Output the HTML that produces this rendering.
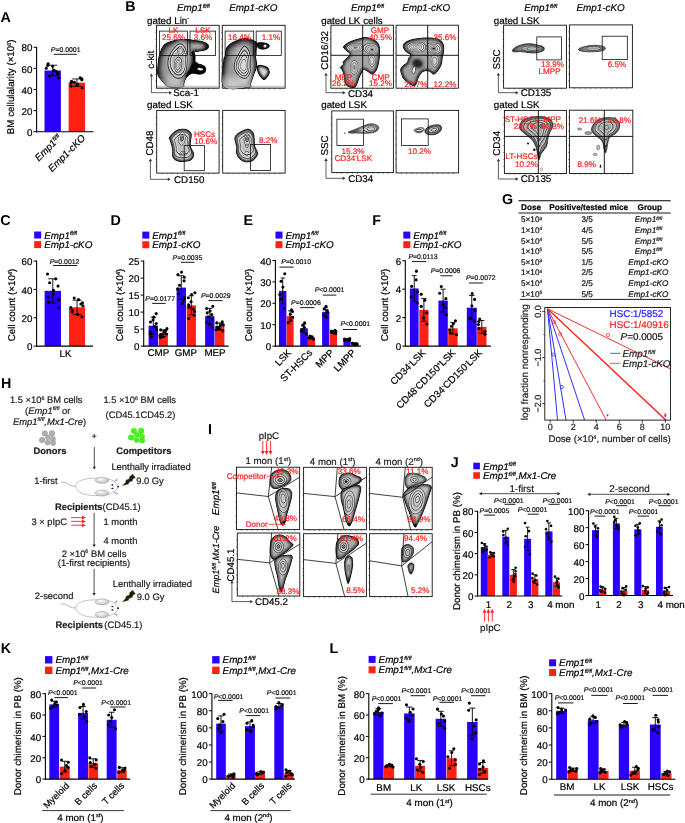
<!DOCTYPE html>
<html><head><meta charset="utf-8"><style>
html,body{margin:0;padding:0;background:#fff;}
svg{display:block;font-family:"Liberation Sans",sans-serif;will-change:transform;text-rendering:geometricPrecision;}
</style></head><body>
<svg width="685" height="823" viewBox="0 0 685 823">
<defs>
<filter id="blur1" x="-50%" y="-50%" width="200%" height="200%"><feGaussianBlur stdDeviation="1"/></filter>
<filter id="blur2" x="-50%" y="-50%" width="200%" height="200%"><feGaussianBlur stdDeviation="2"/></filter>
<filter id="blur1p5" x="-50%" y="-50%" width="200%" height="200%"><feGaussianBlur stdDeviation="1.5"/></filter>
<filter id="blur3" x="-50%" y="-50%" width="200%" height="200%"><feGaussianBlur stdDeviation="3"/></filter>
<linearGradient id="fadeW" x1="0" y1="0" x2="0" y2="1"><stop offset="0" stop-color="#fff" stop-opacity="0"/><stop offset="1" stop-color="#fff" stop-opacity="0.8"/></linearGradient>
<radialGradient id="gblob" cx="50%" cy="50%" r="50%">
<stop offset="0" stop-color="#d8d8d8"/><stop offset="0.35" stop-color="#9a9a9a"/><stop offset="0.75" stop-color="#3a3a3a"/><stop offset="1" stop-color="#050505"/>
</radialGradient>
<radialGradient id="gblob2" cx="50%" cy="50%" r="50%">
<stop offset="0" stop-color="#bdbdbd"/><stop offset="0.5" stop-color="#6e6e6e"/><stop offset="1" stop-color="#1a1a1a"/>
</radialGradient>
<radialGradient id="gcellg" cx="40%" cy="35%" r="70%">
<stop offset="0" stop-color="#c4c4c4"/><stop offset="1" stop-color="#9a9a9a"/>
</radialGradient>
<radialGradient id="gear" cx="40%" cy="35%" r="70%">
<stop offset="0" stop-color="#fafafa"/><stop offset="1" stop-color="#bcbcbc"/>
</radialGradient>
</defs>
<defs><filter id="ins0p6_0p7" x="-20%" y="-20%" width="140%" height="140%"><feMorphology operator="erode" radius="0.6"/><feGaussianBlur stdDeviation="0.7"/></filter><filter id="ins0p8_0p9" x="-20%" y="-20%" width="140%" height="140%"><feMorphology operator="erode" radius="0.8"/><feGaussianBlur stdDeviation="0.9"/></filter><filter id="ins0p9_1p0" x="-20%" y="-20%" width="140%" height="140%"><feMorphology operator="erode" radius="0.9"/><feGaussianBlur stdDeviation="1.0"/></filter><filter id="ins0p9_1p1" x="-20%" y="-20%" width="140%" height="140%"><feMorphology operator="erode" radius="0.9"/><feGaussianBlur stdDeviation="1.1"/></filter><filter id="ins1p0_1p1" x="-20%" y="-20%" width="140%" height="140%"><feMorphology operator="erode" radius="1.0"/><feGaussianBlur stdDeviation="1.1"/></filter><filter id="ins1p1_1p2" x="-20%" y="-20%" width="140%" height="140%"><feMorphology operator="erode" radius="1.1"/><feGaussianBlur stdDeviation="1.2"/></filter><filter id="ins1p2_1p0" x="-20%" y="-20%" width="140%" height="140%"><feMorphology operator="erode" radius="1.2"/><feGaussianBlur stdDeviation="1.0"/></filter><filter id="ins1p2_1p3" x="-20%" y="-20%" width="140%" height="140%"><feMorphology operator="erode" radius="1.2"/><feGaussianBlur stdDeviation="1.3"/></filter><filter id="ins1p3_1p4" x="-20%" y="-20%" width="140%" height="140%"><feMorphology operator="erode" radius="1.3"/><feGaussianBlur stdDeviation="1.4"/></filter><filter id="ins1p4_1p6" x="-20%" y="-20%" width="140%" height="140%"><feMorphology operator="erode" radius="1.4"/><feGaussianBlur stdDeviation="1.6"/></filter><filter id="ins1p6_1p8" x="-20%" y="-20%" width="140%" height="140%"><feMorphology operator="erode" radius="1.6"/><feGaussianBlur stdDeviation="1.8"/></filter><filter id="ins1p8_2p4" x="-20%" y="-20%" width="140%" height="140%"><feMorphology operator="erode" radius="1.8"/><feGaussianBlur stdDeviation="2.4"/></filter></defs>
<rect width="685" height="823" fill="#fff"/>
<text x="0.50" y="22.44" font-size="14.3" style="font-weight:bold">A</text>
<rect x="44.50" y="70.51" width="16.40" height="61.19" fill="#2a00ff"/>
<rect x="68.60" y="82.64" width="16.50" height="49.06" fill="#ff2212"/>
<line x1="52.70" y1="65.23" x2="52.70" y2="75.78" stroke="#000" stroke-width="0.9" />
<line x1="48.11" y1="65.23" x2="57.29" y2="65.23" stroke="#000" stroke-width="0.9" />
<line x1="48.11" y1="75.78" x2="57.29" y2="75.78" stroke="#000" stroke-width="0.9" />
<circle cx="58.56" cy="78.02" r="1.55" fill="#000"/>
<circle cx="49.37" cy="75.94" r="1.55" fill="#000"/>
<circle cx="57.87" cy="74.22" r="1.55" fill="#000"/>
<circle cx="57.40" cy="72.84" r="1.55" fill="#000"/>
<circle cx="56.04" cy="71.33" r="1.55" fill="#000"/>
<circle cx="54.04" cy="70.16" r="1.55" fill="#000"/>
<circle cx="46.26" cy="68.27" r="1.55" fill="#000"/>
<circle cx="52.63" cy="66.30" r="1.55" fill="#000"/>
<circle cx="47.63" cy="65.52" r="1.55" fill="#000"/>
<circle cx="48.13" cy="63.84" r="1.55" fill="#000"/>
<line x1="76.85" y1="78.95" x2="76.85" y2="86.33" stroke="#000" stroke-width="0.9" />
<line x1="72.23" y1="78.95" x2="81.47" y2="78.95" stroke="#000" stroke-width="0.9" />
<line x1="72.23" y1="86.33" x2="81.47" y2="86.33" stroke="#000" stroke-width="0.9" />
<circle cx="82.21" cy="87.71" r="1.55" fill="#000"/>
<circle cx="70.96" cy="86.08" r="1.55" fill="#000"/>
<circle cx="76.69" cy="85.55" r="1.55" fill="#000"/>
<circle cx="77.64" cy="84.30" r="1.55" fill="#000"/>
<circle cx="71.02" cy="82.87" r="1.55" fill="#000"/>
<circle cx="74.26" cy="82.30" r="1.55" fill="#000"/>
<circle cx="71.61" cy="81.25" r="1.55" fill="#000"/>
<circle cx="81.82" cy="79.85" r="1.55" fill="#000"/>
<circle cx="81.84" cy="78.89" r="1.55" fill="#000"/>
<circle cx="80.17" cy="77.81" r="1.55" fill="#000"/>
<line x1="36.60" y1="46.80" x2="36.60" y2="132.20" stroke="#000" stroke-width="1.1" />
<line x1="36.10" y1="131.70" x2="93.50" y2="131.70" stroke="#000" stroke-width="1.1" />
<line x1="33.60" y1="131.70" x2="36.60" y2="131.70" stroke="#000" stroke-width="1.0" />
<text x="32.40" y="135.83" font-size="9.8" text-anchor="end" fill="#000" stroke="#000" stroke-width="0.2" style="" >0</text>
<line x1="33.60" y1="110.60" x2="36.60" y2="110.60" stroke="#000" stroke-width="1.0" />
<text x="32.40" y="114.73" font-size="9.8" text-anchor="end" fill="#000" stroke="#000" stroke-width="0.2" style="" >20</text>
<line x1="33.60" y1="89.50" x2="36.60" y2="89.50" stroke="#000" stroke-width="1.0" />
<text x="32.40" y="93.63" font-size="9.8" text-anchor="end" fill="#000" stroke="#000" stroke-width="0.2" style="" >40</text>
<line x1="33.60" y1="68.40" x2="36.60" y2="68.40" stroke="#000" stroke-width="1.0" />
<text x="32.40" y="72.53" font-size="9.8" text-anchor="end" fill="#000" stroke="#000" stroke-width="0.2" style="" >60</text>
<line x1="33.60" y1="47.30" x2="36.60" y2="47.30" stroke="#000" stroke-width="1.0" />
<text x="32.40" y="51.43" font-size="9.8" text-anchor="end" fill="#000" stroke="#000" stroke-width="0.2" style="" >80</text>
<text x="65.70" y="52.08" font-size="6.9" text-anchor="middle" fill="#111" stroke="#111" stroke-width="0.2" style="" ><tspan style="font-style:italic">P</tspan>=0.0001</text>
<line x1="53.70" y1="54.30" x2="76.90" y2="54.30" stroke="#000" stroke-width="0.9" />
<text transform="translate(13.83,86.80) rotate(-90)" font-size="9.8" text-anchor="middle" fill="#000" stroke="#000" stroke-width="0.2" style="">BM cellulalarity (×10<tspan font-size="5.59" dy="-3.33">6</tspan><tspan dy="3.33">)</tspan></text>
<text transform="translate(62.00,138.50) rotate(-45)" font-size="9.8" text-anchor="end" stroke="#000" stroke-width="0.2" style="font-style:italic;">Emp1<tspan font-size="5.59" dy="-3.33">fl/fl</tspan><tspan dy="3.33"></tspan></text>
<text transform="translate(86.00,138.50) rotate(-45)" font-size="9.8" text-anchor="end" stroke="#000" stroke-width="0.2" style="font-style:italic;">Emp1-cKO</text>
<text x="0.30" y="224.54" font-size="14.3" style="font-weight:bold">C</text>
<rect x="34.20" y="231.50" width="7.00" height="7.00" fill="#2a00ff"/>
<rect x="34.20" y="241.10" width="7.00" height="7.00" fill="#ff2212"/>
<text x="44.20" y="238.55" font-size="9.85" text-anchor="start" fill="#000" stroke="#000" stroke-width="0.2" style="font-style:italic;" >Emp1<tspan font-size="5.61" dy="-3.35">fl/fl</tspan><tspan dy="3.35"></tspan></text>
<text x="44.20" y="248.15" font-size="9.85" text-anchor="start" fill="#000" stroke="#000" stroke-width="0.2" style="font-style:italic;" >Emp1-cKO</text>
<rect x="44.60" y="290.84" width="16.40" height="55.26" fill="#2a00ff"/>
<rect x="69.00" y="307.27" width="16.10" height="38.83" fill="#ff2212"/>
<line x1="52.80" y1="278.79" x2="52.80" y2="302.88" stroke="#000" stroke-width="0.9" />
<line x1="48.21" y1="278.79" x2="57.39" y2="278.79" stroke="#000" stroke-width="0.9" />
<line x1="48.21" y1="302.88" x2="57.39" y2="302.88" stroke="#000" stroke-width="0.9" />
<circle cx="58.51" cy="307.71" r="1.55" fill="#000"/>
<circle cx="48.54" cy="302.14" r="1.55" fill="#000"/>
<circle cx="58.77" cy="299.63" r="1.55" fill="#000"/>
<circle cx="48.13" cy="296.96" r="1.55" fill="#000"/>
<circle cx="53.46" cy="293.78" r="1.55" fill="#000"/>
<circle cx="53.46" cy="290.34" r="1.55" fill="#000"/>
<circle cx="58.04" cy="286.12" r="1.55" fill="#000"/>
<circle cx="49.64" cy="282.74" r="1.55" fill="#000"/>
<circle cx="55.67" cy="278.83" r="1.55" fill="#000"/>
<circle cx="47.54" cy="274.01" r="1.55" fill="#000"/>
<line x1="77.05" y1="300.19" x2="77.05" y2="314.36" stroke="#000" stroke-width="0.9" />
<line x1="72.54" y1="300.19" x2="81.56" y2="300.19" stroke="#000" stroke-width="0.9" />
<line x1="72.54" y1="314.36" x2="81.56" y2="314.36" stroke="#000" stroke-width="0.9" />
<circle cx="81.95" cy="316.75" r="1.55" fill="#000"/>
<circle cx="77.74" cy="314.66" r="1.55" fill="#000"/>
<circle cx="72.14" cy="311.74" r="1.55" fill="#000"/>
<circle cx="72.30" cy="310.31" r="1.55" fill="#000"/>
<circle cx="70.84" cy="307.66" r="1.55" fill="#000"/>
<circle cx="82.88" cy="305.71" r="1.55" fill="#000"/>
<circle cx="80.90" cy="303.97" r="1.55" fill="#000"/>
<circle cx="82.45" cy="302.75" r="1.55" fill="#000"/>
<circle cx="78.49" cy="299.63" r="1.55" fill="#000"/>
<circle cx="74.23" cy="298.04" r="1.55" fill="#000"/>
<line x1="36.60" y1="260.58" x2="36.60" y2="346.60" stroke="#000" stroke-width="1.1" />
<line x1="36.10" y1="346.10" x2="93.10" y2="346.10" stroke="#000" stroke-width="1.1" />
<line x1="33.60" y1="346.10" x2="36.60" y2="346.10" stroke="#000" stroke-width="1.0" />
<text x="32.40" y="350.23" font-size="9.8" text-anchor="end" fill="#000" stroke="#000" stroke-width="0.2" style="" >0</text>
<line x1="33.60" y1="317.76" x2="36.60" y2="317.76" stroke="#000" stroke-width="1.0" />
<text x="32.40" y="321.89" font-size="9.8" text-anchor="end" fill="#000" stroke="#000" stroke-width="0.2" style="" >20</text>
<line x1="33.60" y1="289.42" x2="36.60" y2="289.42" stroke="#000" stroke-width="1.0" />
<text x="32.40" y="293.55" font-size="9.8" text-anchor="end" fill="#000" stroke="#000" stroke-width="0.2" style="" >40</text>
<line x1="33.60" y1="261.08" x2="36.60" y2="261.08" stroke="#000" stroke-width="1.0" />
<text x="32.40" y="265.21" font-size="9.8" text-anchor="end" fill="#000" stroke="#000" stroke-width="0.2" style="" >60</text>
<text x="64.60" y="263.98" font-size="6.9" text-anchor="middle" fill="#111" stroke="#111" stroke-width="0.2" style="" ><tspan style="font-style:italic">P</tspan>=0.0012</text>
<line x1="53.00" y1="265.50" x2="77.10" y2="265.50" stroke="#000" stroke-width="0.9" />
<text x="65.50" y="357.13" font-size="9.8" text-anchor="middle" fill="#000" stroke="#000" stroke-width="0.2" style="" >LK</text>
<text transform="translate(15.03,305.00) rotate(-90)" font-size="9.8" text-anchor="middle" fill="#000" stroke="#000" stroke-width="0.2" style="">Cell count (×10<tspan font-size="5.59" dy="-3.33">4</tspan><tspan dy="3.33">)</tspan></text>
<text x="110.50" y="225.44" font-size="14.3" style="font-weight:bold">D</text>
<rect x="142.30" y="231.60" width="7.00" height="7.00" fill="#2a00ff"/>
<rect x="142.30" y="241.20" width="7.00" height="7.00" fill="#ff2212"/>
<text x="152.30" y="238.65" font-size="9.85" text-anchor="start" fill="#000" stroke="#000" stroke-width="0.2" style="font-style:italic;" >Emp1<tspan font-size="5.61" dy="-3.35">fl/fl</tspan><tspan dy="3.35"></tspan></text>
<text x="152.30" y="248.25" font-size="9.85" text-anchor="start" fill="#000" stroke="#000" stroke-width="0.2" style="font-style:italic;" >Emp1-cKO</text>
<rect x="148.60" y="325.70" width="9.40" height="20.40" fill="#2a00ff"/>
<rect x="158.70" y="333.18" width="9.20" height="12.92" fill="#ff2212"/>
<rect x="176.60" y="287.62" width="9.40" height="58.48" fill="#2a00ff"/>
<rect x="186.70" y="305.30" width="9.20" height="40.80" fill="#ff2212"/>
<rect x="205.10" y="316.18" width="9.40" height="29.92" fill="#2a00ff"/>
<rect x="215.00" y="326.38" width="9.40" height="19.72" fill="#ff2212"/>
<line x1="153.30" y1="317.20" x2="153.30" y2="334.20" stroke="#000" stroke-width="0.9" />
<line x1="150.67" y1="317.20" x2="155.93" y2="317.20" stroke="#000" stroke-width="0.9" />
<line x1="150.67" y1="334.20" x2="155.93" y2="334.20" stroke="#000" stroke-width="0.9" />
<circle cx="151.49" cy="336.80" r="1.55" fill="#000"/>
<circle cx="150.11" cy="333.64" r="1.55" fill="#000"/>
<circle cx="150.23" cy="331.89" r="1.55" fill="#000"/>
<circle cx="156.51" cy="329.58" r="1.55" fill="#000"/>
<circle cx="155.06" cy="326.54" r="1.55" fill="#000"/>
<circle cx="156.24" cy="323.46" r="1.55" fill="#000"/>
<circle cx="150.45" cy="322.07" r="1.55" fill="#000"/>
<circle cx="153.02" cy="319.95" r="1.55" fill="#000"/>
<circle cx="153.79" cy="317.13" r="1.55" fill="#000"/>
<circle cx="156.21" cy="313.59" r="1.55" fill="#000"/>
<line x1="163.30" y1="329.78" x2="163.30" y2="336.58" stroke="#000" stroke-width="0.9" />
<line x1="160.72" y1="329.78" x2="165.88" y2="329.78" stroke="#000" stroke-width="0.9" />
<line x1="160.72" y1="336.58" x2="165.88" y2="336.58" stroke="#000" stroke-width="0.9" />
<circle cx="160.45" cy="337.80" r="1.55" fill="#000"/>
<circle cx="163.30" cy="336.73" r="1.55" fill="#000"/>
<circle cx="159.99" cy="335.84" r="1.55" fill="#000"/>
<circle cx="161.39" cy="334.37" r="1.55" fill="#000"/>
<circle cx="166.54" cy="334.07" r="1.55" fill="#000"/>
<circle cx="164.72" cy="332.97" r="1.55" fill="#000"/>
<circle cx="163.85" cy="331.66" r="1.55" fill="#000"/>
<circle cx="165.79" cy="330.48" r="1.55" fill="#000"/>
<circle cx="160.70" cy="329.90" r="1.55" fill="#000"/>
<circle cx="166.93" cy="328.65" r="1.55" fill="#000"/>
<line x1="181.30" y1="275.72" x2="181.30" y2="299.52" stroke="#000" stroke-width="0.9" />
<line x1="178.67" y1="275.72" x2="183.93" y2="275.72" stroke="#000" stroke-width="0.9" />
<line x1="178.67" y1="299.52" x2="183.93" y2="299.52" stroke="#000" stroke-width="0.9" />
<circle cx="182.17" cy="303.65" r="1.55" fill="#000"/>
<circle cx="183.51" cy="300.01" r="1.55" fill="#000"/>
<circle cx="184.36" cy="297.67" r="1.55" fill="#000"/>
<circle cx="178.62" cy="293.95" r="1.55" fill="#000"/>
<circle cx="177.59" cy="289.12" r="1.55" fill="#000"/>
<circle cx="179.47" cy="285.21" r="1.55" fill="#000"/>
<circle cx="184.09" cy="280.86" r="1.55" fill="#000"/>
<circle cx="184.22" cy="277.29" r="1.55" fill="#000"/>
<circle cx="177.92" cy="274.67" r="1.55" fill="#000"/>
<circle cx="181.52" cy="272.12" r="1.55" fill="#000"/>
<line x1="191.30" y1="295.78" x2="191.30" y2="314.82" stroke="#000" stroke-width="0.9" />
<line x1="188.72" y1="295.78" x2="193.88" y2="295.78" stroke="#000" stroke-width="0.9" />
<line x1="188.72" y1="314.82" x2="193.88" y2="314.82" stroke="#000" stroke-width="0.9" />
<circle cx="188.75" cy="318.47" r="1.55" fill="#000"/>
<circle cx="194.21" cy="315.23" r="1.55" fill="#000"/>
<circle cx="194.51" cy="311.43" r="1.55" fill="#000"/>
<circle cx="193.33" cy="308.95" r="1.55" fill="#000"/>
<circle cx="189.07" cy="307.37" r="1.55" fill="#000"/>
<circle cx="188.61" cy="304.92" r="1.55" fill="#000"/>
<circle cx="191.11" cy="301.80" r="1.55" fill="#000"/>
<circle cx="188.31" cy="297.77" r="1.55" fill="#000"/>
<circle cx="191.56" cy="294.50" r="1.55" fill="#000"/>
<circle cx="194.85" cy="292.75" r="1.55" fill="#000"/>
<line x1="209.80" y1="308.36" x2="209.80" y2="324.00" stroke="#000" stroke-width="0.9" />
<line x1="207.17" y1="308.36" x2="212.43" y2="308.36" stroke="#000" stroke-width="0.9" />
<line x1="207.17" y1="324.00" x2="212.43" y2="324.00" stroke="#000" stroke-width="0.9" />
<circle cx="212.50" cy="327.19" r="1.55" fill="#000"/>
<circle cx="209.89" cy="324.22" r="1.55" fill="#000"/>
<circle cx="207.07" cy="322.34" r="1.55" fill="#000"/>
<circle cx="212.35" cy="319.08" r="1.55" fill="#000"/>
<circle cx="208.01" cy="316.70" r="1.55" fill="#000"/>
<circle cx="211.74" cy="314.65" r="1.55" fill="#000"/>
<circle cx="207.24" cy="312.84" r="1.55" fill="#000"/>
<circle cx="210.01" cy="311.02" r="1.55" fill="#000"/>
<circle cx="206.60" cy="308.49" r="1.55" fill="#000"/>
<circle cx="212.80" cy="306.23" r="1.55" fill="#000"/>
<line x1="219.70" y1="322.98" x2="219.70" y2="329.78" stroke="#000" stroke-width="0.9" />
<line x1="217.07" y1="322.98" x2="222.33" y2="322.98" stroke="#000" stroke-width="0.9" />
<line x1="217.07" y1="329.78" x2="222.33" y2="329.78" stroke="#000" stroke-width="0.9" />
<circle cx="222.83" cy="330.68" r="1.55" fill="#000"/>
<circle cx="216.21" cy="329.79" r="1.55" fill="#000"/>
<circle cx="219.24" cy="328.89" r="1.55" fill="#000"/>
<circle cx="217.73" cy="327.57" r="1.55" fill="#000"/>
<circle cx="216.99" cy="326.97" r="1.55" fill="#000"/>
<circle cx="220.33" cy="325.69" r="1.55" fill="#000"/>
<circle cx="223.36" cy="325.09" r="1.55" fill="#000"/>
<circle cx="221.87" cy="323.66" r="1.55" fill="#000"/>
<circle cx="216.78" cy="322.91" r="1.55" fill="#000"/>
<circle cx="222.29" cy="321.92" r="1.55" fill="#000"/>
<line x1="143.70" y1="260.60" x2="143.70" y2="346.60" stroke="#000" stroke-width="1.1" />
<line x1="143.20" y1="346.10" x2="228.70" y2="346.10" stroke="#000" stroke-width="1.1" />
<line x1="140.70" y1="346.10" x2="143.70" y2="346.10" stroke="#000" stroke-width="1.0" />
<text x="139.50" y="350.23" font-size="9.8" text-anchor="end" fill="#000" stroke="#000" stroke-width="0.2" style="" >0</text>
<line x1="140.70" y1="329.10" x2="143.70" y2="329.10" stroke="#000" stroke-width="1.0" />
<text x="139.50" y="333.23" font-size="9.8" text-anchor="end" fill="#000" stroke="#000" stroke-width="0.2" style="" >5</text>
<line x1="140.70" y1="312.10" x2="143.70" y2="312.10" stroke="#000" stroke-width="1.0" />
<text x="139.50" y="316.23" font-size="9.8" text-anchor="end" fill="#000" stroke="#000" stroke-width="0.2" style="" >10</text>
<line x1="140.70" y1="295.10" x2="143.70" y2="295.10" stroke="#000" stroke-width="1.0" />
<text x="139.50" y="299.23" font-size="9.8" text-anchor="end" fill="#000" stroke="#000" stroke-width="0.2" style="" >15</text>
<line x1="140.70" y1="278.10" x2="143.70" y2="278.10" stroke="#000" stroke-width="1.0" />
<text x="139.50" y="282.23" font-size="9.8" text-anchor="end" fill="#000" stroke="#000" stroke-width="0.2" style="" >20</text>
<line x1="140.70" y1="261.10" x2="143.70" y2="261.10" stroke="#000" stroke-width="1.0" />
<text x="139.50" y="265.23" font-size="9.8" text-anchor="end" fill="#000" stroke="#000" stroke-width="0.2" style="" >25</text>
<text x="187.40" y="260.38" font-size="6.9" text-anchor="middle" fill="#111" stroke="#111" stroke-width="0.2" style="" ><tspan style="font-style:italic">P</tspan>=0.0035</text>
<line x1="181.00" y1="262.30" x2="194.60" y2="262.30" stroke="#000" stroke-width="0.9" />
<text x="160.20" y="300.88" font-size="6.9" text-anchor="middle" fill="#111" stroke="#111" stroke-width="0.2" style="" ><tspan style="font-style:italic">P</tspan>=0.0177</text>
<line x1="152.10" y1="303.40" x2="165.70" y2="303.40" stroke="#000" stroke-width="0.9" />
<text x="215.80" y="297.98" font-size="6.9" text-anchor="middle" fill="#111" stroke="#111" stroke-width="0.2" style="" ><tspan style="font-style:italic">P</tspan>=0.0029</text>
<line x1="208.40" y1="300.60" x2="222.60" y2="300.60" stroke="#000" stroke-width="0.9" />
<text x="158.30" y="356.23" font-size="9.8" text-anchor="middle" fill="#000" stroke="#000" stroke-width="0.2" style="" >CMP</text>
<text x="185.90" y="356.23" font-size="9.8" text-anchor="middle" fill="#000" stroke="#000" stroke-width="0.2" style="" >GMP</text>
<text x="215.00" y="356.23" font-size="9.8" text-anchor="middle" fill="#000" stroke="#000" stroke-width="0.2" style="" >MEP</text>
<text transform="translate(122.83,305.00) rotate(-90)" font-size="9.8" text-anchor="middle" fill="#000" stroke="#000" stroke-width="0.2" style="">Cell count (×10<tspan font-size="5.59" dy="-3.33">4</tspan><tspan dy="3.33">)</tspan></text>
<text x="243.40" y="225.44" font-size="14.3" style="font-weight:bold">E</text>
<rect x="275.50" y="231.60" width="7.00" height="7.00" fill="#2a00ff"/>
<rect x="275.50" y="241.20" width="7.00" height="7.00" fill="#ff2212"/>
<text x="285.50" y="238.65" font-size="9.85" text-anchor="start" fill="#000" stroke="#000" stroke-width="0.2" style="font-style:italic;" >Emp1<tspan font-size="5.61" dy="-3.35">fl/fl</tspan><tspan dy="3.35"></tspan></text>
<text x="285.50" y="248.25" font-size="9.85" text-anchor="start" fill="#000" stroke="#000" stroke-width="0.2" style="font-style:italic;" >Emp1-cKO</text>
<rect x="279.00" y="290.89" width="7.40" height="55.21" fill="#2a00ff"/>
<rect x="286.60" y="316.14" width="7.00" height="29.96" fill="#ff2212"/>
<rect x="300.20" y="328.34" width="7.70" height="17.76" fill="#2a00ff"/>
<rect x="307.90" y="337.54" width="7.20" height="8.56" fill="#ff2212"/>
<rect x="322.10" y="311.86" width="7.20" height="34.24" fill="#2a00ff"/>
<rect x="329.80" y="331.98" width="7.20" height="14.12" fill="#ff2212"/>
<rect x="343.40" y="339.68" width="7.20" height="6.42" fill="#2a00ff"/>
<rect x="351.00" y="343.96" width="7.20" height="2.14" fill="#ff2212"/>
<line x1="282.70" y1="278.05" x2="282.70" y2="303.73" stroke="#000" stroke-width="0.9" />
<line x1="280.63" y1="278.05" x2="284.77" y2="278.05" stroke="#000" stroke-width="0.9" />
<line x1="280.63" y1="303.73" x2="284.77" y2="303.73" stroke="#000" stroke-width="0.9" />
<circle cx="284.00" cy="308.23" r="1.55" fill="#000"/>
<circle cx="280.68" cy="299.15" r="1.55" fill="#000"/>
<circle cx="279.88" cy="294.53" r="1.55" fill="#000"/>
<circle cx="282.86" cy="287.11" r="1.55" fill="#000"/>
<circle cx="281.05" cy="281.25" r="1.55" fill="#000"/>
<circle cx="284.76" cy="273.72" r="1.55" fill="#000"/>
<line x1="290.10" y1="310.79" x2="290.10" y2="321.49" stroke="#000" stroke-width="0.9" />
<line x1="288.14" y1="310.79" x2="292.06" y2="310.79" stroke="#000" stroke-width="0.9" />
<line x1="288.14" y1="321.49" x2="292.06" y2="321.49" stroke="#000" stroke-width="0.9" />
<circle cx="288.25" cy="322.67" r="1.55" fill="#000"/>
<circle cx="290.75" cy="320.48" r="1.55" fill="#000"/>
<circle cx="292.64" cy="317.34" r="1.55" fill="#000"/>
<circle cx="290.30" cy="314.32" r="1.55" fill="#000"/>
<circle cx="292.50" cy="311.53" r="1.55" fill="#000"/>
<circle cx="291.60" cy="309.89" r="1.55" fill="#000"/>
<line x1="304.05" y1="324.06" x2="304.05" y2="332.62" stroke="#000" stroke-width="0.9" />
<line x1="301.89" y1="324.06" x2="306.21" y2="324.06" stroke="#000" stroke-width="0.9" />
<line x1="301.89" y1="332.62" x2="306.21" y2="332.62" stroke="#000" stroke-width="0.9" />
<circle cx="306.47" cy="333.97" r="1.55" fill="#000"/>
<circle cx="301.37" cy="331.24" r="1.55" fill="#000"/>
<circle cx="301.83" cy="329.61" r="1.55" fill="#000"/>
<circle cx="304.38" cy="327.57" r="1.55" fill="#000"/>
<circle cx="302.78" cy="325.21" r="1.55" fill="#000"/>
<circle cx="304.65" cy="322.73" r="1.55" fill="#000"/>
<line x1="311.50" y1="336.26" x2="311.50" y2="338.82" stroke="#000" stroke-width="0.9" />
<line x1="309.48" y1="336.26" x2="313.52" y2="336.26" stroke="#000" stroke-width="0.9" />
<line x1="309.48" y1="338.82" x2="313.52" y2="338.82" stroke="#000" stroke-width="0.9" />
<circle cx="313.47" cy="339.08" r="1.55" fill="#000"/>
<circle cx="312.83" cy="338.61" r="1.55" fill="#000"/>
<circle cx="308.94" cy="337.95" r="1.55" fill="#000"/>
<circle cx="311.38" cy="337.14" r="1.55" fill="#000"/>
<circle cx="311.82" cy="336.71" r="1.55" fill="#000"/>
<circle cx="309.89" cy="336.01" r="1.55" fill="#000"/>
<line x1="325.70" y1="307.58" x2="325.70" y2="316.14" stroke="#000" stroke-width="0.9" />
<line x1="323.68" y1="307.58" x2="327.72" y2="307.58" stroke="#000" stroke-width="0.9" />
<line x1="323.68" y1="316.14" x2="327.72" y2="316.14" stroke="#000" stroke-width="0.9" />
<circle cx="326.20" cy="317.28" r="1.55" fill="#000"/>
<circle cx="323.57" cy="315.28" r="1.55" fill="#000"/>
<circle cx="327.80" cy="312.59" r="1.55" fill="#000"/>
<circle cx="327.25" cy="310.53" r="1.55" fill="#000"/>
<circle cx="324.10" cy="308.99" r="1.55" fill="#000"/>
<circle cx="326.00" cy="306.42" r="1.55" fill="#000"/>
<line x1="333.40" y1="330.69" x2="333.40" y2="333.26" stroke="#000" stroke-width="0.9" />
<line x1="331.38" y1="330.69" x2="335.42" y2="330.69" stroke="#000" stroke-width="0.9" />
<line x1="331.38" y1="333.26" x2="335.42" y2="333.26" stroke="#000" stroke-width="0.9" />
<circle cx="335.71" cy="333.70" r="1.55" fill="#000"/>
<circle cx="333.55" cy="332.86" r="1.55" fill="#000"/>
<circle cx="331.61" cy="332.31" r="1.55" fill="#000"/>
<circle cx="335.98" cy="331.53" r="1.55" fill="#000"/>
<circle cx="331.38" cy="331.12" r="1.55" fill="#000"/>
<circle cx="334.99" cy="330.24" r="1.55" fill="#000"/>
<line x1="347.00" y1="338.82" x2="347.00" y2="340.54" stroke="#000" stroke-width="0.9" />
<line x1="344.98" y1="338.82" x2="349.02" y2="338.82" stroke="#000" stroke-width="0.9" />
<line x1="344.98" y1="340.54" x2="349.02" y2="340.54" stroke="#000" stroke-width="0.9" />
<circle cx="344.92" cy="340.72" r="1.55" fill="#000"/>
<circle cx="348.87" cy="340.37" r="1.55" fill="#000"/>
<circle cx="349.66" cy="339.94" r="1.55" fill="#000"/>
<circle cx="347.67" cy="339.56" r="1.55" fill="#000"/>
<circle cx="344.46" cy="339.10" r="1.55" fill="#000"/>
<circle cx="349.79" cy="338.64" r="1.55" fill="#000"/>
<line x1="354.60" y1="343.32" x2="354.60" y2="344.60" stroke="#000" stroke-width="0.9" />
<line x1="352.58" y1="343.32" x2="356.62" y2="343.32" stroke="#000" stroke-width="0.9" />
<line x1="352.58" y1="344.60" x2="356.62" y2="344.60" stroke="#000" stroke-width="0.9" />
<circle cx="354.55" cy="344.80" r="1.55" fill="#000"/>
<circle cx="357.08" cy="344.38" r="1.55" fill="#000"/>
<circle cx="356.56" cy="344.11" r="1.55" fill="#000"/>
<circle cx="356.78" cy="343.80" r="1.55" fill="#000"/>
<circle cx="354.66" cy="343.44" r="1.55" fill="#000"/>
<circle cx="352.18" cy="343.11" r="1.55" fill="#000"/>
<line x1="275.40" y1="260.00" x2="275.40" y2="346.60" stroke="#000" stroke-width="1.1" />
<line x1="274.90" y1="346.10" x2="360.90" y2="346.10" stroke="#000" stroke-width="1.1" />
<line x1="272.40" y1="346.10" x2="275.40" y2="346.10" stroke="#000" stroke-width="1.0" />
<text x="271.20" y="350.23" font-size="9.8" text-anchor="end" fill="#000" stroke="#000" stroke-width="0.2" style="" >0</text>
<line x1="272.40" y1="324.70" x2="275.40" y2="324.70" stroke="#000" stroke-width="1.0" />
<text x="271.20" y="328.83" font-size="9.8" text-anchor="end" fill="#000" stroke="#000" stroke-width="0.2" style="" >10</text>
<line x1="272.40" y1="303.30" x2="275.40" y2="303.30" stroke="#000" stroke-width="1.0" />
<text x="271.20" y="307.43" font-size="9.8" text-anchor="end" fill="#000" stroke="#000" stroke-width="0.2" style="" >20</text>
<line x1="272.40" y1="281.90" x2="275.40" y2="281.90" stroke="#000" stroke-width="1.0" />
<text x="271.20" y="286.03" font-size="9.8" text-anchor="end" fill="#000" stroke="#000" stroke-width="0.2" style="" >30</text>
<line x1="272.40" y1="260.50" x2="275.40" y2="260.50" stroke="#000" stroke-width="1.0" />
<text x="271.20" y="264.63" font-size="9.8" text-anchor="end" fill="#000" stroke="#000" stroke-width="0.2" style="" >40</text>
<text x="296.20" y="264.28" font-size="6.9" text-anchor="middle" fill="#111" stroke="#111" stroke-width="0.2" style="" ><tspan style="font-style:italic">P</tspan>=0.0010</text>
<line x1="279.40" y1="267.10" x2="293.60" y2="267.10" stroke="#000" stroke-width="0.9" />
<text x="305.90" y="304.78" font-size="6.9" text-anchor="middle" fill="#111" stroke="#111" stroke-width="0.2" style="" ><tspan style="font-style:italic">P</tspan>=0.0006</text>
<line x1="300.20" y1="307.60" x2="314.40" y2="307.60" stroke="#000" stroke-width="0.9" />
<text x="329.60" y="292.08" font-size="6.9" text-anchor="middle" fill="#111" stroke="#111" stroke-width="0.2" style="" ><tspan style="font-style:italic">P</tspan>&lt;0.0001</text>
<line x1="322.80" y1="295.10" x2="336.30" y2="295.10" stroke="#000" stroke-width="0.9" />
<text x="355.30" y="326.48" font-size="6.9" text-anchor="middle" fill="#111" stroke="#111" stroke-width="0.2" style="" ><tspan style="font-style:italic">P</tspan>&lt;0.0001</text>
<line x1="343.00" y1="329.50" x2="357.10" y2="329.50" stroke="#000" stroke-width="0.9" />
<text transform="translate(292.00,353.30) rotate(-45)" font-size="9.8" text-anchor="end" stroke="#000" stroke-width="0.2" style="">LSK</text>
<text transform="translate(313.00,353.30) rotate(-45)" font-size="9.8" text-anchor="end" stroke="#000" stroke-width="0.2" style="">ST-HSCs</text>
<text transform="translate(334.50,353.30) rotate(-45)" font-size="9.8" text-anchor="end" stroke="#000" stroke-width="0.2" style="">MPP</text>
<text transform="translate(356.50,353.30) rotate(-45)" font-size="9.8" text-anchor="end" stroke="#000" stroke-width="0.2" style="">LMPP</text>
<text transform="translate(252.33,305.00) rotate(-90)" font-size="9.8" text-anchor="middle" fill="#000" stroke="#000" stroke-width="0.2" style="">Cell count (×10<tspan font-size="5.59" dy="-3.33">3</tspan><tspan dy="3.33">)</tspan></text>
<text x="372.20" y="225.44" font-size="14.3" style="font-weight:bold">F</text>
<rect x="403.30" y="231.60" width="7.00" height="7.00" fill="#2a00ff"/>
<rect x="403.30" y="241.20" width="7.00" height="7.00" fill="#ff2212"/>
<text x="413.30" y="238.65" font-size="9.85" text-anchor="start" fill="#000" stroke="#000" stroke-width="0.2" style="font-style:italic;" >Emp1<tspan font-size="5.61" dy="-3.35">fl/fl</tspan><tspan dy="3.35"></tspan></text>
<text x="413.30" y="248.25" font-size="9.85" text-anchor="start" fill="#000" stroke="#000" stroke-width="0.2" style="font-style:italic;" >Emp1-cKO</text>
<rect x="409.90" y="288.47" width="8.70" height="57.63" fill="#2a00ff"/>
<rect x="419.30" y="309.81" width="9.20" height="36.29" fill="#ff2212"/>
<rect x="438.40" y="300.56" width="9.40" height="45.54" fill="#2a00ff"/>
<rect x="448.20" y="328.31" width="9.40" height="17.79" fill="#ff2212"/>
<rect x="466.80" y="307.68" width="9.90" height="38.42" fill="#2a00ff"/>
<rect x="477.10" y="326.89" width="9.40" height="19.21" fill="#ff2212"/>
<line x1="414.25" y1="275.66" x2="414.25" y2="301.28" stroke="#000" stroke-width="0.9" />
<line x1="411.81" y1="275.66" x2="416.69" y2="275.66" stroke="#000" stroke-width="0.9" />
<line x1="411.81" y1="301.28" x2="416.69" y2="301.28" stroke="#000" stroke-width="0.9" />
<circle cx="417.17" cy="303.01" r="1.55" fill="#000"/>
<circle cx="411.23" cy="296.89" r="1.55" fill="#000"/>
<circle cx="417.59" cy="291.87" r="1.55" fill="#000"/>
<circle cx="411.63" cy="286.33" r="1.55" fill="#000"/>
<circle cx="416.15" cy="279.86" r="1.55" fill="#000"/>
<circle cx="416.43" cy="271.15" r="1.55" fill="#000"/>
<line x1="423.90" y1="298.43" x2="423.90" y2="321.20" stroke="#000" stroke-width="0.9" />
<line x1="421.32" y1="298.43" x2="426.48" y2="298.43" stroke="#000" stroke-width="0.9" />
<line x1="421.32" y1="321.20" x2="426.48" y2="321.20" stroke="#000" stroke-width="0.9" />
<circle cx="426.94" cy="324.12" r="1.55" fill="#000"/>
<circle cx="423.44" cy="317.96" r="1.55" fill="#000"/>
<circle cx="426.83" cy="312.87" r="1.55" fill="#000"/>
<circle cx="421.24" cy="306.42" r="1.55" fill="#000"/>
<circle cx="424.82" cy="300.32" r="1.55" fill="#000"/>
<circle cx="421.25" cy="294.25" r="1.55" fill="#000"/>
<line x1="443.10" y1="289.18" x2="443.10" y2="311.95" stroke="#000" stroke-width="0.9" />
<line x1="440.47" y1="289.18" x2="445.73" y2="289.18" stroke="#000" stroke-width="0.9" />
<line x1="440.47" y1="311.95" x2="445.73" y2="311.95" stroke="#000" stroke-width="0.9" />
<circle cx="446.09" cy="314.72" r="1.55" fill="#000"/>
<circle cx="445.47" cy="307.85" r="1.55" fill="#000"/>
<circle cx="443.38" cy="304.24" r="1.55" fill="#000"/>
<circle cx="445.87" cy="298.67" r="1.55" fill="#000"/>
<circle cx="439.71" cy="293.30" r="1.55" fill="#000"/>
<circle cx="441.27" cy="286.49" r="1.55" fill="#000"/>
<line x1="452.90" y1="322.62" x2="452.90" y2="334.00" stroke="#000" stroke-width="0.9" />
<line x1="450.27" y1="322.62" x2="455.53" y2="322.62" stroke="#000" stroke-width="0.9" />
<line x1="450.27" y1="334.00" x2="455.53" y2="334.00" stroke="#000" stroke-width="0.9" />
<circle cx="456.44" cy="334.78" r="1.55" fill="#000"/>
<circle cx="450.27" cy="332.84" r="1.55" fill="#000"/>
<circle cx="449.78" cy="329.98" r="1.55" fill="#000"/>
<circle cx="451.48" cy="326.22" r="1.55" fill="#000"/>
<circle cx="453.37" cy="323.81" r="1.55" fill="#000"/>
<circle cx="455.44" cy="320.72" r="1.55" fill="#000"/>
<line x1="471.75" y1="295.58" x2="471.75" y2="319.77" stroke="#000" stroke-width="0.9" />
<line x1="468.98" y1="295.58" x2="474.52" y2="295.58" stroke="#000" stroke-width="0.9" />
<line x1="468.98" y1="319.77" x2="474.52" y2="319.77" stroke="#000" stroke-width="0.9" />
<circle cx="474.11" cy="321.37" r="1.55" fill="#000"/>
<circle cx="469.73" cy="318.00" r="1.55" fill="#000"/>
<circle cx="475.12" cy="310.48" r="1.55" fill="#000"/>
<circle cx="471.84" cy="305.68" r="1.55" fill="#000"/>
<circle cx="474.62" cy="299.38" r="1.55" fill="#000"/>
<circle cx="472.16" cy="293.67" r="1.55" fill="#000"/>
<line x1="481.80" y1="320.49" x2="481.80" y2="333.29" stroke="#000" stroke-width="0.9" />
<line x1="479.17" y1="320.49" x2="484.43" y2="320.49" stroke="#000" stroke-width="0.9" />
<line x1="479.17" y1="333.29" x2="484.43" y2="333.29" stroke="#000" stroke-width="0.9" />
<circle cx="484.99" cy="334.21" r="1.55" fill="#000"/>
<circle cx="484.87" cy="331.48" r="1.55" fill="#000"/>
<circle cx="478.99" cy="328.50" r="1.55" fill="#000"/>
<circle cx="478.48" cy="324.59" r="1.55" fill="#000"/>
<circle cx="478.76" cy="321.56" r="1.55" fill="#000"/>
<circle cx="479.70" cy="319.01" r="1.55" fill="#000"/>
<line x1="405.30" y1="260.22" x2="405.30" y2="346.60" stroke="#000" stroke-width="1.1" />
<line x1="404.80" y1="346.10" x2="490.90" y2="346.10" stroke="#000" stroke-width="1.1" />
<line x1="402.30" y1="346.10" x2="405.30" y2="346.10" stroke="#000" stroke-width="1.0" />
<text x="401.10" y="350.23" font-size="9.8" text-anchor="end" fill="#000" stroke="#000" stroke-width="0.2" style="" >0</text>
<line x1="402.30" y1="317.64" x2="405.30" y2="317.64" stroke="#000" stroke-width="1.0" />
<text x="401.10" y="321.77" font-size="9.8" text-anchor="end" fill="#000" stroke="#000" stroke-width="0.2" style="" >2</text>
<line x1="402.30" y1="289.18" x2="405.30" y2="289.18" stroke="#000" stroke-width="1.0" />
<text x="401.10" y="293.31" font-size="9.8" text-anchor="end" fill="#000" stroke="#000" stroke-width="0.2" style="" >4</text>
<line x1="402.30" y1="260.72" x2="405.30" y2="260.72" stroke="#000" stroke-width="1.0" />
<text x="401.10" y="264.85" font-size="9.8" text-anchor="end" fill="#000" stroke="#000" stroke-width="0.2" style="" >6</text>
<text x="423.00" y="259.28" font-size="6.9" text-anchor="middle" fill="#111" stroke="#111" stroke-width="0.2" style="" ><tspan style="font-style:italic">P</tspan>=0.0113</text>
<line x1="412.00" y1="261.60" x2="426.30" y2="261.60" stroke="#000" stroke-width="0.9" />
<text x="445.60" y="273.48" font-size="6.9" text-anchor="middle" fill="#111" stroke="#111" stroke-width="0.2" style="" ><tspan style="font-style:italic">P</tspan>=0.0006</text>
<line x1="440.50" y1="275.80" x2="452.60" y2="275.80" stroke="#000" stroke-width="0.9" />
<text x="480.80" y="280.48" font-size="6.9" text-anchor="middle" fill="#111" stroke="#111" stroke-width="0.2" style="" ><tspan style="font-style:italic">P</tspan>=0.0072</text>
<line x1="469.00" y1="283.00" x2="483.20" y2="283.00" stroke="#000" stroke-width="0.9" />
<text transform="translate(426.30,353.30) rotate(-45)" font-size="9.8" text-anchor="end" stroke="#000" stroke-width="0.2" style="">CD34<tspan font-size="5.59" dy="-3.33">-</tspan><tspan dy="3.33">LSK</tspan></text>
<text transform="translate(456.20,353.30) rotate(-45)" font-size="9.8" text-anchor="end" stroke="#000" stroke-width="0.2" style="">CD48<tspan font-size="5.59" dy="-3.33">-</tspan><tspan dy="3.33">CD150<tspan font-size="5.59" dy="-3.33">+</tspan><tspan dy="3.33">LSK</tspan></tspan></text>
<text transform="translate(482.80,353.30) rotate(-45)" font-size="9.8" text-anchor="end" stroke="#000" stroke-width="0.2" style="">CD34<tspan font-size="5.59" dy="-3.33">-</tspan><tspan dy="3.33">CD150<tspan font-size="5.59" dy="-3.33">-</tspan><tspan dy="3.33">LSK</tspan></tspan></text>
<text transform="translate(388.23,305.00) rotate(-90)" font-size="9.8" text-anchor="middle" fill="#000" stroke="#000" stroke-width="0.2" style="">Cell count (×10<tspan font-size="5.59" dy="-3.33">3</tspan><tspan dy="3.33">)</tspan></text>
<text x="125.30" y="11.24" font-size="14.3" style="font-weight:bold">B</text>
<text x="193.40" y="11.45" font-size="9.85" text-anchor="middle" fill="#000" stroke="#000" stroke-width="0.2" style="font-style:italic;" >Emp1<tspan font-size="5.61" dy="-3.35">fl/fl</tspan><tspan dy="3.35"></tspan></text>
<text x="253.30" y="11.45" font-size="9.85" text-anchor="middle" fill="#000" stroke="#000" stroke-width="0.2" style="font-style:italic;" >Emp1-cKO</text>
<text x="367.50" y="11.45" font-size="9.85" text-anchor="middle" fill="#000" stroke="#000" stroke-width="0.2" style="font-style:italic;" >Emp1<tspan font-size="5.61" dy="-3.35">fl/fl</tspan><tspan dy="3.35"></tspan></text>
<text x="426.20" y="11.45" font-size="9.85" text-anchor="middle" fill="#000" stroke="#000" stroke-width="0.2" style="font-style:italic;" >Emp1-cKO</text>
<text x="540.70" y="11.45" font-size="9.85" text-anchor="middle" fill="#000" stroke="#000" stroke-width="0.2" style="font-style:italic;" >Emp1<tspan font-size="5.61" dy="-3.35">fl/fl</tspan><tspan dy="3.35"></tspan></text>
<text x="600.60" y="11.45" font-size="9.85" text-anchor="middle" fill="#000" stroke="#000" stroke-width="0.2" style="font-style:italic;" >Emp1-cKO</text>
<text x="147.00" y="23.63" font-size="9.8" text-anchor="start" fill="#000" stroke="#000" stroke-width="0.2" style="" >gated Lin<tspan font-size="5.59" dy="-3.33">-</tspan><tspan dy="3.33"></tspan></text>
<text x="321.20" y="23.63" font-size="9.8" text-anchor="start" fill="#000" stroke="#000" stroke-width="0.2" style="" >gated LK cells</text>
<text x="493.80" y="23.63" font-size="9.8" text-anchor="start" fill="#000" stroke="#000" stroke-width="0.2" style="" >gated LSK</text>
<text x="147.00" y="108.43" font-size="9.8" text-anchor="start" fill="#000" stroke="#000" stroke-width="0.2" style="" >gated LSK</text>
<text x="321.20" y="108.43" font-size="9.8" text-anchor="start" fill="#000" stroke="#000" stroke-width="0.2" style="" >gated LSK</text>
<text x="493.80" y="108.43" font-size="9.8" text-anchor="start" fill="#000" stroke="#000" stroke-width="0.2" style="" >gated LSK</text>
<line x1="155.20" y1="32.29" x2="156.50" y2="32.29" stroke="#333" stroke-width="0.5" />
<line x1="155.20" y1="39.28" x2="156.50" y2="39.28" stroke="#333" stroke-width="0.5" />
<line x1="155.20" y1="46.27" x2="156.50" y2="46.27" stroke="#333" stroke-width="0.5" />
<line x1="155.20" y1="53.26" x2="156.50" y2="53.26" stroke="#333" stroke-width="0.5" />
<line x1="155.20" y1="60.24" x2="156.50" y2="60.24" stroke="#333" stroke-width="0.5" />
<line x1="155.20" y1="67.23" x2="156.50" y2="67.23" stroke="#333" stroke-width="0.5" />
<line x1="155.20" y1="74.22" x2="156.50" y2="74.22" stroke="#333" stroke-width="0.5" />
<line x1="155.20" y1="81.21" x2="156.50" y2="81.21" stroke="#333" stroke-width="0.5" />
<line x1="161.72" y1="88.20" x2="161.72" y2="89.50" stroke="#333" stroke-width="0.5" />
<line x1="166.95" y1="88.20" x2="166.95" y2="89.50" stroke="#333" stroke-width="0.5" />
<line x1="172.18" y1="88.20" x2="172.18" y2="89.50" stroke="#333" stroke-width="0.5" />
<line x1="177.40" y1="88.20" x2="177.40" y2="89.50" stroke="#333" stroke-width="0.5" />
<line x1="182.62" y1="88.20" x2="182.62" y2="89.50" stroke="#333" stroke-width="0.5" />
<line x1="187.85" y1="88.20" x2="187.85" y2="89.50" stroke="#333" stroke-width="0.5" />
<line x1="193.07" y1="88.20" x2="193.07" y2="89.50" stroke="#333" stroke-width="0.5" />
<line x1="198.30" y1="88.20" x2="198.30" y2="89.50" stroke="#333" stroke-width="0.5" />
<line x1="203.53" y1="88.20" x2="203.53" y2="89.50" stroke="#333" stroke-width="0.5" />
<line x1="208.75" y1="88.20" x2="208.75" y2="89.50" stroke="#333" stroke-width="0.5" />
<line x1="213.97" y1="88.20" x2="213.97" y2="89.50" stroke="#333" stroke-width="0.5" />
<rect x="156.50" y="25.30" width="62.70" height="62.90" fill="none" stroke="#111" stroke-width="0.9"/>
<clipPath id="cb1"><path d="M168.49,86.82 C165.44,86.21 165.52,84.36 164.15,82.97 C162.79,81.57 161.38,79.99 160.30,78.44 C159.22,76.88 158.02,76.27 157.70,73.62 C157.38,70.97 158.10,65.51 158.37,62.54 C158.65,59.57 158.77,58.04 159.34,55.79 C159.90,53.55 160.86,50.90 161.74,49.05 C162.63,47.20 163.19,45.92 164.63,44.71 C166.08,43.51 168.01,42.63 170.42,41.82 C172.82,41.02 176.20,40.27 179.09,39.90 C181.98,39.53 185.35,39.50 187.76,39.61 C190.17,39.72 191.45,40.28 193.54,40.57 C195.63,40.86 198.20,40.89 200.28,41.34 C202.37,41.79 204.70,42.47 206.06,43.27 C207.43,44.07 208.39,45.16 208.47,46.16 C208.55,47.16 207.91,48.47 206.55,49.24 C205.18,50.01 202.13,50.42 200.28,50.78 C198.44,51.15 196.59,51.11 195.47,51.46 C194.34,51.81 193.89,51.94 193.54,52.90 C193.19,53.87 193.38,55.63 193.35,57.24 C193.31,58.85 193.44,60.93 193.35,62.54 C193.25,64.15 193.19,65.51 192.77,66.88 C192.35,68.24 191.60,69.52 190.84,70.73 C190.09,71.93 189.16,72.74 188.24,74.10 C187.32,75.47 186.12,77.31 185.35,78.92 C184.58,80.52 184.10,82.45 183.62,83.74 C183.13,85.02 184.98,86.11 182.46,86.63 C179.94,87.14 171.54,87.43 168.49,86.82Z"/></clipPath>
<path d="M168.49,86.82 C165.44,86.21 165.52,84.36 164.15,82.97 C162.79,81.57 161.38,79.99 160.30,78.44 C159.22,76.88 158.02,76.27 157.70,73.62 C157.38,70.97 158.10,65.51 158.37,62.54 C158.65,59.57 158.77,58.04 159.34,55.79 C159.90,53.55 160.86,50.90 161.74,49.05 C162.63,47.20 163.19,45.92 164.63,44.71 C166.08,43.51 168.01,42.63 170.42,41.82 C172.82,41.02 176.20,40.27 179.09,39.90 C181.98,39.53 185.35,39.50 187.76,39.61 C190.17,39.72 191.45,40.28 193.54,40.57 C195.63,40.86 198.20,40.89 200.28,41.34 C202.37,41.79 204.70,42.47 206.06,43.27 C207.43,44.07 208.39,45.16 208.47,46.16 C208.55,47.16 207.91,48.47 206.55,49.24 C205.18,50.01 202.13,50.42 200.28,50.78 C198.44,51.15 196.59,51.11 195.47,51.46 C194.34,51.81 193.89,51.94 193.54,52.90 C193.19,53.87 193.38,55.63 193.35,57.24 C193.31,58.85 193.44,60.93 193.35,62.54 C193.25,64.15 193.19,65.51 192.77,66.88 C192.35,68.24 191.60,69.52 190.84,70.73 C190.09,71.93 189.16,72.74 188.24,74.10 C187.32,75.47 186.12,77.31 185.35,78.92 C184.58,80.52 184.10,82.45 183.62,83.74 C183.13,85.02 184.98,86.11 182.46,86.63 C179.94,87.14 171.54,87.43 168.49,86.82Z" fill="#050505" stroke="#000" stroke-width="1.1"/>
<g clip-path="url(#cb1)"><path d="M168.49,86.82 C165.44,86.21 165.52,84.36 164.15,82.97 C162.79,81.57 161.38,79.99 160.30,78.44 C159.22,76.88 158.02,76.27 157.70,73.62 C157.38,70.97 158.10,65.51 158.37,62.54 C158.65,59.57 158.77,58.04 159.34,55.79 C159.90,53.55 160.86,50.90 161.74,49.05 C162.63,47.20 163.19,45.92 164.63,44.71 C166.08,43.51 168.01,42.63 170.42,41.82 C172.82,41.02 176.20,40.27 179.09,39.90 C181.98,39.53 185.35,39.50 187.76,39.61 C190.17,39.72 191.45,40.28 193.54,40.57 C195.63,40.86 198.20,40.89 200.28,41.34 C202.37,41.79 204.70,42.47 206.06,43.27 C207.43,44.07 208.39,45.16 208.47,46.16 C208.55,47.16 207.91,48.47 206.55,49.24 C205.18,50.01 202.13,50.42 200.28,50.78 C198.44,51.15 196.59,51.11 195.47,51.46 C194.34,51.81 193.89,51.94 193.54,52.90 C193.19,53.87 193.38,55.63 193.35,57.24 C193.31,58.85 193.44,60.93 193.35,62.54 C193.25,64.15 193.19,65.51 192.77,66.88 C192.35,68.24 191.60,69.52 190.84,70.73 C190.09,71.93 189.16,72.74 188.24,74.10 C187.32,75.47 186.12,77.31 185.35,78.92 C184.58,80.52 184.10,82.45 183.62,83.74 C183.13,85.02 184.98,86.11 182.46,86.63 C179.94,87.14 171.54,87.43 168.49,86.82Z" fill="#9a9a9a" filter="url(#ins1p8_2p4)"/>
<ellipse cx="179.40" cy="59.50" rx="9.50" ry="19.00" transform="rotate(8 179.40 59.50)" fill="#bdbdbd" filter="url(#blur2)"/>
<ellipse cx="197.40" cy="46.40" rx="7.00" ry="2.40" transform="rotate(0 197.40 46.40)" fill="#b0b0b0" filter="url(#blur1p5)"/>
<rect x="156" y="73" width="40" height="16" fill="url(#fadeW)"/>
</g>
<path d="M179.57,43.75 C181.34,43.43 183.18,44.80 184.39,46.64 C185.59,48.49 186.39,51.86 186.79,54.83 C187.20,57.80 187.12,61.34 186.79,64.47 C186.47,67.60 185.91,71.37 184.87,73.62 C183.82,75.87 182.14,77.31 180.53,77.96 C178.93,78.60 176.92,78.44 175.23,77.47 C173.55,76.51 171.62,74.34 170.42,72.17 C169.21,70.01 168.17,67.20 168.01,64.47 C167.85,61.74 168.49,58.44 169.45,55.79 C170.42,53.15 172.10,50.58 173.79,48.57 C175.47,46.56 177.80,44.07 179.57,43.75Z" transform="translate(179.30,61.00) scale(1.0) translate(-179.30,-61.00)" fill="#a4a4a4" stroke="#000" stroke-width="0.75" vector-effect="non-scaling-stroke"/>
<path d="M179.57,43.75 C181.34,43.43 183.18,44.80 184.39,46.64 C185.59,48.49 186.39,51.86 186.79,54.83 C187.20,57.80 187.12,61.34 186.79,64.47 C186.47,67.60 185.91,71.37 184.87,73.62 C183.82,75.87 182.14,77.31 180.53,77.96 C178.93,78.60 176.92,78.44 175.23,77.47 C173.55,76.51 171.62,74.34 170.42,72.17 C169.21,70.01 168.17,67.20 168.01,64.47 C167.85,61.74 168.49,58.44 169.45,55.79 C170.42,53.15 172.10,50.58 173.79,48.57 C175.47,46.56 177.80,44.07 179.57,43.75Z" transform="translate(179.30,61.00) scale(0.910) translate(-179.30,-61.00)" fill="none" stroke="#fff" stroke-width="0.7" vector-effect="non-scaling-stroke"/>
<path d="M179.57,43.75 C181.34,43.43 183.18,44.80 184.39,46.64 C185.59,48.49 186.39,51.86 186.79,54.83 C187.20,57.80 187.12,61.34 186.79,64.47 C186.47,67.60 185.91,71.37 184.87,73.62 C183.82,75.87 182.14,77.31 180.53,77.96 C178.93,78.60 176.92,78.44 175.23,77.47 C173.55,76.51 171.62,74.34 170.42,72.17 C169.21,70.01 168.17,67.20 168.01,64.47 C167.85,61.74 168.49,58.44 169.45,55.79 C170.42,53.15 172.10,50.58 173.79,48.57 C175.47,46.56 177.80,44.07 179.57,43.75Z" transform="translate(179.30,61.00) scale(0.8) translate(-179.30,-61.00)" fill="#b4b4b4" stroke="#000" stroke-width="0.75" vector-effect="non-scaling-stroke"/>
<path d="M179.57,43.75 C181.34,43.43 183.18,44.80 184.39,46.64 C185.59,48.49 186.39,51.86 186.79,54.83 C187.20,57.80 187.12,61.34 186.79,64.47 C186.47,67.60 185.91,71.37 184.87,73.62 C183.82,75.87 182.14,77.31 180.53,77.96 C178.93,78.60 176.92,78.44 175.23,77.47 C173.55,76.51 171.62,74.34 170.42,72.17 C169.21,70.01 168.17,67.20 168.01,64.47 C167.85,61.74 168.49,58.44 169.45,55.79 C170.42,53.15 172.10,50.58 173.79,48.57 C175.47,46.56 177.80,44.07 179.57,43.75Z" transform="translate(179.30,61.00) scale(0.728) translate(-179.30,-61.00)" fill="none" stroke="#fff" stroke-width="0.7" vector-effect="non-scaling-stroke"/>
<path d="M180.53,46.64 C181.25,46.80 182.51,48.01 182.94,49.05 C183.37,50.09 183.37,51.86 183.13,52.90 C182.89,53.95 182.17,54.99 181.50,55.31 C180.82,55.63 179.65,55.47 179.09,54.83 C178.53,54.19 178.20,52.58 178.12,51.46 C178.04,50.34 178.20,48.89 178.61,48.09 C179.01,47.28 179.81,46.48 180.53,46.64Z" transform="translate(180.80,51.00) scale(1.0) translate(-180.80,-51.00)" fill="#b0b0b0" stroke="#000" stroke-width="0.75" vector-effect="non-scaling-stroke"/>
<path d="M180.53,46.64 C181.25,46.80 182.51,48.01 182.94,49.05 C183.37,50.09 183.37,51.86 183.13,52.90 C182.89,53.95 182.17,54.99 181.50,55.31 C180.82,55.63 179.65,55.47 179.09,54.83 C178.53,54.19 178.20,52.58 178.12,51.46 C178.04,50.34 178.20,48.89 178.61,48.09 C179.01,47.28 179.81,46.48 180.53,46.64Z" transform="translate(180.80,51.00) scale(0.880) translate(-180.80,-51.00)" fill="none" stroke="#fff" stroke-width="0.7" vector-effect="non-scaling-stroke"/>
<path d="M180.53,46.64 C181.25,46.80 182.51,48.01 182.94,49.05 C183.37,50.09 183.37,51.86 183.13,52.90 C182.89,53.95 182.17,54.99 181.50,55.31 C180.82,55.63 179.65,55.47 179.09,54.83 C178.53,54.19 178.20,52.58 178.12,51.46 C178.04,50.34 178.20,48.89 178.61,48.09 C179.01,47.28 179.81,46.48 180.53,46.64Z" transform="translate(180.80,51.00) scale(0.6) translate(-180.80,-51.00)" fill="#d0d0d0" stroke="#000" stroke-width="0.75" vector-effect="non-scaling-stroke"/>
<path d="M180.53,46.64 C181.25,46.80 182.51,48.01 182.94,49.05 C183.37,50.09 183.37,51.86 183.13,52.90 C182.89,53.95 182.17,54.99 181.50,55.31 C180.82,55.63 179.65,55.47 179.09,54.83 C178.53,54.19 178.20,52.58 178.12,51.46 C178.04,50.34 178.20,48.89 178.61,48.09 C179.01,47.28 179.81,46.48 180.53,46.64Z" transform="translate(180.80,51.00) scale(0.528) translate(-180.80,-51.00)" fill="none" stroke="#fff" stroke-width="0.7" vector-effect="non-scaling-stroke"/>
<path d="M178.12,57.24 C179.09,57.08 180.45,58.28 181.01,59.65 C181.58,61.01 181.74,63.50 181.50,65.43 C181.25,67.36 180.45,70.17 179.57,71.21 C178.69,72.25 177.00,72.50 176.20,71.69 C175.39,70.89 174.91,68.24 174.75,66.39 C174.59,64.55 174.67,62.14 175.23,60.61 C175.80,59.09 177.16,57.40 178.12,57.24Z" transform="translate(177.60,65.00) scale(1.0) translate(-177.60,-65.00)" fill="#aaaaaa" stroke="#000" stroke-width="0.75" vector-effect="non-scaling-stroke"/>
<path d="M178.12,57.24 C179.09,57.08 180.45,58.28 181.01,59.65 C181.58,61.01 181.74,63.50 181.50,65.43 C181.25,67.36 180.45,70.17 179.57,71.21 C178.69,72.25 177.00,72.50 176.20,71.69 C175.39,70.89 174.91,68.24 174.75,66.39 C174.59,64.55 174.67,62.14 175.23,60.61 C175.80,59.09 177.16,57.40 178.12,57.24Z" transform="translate(177.60,65.00) scale(0.880) translate(-177.60,-65.00)" fill="none" stroke="#fff" stroke-width="0.7" vector-effect="non-scaling-stroke"/>
<path d="M178.12,57.24 C179.09,57.08 180.45,58.28 181.01,59.65 C181.58,61.01 181.74,63.50 181.50,65.43 C181.25,67.36 180.45,70.17 179.57,71.21 C178.69,72.25 177.00,72.50 176.20,71.69 C175.39,70.89 174.91,68.24 174.75,66.39 C174.59,64.55 174.67,62.14 175.23,60.61 C175.80,59.09 177.16,57.40 178.12,57.24Z" transform="translate(177.60,65.00) scale(0.62) translate(-177.60,-65.00)" fill="#c4c4c4" stroke="#000" stroke-width="0.75" vector-effect="non-scaling-stroke"/>
<path d="M178.12,57.24 C179.09,57.08 180.45,58.28 181.01,59.65 C181.58,61.01 181.74,63.50 181.50,65.43 C181.25,67.36 180.45,70.17 179.57,71.21 C178.69,72.25 177.00,72.50 176.20,71.69 C175.39,70.89 174.91,68.24 174.75,66.39 C174.59,64.55 174.67,62.14 175.23,60.61 C175.80,59.09 177.16,57.40 178.12,57.24Z" transform="translate(177.60,65.00) scale(0.546) translate(-177.60,-65.00)" fill="none" stroke="#fff" stroke-width="0.7" vector-effect="non-scaling-stroke"/>
<path d="M178.12,57.24 C179.09,57.08 180.45,58.28 181.01,59.65 C181.58,61.01 181.74,63.50 181.50,65.43 C181.25,67.36 180.45,70.17 179.57,71.21 C178.69,72.25 177.00,72.50 176.20,71.69 C175.39,70.89 174.91,68.24 174.75,66.39 C174.59,64.55 174.67,62.14 175.23,60.61 C175.80,59.09 177.16,57.40 178.12,57.24Z" transform="translate(177.60,65.00) scale(0.3) translate(-177.60,-65.00)" fill="#e4e4e4" stroke="#000" stroke-width="0.75" vector-effect="non-scaling-stroke"/>
<path d="M178.12,57.24 C179.09,57.08 180.45,58.28 181.01,59.65 C181.58,61.01 181.74,63.50 181.50,65.43 C181.25,67.36 180.45,70.17 179.57,71.21 C178.69,72.25 177.00,72.50 176.20,71.69 C175.39,70.89 174.91,68.24 174.75,66.39 C174.59,64.55 174.67,62.14 175.23,60.61 C175.80,59.09 177.16,57.40 178.12,57.24Z" transform="translate(177.60,65.00) scale(0.264) translate(-177.60,-65.00)" fill="none" stroke="#fff" stroke-width="0.7" vector-effect="non-scaling-stroke"/>
<path d="M192.6,52.6 C195.6,55.2 193.6,58.5 194.2,61.2 C194.6,63.0 195.5,63.4 196.5,63.6" fill="none" stroke="#000" stroke-width="2.6" stroke-linecap="round" stroke-linejoin="round"/>
<path d="M192.6,63.2 C195.0,62.6 197.5,63.4 200.0,63.9 C203.4,64.5 206.3,66.2 206.2,69.8 C206.0,73.2 202.6,74.9 198.6,74.6 C195.4,74.3 193.3,73.3 190.8,74.3 C188.8,75.1 187.6,76.8 186.2,78.2 C185.4,76.0 186.6,73.0 188.6,71.0 C190.4,69.2 191.0,65.2 192.6,63.2Z" fill="#000"/>
<ellipse cx="200.2" cy="69.2" rx="2.9" ry="1.25" transform="rotate(8 200.2 69.2)" fill="#e8e8e8"/>
<rect x="157.0" y="85.8" width="61.8" height="2.0" fill="#888" opacity="0.45"/>
<rect x="159.40" y="31.10" width="28.00" height="24.40" fill="none" stroke="#111" stroke-width="0.8"/>
<rect x="190.00" y="31.10" width="25.60" height="24.40" fill="none" stroke="#111" stroke-width="0.8"/>
<text x="173.40" y="33.22" font-size="8.1" text-anchor="middle" fill="#ff2020" stroke="#ff2020" stroke-width="0.2" style="" >LK</text>
<text x="173.40" y="40.22" font-size="8.1" text-anchor="middle" fill="#ff2020" stroke="#ff2020" stroke-width="0.2" style="" >25.6%</text>
<text x="203.00" y="33.22" font-size="8.1" text-anchor="middle" fill="#ff2020" stroke="#ff2020" stroke-width="0.2" style="" >LSK</text>
<text x="203.00" y="40.22" font-size="8.1" text-anchor="middle" fill="#ff2020" stroke="#ff2020" stroke-width="0.2" style="" >3.6%</text>
<path d="M151.40,75.20 L151.40,92.70 L170.30,92.70" fill="none" stroke="#333" stroke-width="0.8"/>
<path d="M149.70,76.30 L151.40,73.50 L153.10,76.30Z" fill="#333"/>
<path d="M169.20,91.00 L172.00,92.70 L169.20,94.40Z" fill="#333"/>
<text transform="translate(153.53,59.80) rotate(-90)" font-size="9.8" text-anchor="middle" fill="#000" stroke="#000" stroke-width="0.2" style="">c-kit</text>
<text x="173.30" y="95.93" font-size="9.8" text-anchor="start" fill="#000" stroke="#000" stroke-width="0.2" style="" >Sca-1</text>
<line x1="221.00" y1="32.29" x2="222.30" y2="32.29" stroke="#333" stroke-width="0.5" />
<line x1="221.00" y1="39.28" x2="222.30" y2="39.28" stroke="#333" stroke-width="0.5" />
<line x1="221.00" y1="46.27" x2="222.30" y2="46.27" stroke="#333" stroke-width="0.5" />
<line x1="221.00" y1="53.26" x2="222.30" y2="53.26" stroke="#333" stroke-width="0.5" />
<line x1="221.00" y1="60.24" x2="222.30" y2="60.24" stroke="#333" stroke-width="0.5" />
<line x1="221.00" y1="67.23" x2="222.30" y2="67.23" stroke="#333" stroke-width="0.5" />
<line x1="221.00" y1="74.22" x2="222.30" y2="74.22" stroke="#333" stroke-width="0.5" />
<line x1="221.00" y1="81.21" x2="222.30" y2="81.21" stroke="#333" stroke-width="0.5" />
<line x1="227.53" y1="88.20" x2="227.53" y2="89.50" stroke="#333" stroke-width="0.5" />
<line x1="232.77" y1="88.20" x2="232.77" y2="89.50" stroke="#333" stroke-width="0.5" />
<line x1="238.00" y1="88.20" x2="238.00" y2="89.50" stroke="#333" stroke-width="0.5" />
<line x1="243.23" y1="88.20" x2="243.23" y2="89.50" stroke="#333" stroke-width="0.5" />
<line x1="248.47" y1="88.20" x2="248.47" y2="89.50" stroke="#333" stroke-width="0.5" />
<line x1="253.70" y1="88.20" x2="253.70" y2="89.50" stroke="#333" stroke-width="0.5" />
<line x1="258.93" y1="88.20" x2="258.93" y2="89.50" stroke="#333" stroke-width="0.5" />
<line x1="264.17" y1="88.20" x2="264.17" y2="89.50" stroke="#333" stroke-width="0.5" />
<line x1="269.40" y1="88.20" x2="269.40" y2="89.50" stroke="#333" stroke-width="0.5" />
<line x1="274.63" y1="88.20" x2="274.63" y2="89.50" stroke="#333" stroke-width="0.5" />
<line x1="279.87" y1="88.20" x2="279.87" y2="89.50" stroke="#333" stroke-width="0.5" />
<rect x="222.30" y="25.30" width="62.80" height="62.90" fill="none" stroke="#111" stroke-width="0.9"/>
<clipPath id="cb2"><path d="M223.89,86.63 C219.72,82.21 223.65,65.75 223.89,60.61 C224.13,55.47 224.93,57.72 225.34,55.79 C225.74,53.87 225.58,50.90 226.30,49.05 C227.02,47.20 228.31,45.92 229.67,44.71 C231.04,43.51 232.72,42.71 234.49,41.82 C236.26,40.94 238.34,39.98 240.27,39.42 C242.20,38.85 244.12,38.37 246.05,38.45 C247.98,38.53 250.07,39.17 251.83,39.90 C253.60,40.62 255.69,41.99 256.65,42.79 C257.61,43.59 257.69,43.83 257.61,44.71 C257.53,45.60 256.57,46.72 256.17,48.09 C255.77,49.45 255.28,51.14 255.20,52.90 C255.12,54.67 255.44,56.76 255.69,58.69 C255.93,60.61 256.65,62.70 256.65,64.47 C256.65,66.23 256.17,67.68 255.69,69.28 C255.20,70.89 254.40,72.33 253.76,74.10 C253.12,75.87 252.47,78.12 251.83,79.88 C251.19,81.65 250.39,83.50 249.90,84.70 C249.42,85.90 253.28,86.79 248.94,87.11 C244.61,87.43 228.07,91.04 223.89,86.63Z"/></clipPath>
<path d="M223.89,86.63 C219.72,82.21 223.65,65.75 223.89,60.61 C224.13,55.47 224.93,57.72 225.34,55.79 C225.74,53.87 225.58,50.90 226.30,49.05 C227.02,47.20 228.31,45.92 229.67,44.71 C231.04,43.51 232.72,42.71 234.49,41.82 C236.26,40.94 238.34,39.98 240.27,39.42 C242.20,38.85 244.12,38.37 246.05,38.45 C247.98,38.53 250.07,39.17 251.83,39.90 C253.60,40.62 255.69,41.99 256.65,42.79 C257.61,43.59 257.69,43.83 257.61,44.71 C257.53,45.60 256.57,46.72 256.17,48.09 C255.77,49.45 255.28,51.14 255.20,52.90 C255.12,54.67 255.44,56.76 255.69,58.69 C255.93,60.61 256.65,62.70 256.65,64.47 C256.65,66.23 256.17,67.68 255.69,69.28 C255.20,70.89 254.40,72.33 253.76,74.10 C253.12,75.87 252.47,78.12 251.83,79.88 C251.19,81.65 250.39,83.50 249.90,84.70 C249.42,85.90 253.28,86.79 248.94,87.11 C244.61,87.43 228.07,91.04 223.89,86.63Z" fill="#050505" stroke="#000" stroke-width="1.1"/>
<g clip-path="url(#cb2)"><path d="M223.89,86.63 C219.72,82.21 223.65,65.75 223.89,60.61 C224.13,55.47 224.93,57.72 225.34,55.79 C225.74,53.87 225.58,50.90 226.30,49.05 C227.02,47.20 228.31,45.92 229.67,44.71 C231.04,43.51 232.72,42.71 234.49,41.82 C236.26,40.94 238.34,39.98 240.27,39.42 C242.20,38.85 244.12,38.37 246.05,38.45 C247.98,38.53 250.07,39.17 251.83,39.90 C253.60,40.62 255.69,41.99 256.65,42.79 C257.61,43.59 257.69,43.83 257.61,44.71 C257.53,45.60 256.57,46.72 256.17,48.09 C255.77,49.45 255.28,51.14 255.20,52.90 C255.12,54.67 255.44,56.76 255.69,58.69 C255.93,60.61 256.65,62.70 256.65,64.47 C256.65,66.23 256.17,67.68 255.69,69.28 C255.20,70.89 254.40,72.33 253.76,74.10 C253.12,75.87 252.47,78.12 251.83,79.88 C251.19,81.65 250.39,83.50 249.90,84.70 C249.42,85.90 253.28,86.79 248.94,87.11 C244.61,87.43 228.07,91.04 223.89,86.63Z" fill="#9a9a9a" filter="url(#ins1p8_2p4)"/>
<ellipse cx="244.00" cy="64.00" rx="8.50" ry="17.00" transform="rotate(-8 244.00 64.00)" fill="#c4c4c4" filter="url(#blur2)"/>
<rect x="222" y="73" width="40" height="16" fill="url(#fadeW)"/>
</g>
<path d="M244.61,46.16 C245.57,46.32 247.09,47.44 247.98,49.05 C248.86,50.66 249.50,53.23 249.90,55.79 C250.31,58.36 250.39,61.74 250.39,64.47 C250.39,67.20 250.47,70.01 249.90,72.17 C249.34,74.34 248.14,76.48 247.01,77.47 C245.89,78.47 244.61,78.55 243.16,78.15 C241.71,77.75 239.79,76.70 238.34,75.06 C236.90,73.43 234.97,70.73 234.49,68.32 C234.01,65.91 234.65,63.18 235.45,60.61 C236.26,58.04 238.18,54.99 239.31,52.90 C240.43,50.82 241.31,49.21 242.20,48.09 C243.08,46.96 243.64,46.00 244.61,46.16Z" transform="translate(243.60,66.20) scale(1.0) translate(-243.60,-66.20)" fill="#a0a0a0" stroke="#000" stroke-width="0.75" vector-effect="non-scaling-stroke"/>
<path d="M244.61,46.16 C245.57,46.32 247.09,47.44 247.98,49.05 C248.86,50.66 249.50,53.23 249.90,55.79 C250.31,58.36 250.39,61.74 250.39,64.47 C250.39,67.20 250.47,70.01 249.90,72.17 C249.34,74.34 248.14,76.48 247.01,77.47 C245.89,78.47 244.61,78.55 243.16,78.15 C241.71,77.75 239.79,76.70 238.34,75.06 C236.90,73.43 234.97,70.73 234.49,68.32 C234.01,65.91 234.65,63.18 235.45,60.61 C236.26,58.04 238.18,54.99 239.31,52.90 C240.43,50.82 241.31,49.21 242.20,48.09 C243.08,46.96 243.64,46.00 244.61,46.16Z" transform="translate(243.60,66.20) scale(0.900) translate(-243.60,-66.20)" fill="none" stroke="#fff" stroke-width="0.7" vector-effect="non-scaling-stroke"/>
<path d="M244.61,46.16 C245.57,46.32 247.09,47.44 247.98,49.05 C248.86,50.66 249.50,53.23 249.90,55.79 C250.31,58.36 250.39,61.74 250.39,64.47 C250.39,67.20 250.47,70.01 249.90,72.17 C249.34,74.34 248.14,76.48 247.01,77.47 C245.89,78.47 244.61,78.55 243.16,78.15 C241.71,77.75 239.79,76.70 238.34,75.06 C236.90,73.43 234.97,70.73 234.49,68.32 C234.01,65.91 234.65,63.18 235.45,60.61 C236.26,58.04 238.18,54.99 239.31,52.90 C240.43,50.82 241.31,49.21 242.20,48.09 C243.08,46.96 243.64,46.00 244.61,46.16Z" transform="translate(243.60,66.20) scale(0.78) translate(-243.60,-66.20)" fill="#b4b4b4" stroke="#000" stroke-width="0.75" vector-effect="non-scaling-stroke"/>
<path d="M244.61,46.16 C245.57,46.32 247.09,47.44 247.98,49.05 C248.86,50.66 249.50,53.23 249.90,55.79 C250.31,58.36 250.39,61.74 250.39,64.47 C250.39,67.20 250.47,70.01 249.90,72.17 C249.34,74.34 248.14,76.48 247.01,77.47 C245.89,78.47 244.61,78.55 243.16,78.15 C241.71,77.75 239.79,76.70 238.34,75.06 C236.90,73.43 234.97,70.73 234.49,68.32 C234.01,65.91 234.65,63.18 235.45,60.61 C236.26,58.04 238.18,54.99 239.31,52.90 C240.43,50.82 241.31,49.21 242.20,48.09 C243.08,46.96 243.64,46.00 244.61,46.16Z" transform="translate(243.60,66.20) scale(0.702) translate(-243.60,-66.20)" fill="none" stroke="#fff" stroke-width="0.7" vector-effect="non-scaling-stroke"/>
<path d="M244.61,46.16 C245.57,46.32 247.09,47.44 247.98,49.05 C248.86,50.66 249.50,53.23 249.90,55.79 C250.31,58.36 250.39,61.74 250.39,64.47 C250.39,67.20 250.47,70.01 249.90,72.17 C249.34,74.34 248.14,76.48 247.01,77.47 C245.89,78.47 244.61,78.55 243.16,78.15 C241.71,77.75 239.79,76.70 238.34,75.06 C236.90,73.43 234.97,70.73 234.49,68.32 C234.01,65.91 234.65,63.18 235.45,60.61 C236.26,58.04 238.18,54.99 239.31,52.90 C240.43,50.82 241.31,49.21 242.20,48.09 C243.08,46.96 243.64,46.00 244.61,46.16Z" transform="translate(243.60,66.20) scale(0.56) translate(-243.60,-66.20)" fill="#c8c8c8" stroke="#000" stroke-width="0.75" vector-effect="non-scaling-stroke"/>
<path d="M244.61,46.16 C245.57,46.32 247.09,47.44 247.98,49.05 C248.86,50.66 249.50,53.23 249.90,55.79 C250.31,58.36 250.39,61.74 250.39,64.47 C250.39,67.20 250.47,70.01 249.90,72.17 C249.34,74.34 248.14,76.48 247.01,77.47 C245.89,78.47 244.61,78.55 243.16,78.15 C241.71,77.75 239.79,76.70 238.34,75.06 C236.90,73.43 234.97,70.73 234.49,68.32 C234.01,65.91 234.65,63.18 235.45,60.61 C236.26,58.04 238.18,54.99 239.31,52.90 C240.43,50.82 241.31,49.21 242.20,48.09 C243.08,46.96 243.64,46.00 244.61,46.16Z" transform="translate(243.60,66.20) scale(0.504) translate(-243.60,-66.20)" fill="none" stroke="#fff" stroke-width="0.7" vector-effect="non-scaling-stroke"/>
<path d="M244.61,46.16 C245.57,46.32 247.09,47.44 247.98,49.05 C248.86,50.66 249.50,53.23 249.90,55.79 C250.31,58.36 250.39,61.74 250.39,64.47 C250.39,67.20 250.47,70.01 249.90,72.17 C249.34,74.34 248.14,76.48 247.01,77.47 C245.89,78.47 244.61,78.55 243.16,78.15 C241.71,77.75 239.79,76.70 238.34,75.06 C236.90,73.43 234.97,70.73 234.49,68.32 C234.01,65.91 234.65,63.18 235.45,60.61 C236.26,58.04 238.18,54.99 239.31,52.90 C240.43,50.82 241.31,49.21 242.20,48.09 C243.08,46.96 243.64,46.00 244.61,46.16Z" transform="translate(243.60,66.20) scale(0.34) translate(-243.60,-66.20)" fill="#dcdcdc" stroke="#000" stroke-width="0.75" vector-effect="non-scaling-stroke"/>
<path d="M244.61,46.16 C245.57,46.32 247.09,47.44 247.98,49.05 C248.86,50.66 249.50,53.23 249.90,55.79 C250.31,58.36 250.39,61.74 250.39,64.47 C250.39,67.20 250.47,70.01 249.90,72.17 C249.34,74.34 248.14,76.48 247.01,77.47 C245.89,78.47 244.61,78.55 243.16,78.15 C241.71,77.75 239.79,76.70 238.34,75.06 C236.90,73.43 234.97,70.73 234.49,68.32 C234.01,65.91 234.65,63.18 235.45,60.61 C236.26,58.04 238.18,54.99 239.31,52.90 C240.43,50.82 241.31,49.21 242.20,48.09 C243.08,46.96 243.64,46.00 244.61,46.16Z" transform="translate(243.60,66.20) scale(0.306) translate(-243.60,-66.20)" fill="none" stroke="#fff" stroke-width="0.7" vector-effect="non-scaling-stroke"/>
<clipPath id="cb3"><path d="M257.61,43.27 C258.34,42.47 260.66,42.63 262.43,42.79 C264.20,42.95 267.09,43.59 268.21,44.23 C269.33,44.88 269.50,45.92 269.17,46.64 C268.85,47.36 267.57,48.17 266.28,48.57 C265.00,48.97 262.83,49.21 261.47,49.05 C260.10,48.89 258.74,48.57 258.09,47.61 C257.45,46.64 256.89,44.07 257.61,43.27Z"/></clipPath>
<path d="M257.61,43.27 C258.34,42.47 260.66,42.63 262.43,42.79 C264.20,42.95 267.09,43.59 268.21,44.23 C269.33,44.88 269.50,45.92 269.17,46.64 C268.85,47.36 267.57,48.17 266.28,48.57 C265.00,48.97 262.83,49.21 261.47,49.05 C260.10,48.89 258.74,48.57 258.09,47.61 C257.45,46.64 256.89,44.07 257.61,43.27Z" fill="#151515" stroke="#000" stroke-width="1.0"/>
<g clip-path="url(#cb3)"><path d="M257.61,43.27 C258.34,42.47 260.66,42.63 262.43,42.79 C264.20,42.95 267.09,43.59 268.21,44.23 C269.33,44.88 269.50,45.92 269.17,46.64 C268.85,47.36 267.57,48.17 266.28,48.57 C265.00,48.97 262.83,49.21 261.47,49.05 C260.10,48.89 258.74,48.57 258.09,47.61 C257.45,46.64 256.89,44.07 257.61,43.27Z" fill="#000" filter="url(#ins1p6_1p8)"/>
<ellipse cx="265.00" cy="46.00" rx="1.60" ry="1.60" transform="rotate(0 265.00 46.00)" fill="#ddd" stroke="none" stroke-width="0"/>
</g>
<clipPath id="cb4"><path d="M257.61,66.39 C258.34,65.51 260.82,65.67 262.43,65.91 C264.04,66.15 266.12,66.79 267.25,67.84 C268.37,68.88 269.17,70.81 269.17,72.17 C269.17,73.54 268.05,74.82 267.25,76.03 C266.44,77.23 265.48,79.40 264.36,79.40 C263.23,79.40 261.55,77.39 260.50,76.03 C259.46,74.66 258.58,72.82 258.09,71.21 C257.61,69.60 256.89,67.28 257.61,66.39Z"/></clipPath>
<path d="M257.61,66.39 C258.34,65.51 260.82,65.67 262.43,65.91 C264.04,66.15 266.12,66.79 267.25,67.84 C268.37,68.88 269.17,70.81 269.17,72.17 C269.17,73.54 268.05,74.82 267.25,76.03 C266.44,77.23 265.48,79.40 264.36,79.40 C263.23,79.40 261.55,77.39 260.50,76.03 C259.46,74.66 258.58,72.82 258.09,71.21 C257.61,69.60 256.89,67.28 257.61,66.39Z" fill="#000" stroke="#000" stroke-width="1.4"/>
<g clip-path="url(#cb4)"><path d="M257.61,66.39 C258.34,65.51 260.82,65.67 262.43,65.91 C264.04,66.15 266.12,66.79 267.25,67.84 C268.37,68.88 269.17,70.81 269.17,72.17 C269.17,73.54 268.05,74.82 267.25,76.03 C266.44,77.23 265.48,79.40 264.36,79.40 C263.23,79.40 261.55,77.39 260.50,76.03 C259.46,74.66 258.58,72.82 258.09,71.21 C257.61,69.60 256.89,67.28 257.61,66.39Z" fill="#d4d4d4" filter="url(#ins1p2_1p0)"/>
</g>
<rect x="222.8" y="85.8" width="61.8" height="2.0" fill="#888" opacity="0.45"/>
<rect x="225.10" y="31.10" width="28.60" height="24.40" fill="none" stroke="#111" stroke-width="0.8"/>
<rect x="256.20" y="31.10" width="25.10" height="24.40" fill="none" stroke="#111" stroke-width="0.8"/>
<text x="239.40" y="40.22" font-size="8.1" text-anchor="middle" fill="#ff2020" stroke="#ff2020" stroke-width="0.2" style="" >16.4%</text>
<text x="271.00" y="40.22" font-size="8.1" text-anchor="middle" fill="#ff2020" stroke="#ff2020" stroke-width="0.2" style="" >1.1%</text>
<line x1="329.60" y1="32.20" x2="330.90" y2="32.20" stroke="#333" stroke-width="0.5" />
<line x1="329.60" y1="39.20" x2="330.90" y2="39.20" stroke="#333" stroke-width="0.5" />
<line x1="329.60" y1="46.20" x2="330.90" y2="46.20" stroke="#333" stroke-width="0.5" />
<line x1="329.60" y1="53.20" x2="330.90" y2="53.20" stroke="#333" stroke-width="0.5" />
<line x1="329.60" y1="60.20" x2="330.90" y2="60.20" stroke="#333" stroke-width="0.5" />
<line x1="329.60" y1="67.20" x2="330.90" y2="67.20" stroke="#333" stroke-width="0.5" />
<line x1="329.60" y1="74.20" x2="330.90" y2="74.20" stroke="#333" stroke-width="0.5" />
<line x1="329.60" y1="81.20" x2="330.90" y2="81.20" stroke="#333" stroke-width="0.5" />
<line x1="336.11" y1="88.20" x2="336.11" y2="89.50" stroke="#333" stroke-width="0.5" />
<line x1="341.32" y1="88.20" x2="341.32" y2="89.50" stroke="#333" stroke-width="0.5" />
<line x1="346.52" y1="88.20" x2="346.52" y2="89.50" stroke="#333" stroke-width="0.5" />
<line x1="351.73" y1="88.20" x2="351.73" y2="89.50" stroke="#333" stroke-width="0.5" />
<line x1="356.94" y1="88.20" x2="356.94" y2="89.50" stroke="#333" stroke-width="0.5" />
<line x1="362.15" y1="88.20" x2="362.15" y2="89.50" stroke="#333" stroke-width="0.5" />
<line x1="367.36" y1="88.20" x2="367.36" y2="89.50" stroke="#333" stroke-width="0.5" />
<line x1="372.57" y1="88.20" x2="372.57" y2="89.50" stroke="#333" stroke-width="0.5" />
<line x1="377.77" y1="88.20" x2="377.77" y2="89.50" stroke="#333" stroke-width="0.5" />
<line x1="382.98" y1="88.20" x2="382.98" y2="89.50" stroke="#333" stroke-width="0.5" />
<line x1="388.19" y1="88.20" x2="388.19" y2="89.50" stroke="#333" stroke-width="0.5" />
<rect x="330.90" y="25.20" width="62.50" height="63.00" fill="none" stroke="#111" stroke-width="0.9"/>
<clipPath id="cb5"><path d="M343.45,46.64 C343.93,45.52 346.50,43.83 348.27,42.79 C350.04,41.74 351.96,41.10 354.05,40.38 C356.14,39.66 359.03,38.93 360.79,38.45 C362.56,37.97 363.04,37.49 364.65,37.49 C366.25,37.49 368.50,37.81 370.43,38.45 C372.36,39.09 374.77,40.06 376.21,41.34 C377.66,42.63 378.54,44.39 379.10,46.16 C379.66,47.93 379.58,49.85 379.58,51.94 C379.58,54.03 379.34,56.60 379.10,58.69 C378.86,60.77 378.62,62.54 378.14,64.47 C377.66,66.39 377.17,68.64 376.21,70.25 C375.25,71.85 373.80,73.94 372.36,74.10 C370.91,74.26 368.98,72.01 367.54,71.21 C366.09,70.41 364.65,69.12 363.69,69.28 C362.72,69.44 362.56,70.73 361.76,72.17 C360.96,73.62 359.67,76.03 358.87,77.96 C358.07,79.88 357.58,82.21 356.94,83.74 C356.30,85.26 356.14,86.55 355.01,87.11 C353.89,87.67 351.80,87.67 350.20,87.11 C348.59,86.55 346.34,85.58 345.38,83.74 C344.42,81.89 344.90,78.28 344.42,76.03 C343.93,73.78 343.13,71.69 342.49,70.25 C341.85,68.80 340.40,68.32 340.56,67.36 C340.72,66.39 342.97,65.43 343.45,64.47 C343.93,63.50 342.65,62.86 343.45,61.58 C344.26,60.29 347.15,58.04 348.27,56.76 C349.39,55.47 350.20,54.67 350.20,53.87 C350.20,53.07 349.07,52.66 348.27,51.94 C347.47,51.22 346.18,50.42 345.38,49.53 C344.58,48.65 342.97,47.77 343.45,46.64Z"/></clipPath>
<path d="M343.45,46.64 C343.93,45.52 346.50,43.83 348.27,42.79 C350.04,41.74 351.96,41.10 354.05,40.38 C356.14,39.66 359.03,38.93 360.79,38.45 C362.56,37.97 363.04,37.49 364.65,37.49 C366.25,37.49 368.50,37.81 370.43,38.45 C372.36,39.09 374.77,40.06 376.21,41.34 C377.66,42.63 378.54,44.39 379.10,46.16 C379.66,47.93 379.58,49.85 379.58,51.94 C379.58,54.03 379.34,56.60 379.10,58.69 C378.86,60.77 378.62,62.54 378.14,64.47 C377.66,66.39 377.17,68.64 376.21,70.25 C375.25,71.85 373.80,73.94 372.36,74.10 C370.91,74.26 368.98,72.01 367.54,71.21 C366.09,70.41 364.65,69.12 363.69,69.28 C362.72,69.44 362.56,70.73 361.76,72.17 C360.96,73.62 359.67,76.03 358.87,77.96 C358.07,79.88 357.58,82.21 356.94,83.74 C356.30,85.26 356.14,86.55 355.01,87.11 C353.89,87.67 351.80,87.67 350.20,87.11 C348.59,86.55 346.34,85.58 345.38,83.74 C344.42,81.89 344.90,78.28 344.42,76.03 C343.93,73.78 343.13,71.69 342.49,70.25 C341.85,68.80 340.40,68.32 340.56,67.36 C340.72,66.39 342.97,65.43 343.45,64.47 C343.93,63.50 342.65,62.86 343.45,61.58 C344.26,60.29 347.15,58.04 348.27,56.76 C349.39,55.47 350.20,54.67 350.20,53.87 C350.20,53.07 349.07,52.66 348.27,51.94 C347.47,51.22 346.18,50.42 345.38,49.53 C344.58,48.65 342.97,47.77 343.45,46.64Z" fill="#080808" stroke="#000" stroke-width="1.0"/>
<g clip-path="url(#cb5)"><path d="M343.45,46.64 C343.93,45.52 346.50,43.83 348.27,42.79 C350.04,41.74 351.96,41.10 354.05,40.38 C356.14,39.66 359.03,38.93 360.79,38.45 C362.56,37.97 363.04,37.49 364.65,37.49 C366.25,37.49 368.50,37.81 370.43,38.45 C372.36,39.09 374.77,40.06 376.21,41.34 C377.66,42.63 378.54,44.39 379.10,46.16 C379.66,47.93 379.58,49.85 379.58,51.94 C379.58,54.03 379.34,56.60 379.10,58.69 C378.86,60.77 378.62,62.54 378.14,64.47 C377.66,66.39 377.17,68.64 376.21,70.25 C375.25,71.85 373.80,73.94 372.36,74.10 C370.91,74.26 368.98,72.01 367.54,71.21 C366.09,70.41 364.65,69.12 363.69,69.28 C362.72,69.44 362.56,70.73 361.76,72.17 C360.96,73.62 359.67,76.03 358.87,77.96 C358.07,79.88 357.58,82.21 356.94,83.74 C356.30,85.26 356.14,86.55 355.01,87.11 C353.89,87.67 351.80,87.67 350.20,87.11 C348.59,86.55 346.34,85.58 345.38,83.74 C344.42,81.89 344.90,78.28 344.42,76.03 C343.93,73.78 343.13,71.69 342.49,70.25 C341.85,68.80 340.40,68.32 340.56,67.36 C340.72,66.39 342.97,65.43 343.45,64.47 C343.93,63.50 342.65,62.86 343.45,61.58 C344.26,60.29 347.15,58.04 348.27,56.76 C349.39,55.47 350.20,54.67 350.20,53.87 C350.20,53.07 349.07,52.66 348.27,51.94 C347.47,51.22 346.18,50.42 345.38,49.53 C344.58,48.65 342.97,47.77 343.45,46.64Z" fill="#a4a4a4" filter="url(#ins1p4_1p6)"/>
<ellipse cx="354.20" cy="67.80" rx="3.00" ry="6.00" transform="rotate(8 354.20 67.80)" fill="#d0d0d0" filter="url(#blur1p5)"/>
</g>
<path d="M348.27,45.97 C349.47,45.24 352.20,44.12 354.05,43.75 C355.90,43.38 357.90,43.48 359.35,43.75 C360.79,44.02 362.16,44.43 362.72,45.39 C363.28,46.35 363.28,48.52 362.72,49.53 C362.16,50.54 360.88,51.11 359.35,51.46 C357.82,51.81 355.34,51.86 353.57,51.65 C351.80,51.44 349.88,50.80 348.75,50.21 C347.63,49.61 346.90,48.79 346.82,48.09 C346.74,47.38 347.07,46.69 348.27,45.97Z" transform="translate(355.50,47.60) scale(1.0) translate(-355.50,-47.60)" fill="#b8b8b8" stroke="#000" stroke-width="0.6" vector-effect="non-scaling-stroke"/>
<path d="M348.27,45.97 C349.47,45.24 352.20,44.12 354.05,43.75 C355.90,43.38 357.90,43.48 359.35,43.75 C360.79,44.02 362.16,44.43 362.72,45.39 C363.28,46.35 363.28,48.52 362.72,49.53 C362.16,50.54 360.88,51.11 359.35,51.46 C357.82,51.81 355.34,51.86 353.57,51.65 C351.80,51.44 349.88,50.80 348.75,50.21 C347.63,49.61 346.90,48.79 346.82,48.09 C346.74,47.38 347.07,46.69 348.27,45.97Z" transform="translate(355.50,47.60) scale(0.930) translate(-355.50,-47.60)" fill="none" stroke="#fff" stroke-width="0.55" vector-effect="non-scaling-stroke"/>
<path d="M348.27,45.97 C349.47,45.24 352.20,44.12 354.05,43.75 C355.90,43.38 357.90,43.48 359.35,43.75 C360.79,44.02 362.16,44.43 362.72,45.39 C363.28,46.35 363.28,48.52 362.72,49.53 C362.16,50.54 360.88,51.11 359.35,51.46 C357.82,51.81 355.34,51.86 353.57,51.65 C351.80,51.44 349.88,50.80 348.75,50.21 C347.63,49.61 346.90,48.79 346.82,48.09 C346.74,47.38 347.07,46.69 348.27,45.97Z" transform="translate(355.50,47.60) scale(0.74) translate(-355.50,-47.60)" fill="#c8c8c8" stroke="#000" stroke-width="0.6" vector-effect="non-scaling-stroke"/>
<path d="M348.27,45.97 C349.47,45.24 352.20,44.12 354.05,43.75 C355.90,43.38 357.90,43.48 359.35,43.75 C360.79,44.02 362.16,44.43 362.72,45.39 C363.28,46.35 363.28,48.52 362.72,49.53 C362.16,50.54 360.88,51.11 359.35,51.46 C357.82,51.81 355.34,51.86 353.57,51.65 C351.80,51.44 349.88,50.80 348.75,50.21 C347.63,49.61 346.90,48.79 346.82,48.09 C346.74,47.38 347.07,46.69 348.27,45.97Z" transform="translate(355.50,47.60) scale(0.688) translate(-355.50,-47.60)" fill="none" stroke="#fff" stroke-width="0.55" vector-effect="non-scaling-stroke"/>
<path d="M348.27,45.97 C349.47,45.24 352.20,44.12 354.05,43.75 C355.90,43.38 357.90,43.48 359.35,43.75 C360.79,44.02 362.16,44.43 362.72,45.39 C363.28,46.35 363.28,48.52 362.72,49.53 C362.16,50.54 360.88,51.11 359.35,51.46 C357.82,51.81 355.34,51.86 353.57,51.65 C351.80,51.44 349.88,50.80 348.75,50.21 C347.63,49.61 346.90,48.79 346.82,48.09 C346.74,47.38 347.07,46.69 348.27,45.97Z" transform="translate(355.50,47.60) scale(0.5) translate(-355.50,-47.60)" fill="#d8d8d8" stroke="#000" stroke-width="0.6" vector-effect="non-scaling-stroke"/>
<path d="M348.27,45.97 C349.47,45.24 352.20,44.12 354.05,43.75 C355.90,43.38 357.90,43.48 359.35,43.75 C360.79,44.02 362.16,44.43 362.72,45.39 C363.28,46.35 363.28,48.52 362.72,49.53 C362.16,50.54 360.88,51.11 359.35,51.46 C357.82,51.81 355.34,51.86 353.57,51.65 C351.80,51.44 349.88,50.80 348.75,50.21 C347.63,49.61 346.90,48.79 346.82,48.09 C346.74,47.38 347.07,46.69 348.27,45.97Z" transform="translate(355.50,47.60) scale(0.465) translate(-355.50,-47.60)" fill="none" stroke="#fff" stroke-width="0.55" vector-effect="non-scaling-stroke"/>
<path d="M348.27,45.97 C349.47,45.24 352.20,44.12 354.05,43.75 C355.90,43.38 357.90,43.48 359.35,43.75 C360.79,44.02 362.16,44.43 362.72,45.39 C363.28,46.35 363.28,48.52 362.72,49.53 C362.16,50.54 360.88,51.11 359.35,51.46 C357.82,51.81 355.34,51.86 353.57,51.65 C351.80,51.44 349.88,50.80 348.75,50.21 C347.63,49.61 346.90,48.79 346.82,48.09 C346.74,47.38 347.07,46.69 348.27,45.97Z" transform="translate(355.50,47.60) scale(0.26) translate(-355.50,-47.60)" fill="#606060" stroke="#000" stroke-width="0.6" vector-effect="non-scaling-stroke"/>
<path d="M348.27,45.97 C349.47,45.24 352.20,44.12 354.05,43.75 C355.90,43.38 357.90,43.48 359.35,43.75 C360.79,44.02 362.16,44.43 362.72,45.39 C363.28,46.35 363.28,48.52 362.72,49.53 C362.16,50.54 360.88,51.11 359.35,51.46 C357.82,51.81 355.34,51.86 353.57,51.65 C351.80,51.44 349.88,50.80 348.75,50.21 C347.63,49.61 346.90,48.79 346.82,48.09 C346.74,47.38 347.07,46.69 348.27,45.97Z" transform="translate(355.50,47.60) scale(0.242) translate(-355.50,-47.60)" fill="none" stroke="#fff" stroke-width="0.55" vector-effect="non-scaling-stroke"/>
<path d="M364.17,45.68 C365.05,44.67 367.62,43.91 369.47,43.75 C371.31,43.59 373.80,43.99 375.25,44.71 C376.69,45.44 377.82,46.80 378.14,48.09 C378.46,49.37 378.06,51.49 377.17,52.42 C376.29,53.35 374.44,53.63 372.84,53.68 C371.23,53.72 368.98,53.35 367.54,52.71 C366.09,52.07 364.73,50.99 364.17,49.82 C363.61,48.65 363.28,46.69 364.17,45.68Z" transform="translate(372.40,50.00) scale(1.0) translate(-372.40,-50.00)" fill="#b0b0b0" stroke="#000" stroke-width="0.6" vector-effect="non-scaling-stroke"/>
<path d="M364.17,45.68 C365.05,44.67 367.62,43.91 369.47,43.75 C371.31,43.59 373.80,43.99 375.25,44.71 C376.69,45.44 377.82,46.80 378.14,48.09 C378.46,49.37 378.06,51.49 377.17,52.42 C376.29,53.35 374.44,53.63 372.84,53.68 C371.23,53.72 368.98,53.35 367.54,52.71 C366.09,52.07 364.73,50.99 364.17,49.82 C363.61,48.65 363.28,46.69 364.17,45.68Z" transform="translate(372.40,50.00) scale(0.930) translate(-372.40,-50.00)" fill="none" stroke="#fff" stroke-width="0.55" vector-effect="non-scaling-stroke"/>
<path d="M364.17,45.68 C365.05,44.67 367.62,43.91 369.47,43.75 C371.31,43.59 373.80,43.99 375.25,44.71 C376.69,45.44 377.82,46.80 378.14,48.09 C378.46,49.37 378.06,51.49 377.17,52.42 C376.29,53.35 374.44,53.63 372.84,53.68 C371.23,53.72 368.98,53.35 367.54,52.71 C366.09,52.07 364.73,50.99 364.17,49.82 C363.61,48.65 363.28,46.69 364.17,45.68Z" transform="translate(372.40,50.00) scale(0.74) translate(-372.40,-50.00)" fill="#c0c0c0" stroke="#000" stroke-width="0.6" vector-effect="non-scaling-stroke"/>
<path d="M364.17,45.68 C365.05,44.67 367.62,43.91 369.47,43.75 C371.31,43.59 373.80,43.99 375.25,44.71 C376.69,45.44 377.82,46.80 378.14,48.09 C378.46,49.37 378.06,51.49 377.17,52.42 C376.29,53.35 374.44,53.63 372.84,53.68 C371.23,53.72 368.98,53.35 367.54,52.71 C366.09,52.07 364.73,50.99 364.17,49.82 C363.61,48.65 363.28,46.69 364.17,45.68Z" transform="translate(372.40,50.00) scale(0.688) translate(-372.40,-50.00)" fill="none" stroke="#fff" stroke-width="0.55" vector-effect="non-scaling-stroke"/>
<path d="M364.17,45.68 C365.05,44.67 367.62,43.91 369.47,43.75 C371.31,43.59 373.80,43.99 375.25,44.71 C376.69,45.44 377.82,46.80 378.14,48.09 C378.46,49.37 378.06,51.49 377.17,52.42 C376.29,53.35 374.44,53.63 372.84,53.68 C371.23,53.72 368.98,53.35 367.54,52.71 C366.09,52.07 364.73,50.99 364.17,49.82 C363.61,48.65 363.28,46.69 364.17,45.68Z" transform="translate(372.40,50.00) scale(0.5) translate(-372.40,-50.00)" fill="#d0d0d0" stroke="#000" stroke-width="0.6" vector-effect="non-scaling-stroke"/>
<path d="M364.17,45.68 C365.05,44.67 367.62,43.91 369.47,43.75 C371.31,43.59 373.80,43.99 375.25,44.71 C376.69,45.44 377.82,46.80 378.14,48.09 C378.46,49.37 378.06,51.49 377.17,52.42 C376.29,53.35 374.44,53.63 372.84,53.68 C371.23,53.72 368.98,53.35 367.54,52.71 C366.09,52.07 364.73,50.99 364.17,49.82 C363.61,48.65 363.28,46.69 364.17,45.68Z" transform="translate(372.40,50.00) scale(0.465) translate(-372.40,-50.00)" fill="none" stroke="#fff" stroke-width="0.55" vector-effect="non-scaling-stroke"/>
<path d="M364.17,45.68 C365.05,44.67 367.62,43.91 369.47,43.75 C371.31,43.59 373.80,43.99 375.25,44.71 C376.69,45.44 377.82,46.80 378.14,48.09 C378.46,49.37 378.06,51.49 377.17,52.42 C376.29,53.35 374.44,53.63 372.84,53.68 C371.23,53.72 368.98,53.35 367.54,52.71 C366.09,52.07 364.73,50.99 364.17,49.82 C363.61,48.65 363.28,46.69 364.17,45.68Z" transform="translate(372.40,50.00) scale(0.26) translate(-372.40,-50.00)" fill="#303030" stroke="#000" stroke-width="0.6" vector-effect="non-scaling-stroke"/>
<path d="M364.17,45.68 C365.05,44.67 367.62,43.91 369.47,43.75 C371.31,43.59 373.80,43.99 375.25,44.71 C376.69,45.44 377.82,46.80 378.14,48.09 C378.46,49.37 378.06,51.49 377.17,52.42 C376.29,53.35 374.44,53.63 372.84,53.68 C371.23,53.72 368.98,53.35 367.54,52.71 C366.09,52.07 364.73,50.99 364.17,49.82 C363.61,48.65 363.28,46.69 364.17,45.68Z" transform="translate(372.40,50.00) scale(0.242) translate(-372.40,-50.00)" fill="none" stroke="#fff" stroke-width="0.55" vector-effect="non-scaling-stroke"/>
<path d="M369.47,55.60 C370.20,54.93 372.39,54.90 373.32,55.60 C374.25,56.31 374.93,58.33 375.05,59.84 C375.18,61.35 374.67,63.53 374.09,64.66 C373.51,65.78 372.36,66.75 371.59,66.59 C370.82,66.43 369.92,64.85 369.47,63.70 C369.02,62.54 368.89,61.00 368.89,59.65 C368.89,58.30 368.73,56.28 369.47,55.60Z" transform="translate(372.00,60.60) scale(1.0) translate(-372.00,-60.60)" fill="#b8b8b8" stroke="#000" stroke-width="0.6" vector-effect="non-scaling-stroke"/>
<path d="M369.47,55.60 C370.20,54.93 372.39,54.90 373.32,55.60 C374.25,56.31 374.93,58.33 375.05,59.84 C375.18,61.35 374.67,63.53 374.09,64.66 C373.51,65.78 372.36,66.75 371.59,66.59 C370.82,66.43 369.92,64.85 369.47,63.70 C369.02,62.54 368.89,61.00 368.89,59.65 C368.89,58.30 368.73,56.28 369.47,55.60Z" transform="translate(372.00,60.60) scale(0.930) translate(-372.00,-60.60)" fill="none" stroke="#fff" stroke-width="0.55" vector-effect="non-scaling-stroke"/>
<path d="M369.47,55.60 C370.20,54.93 372.39,54.90 373.32,55.60 C374.25,56.31 374.93,58.33 375.05,59.84 C375.18,61.35 374.67,63.53 374.09,64.66 C373.51,65.78 372.36,66.75 371.59,66.59 C370.82,66.43 369.92,64.85 369.47,63.70 C369.02,62.54 368.89,61.00 368.89,59.65 C368.89,58.30 368.73,56.28 369.47,55.60Z" transform="translate(372.00,60.60) scale(0.6) translate(-372.00,-60.60)" fill="#d0d0d0" stroke="#000" stroke-width="0.6" vector-effect="non-scaling-stroke"/>
<path d="M369.47,55.60 C370.20,54.93 372.39,54.90 373.32,55.60 C374.25,56.31 374.93,58.33 375.05,59.84 C375.18,61.35 374.67,63.53 374.09,64.66 C373.51,65.78 372.36,66.75 371.59,66.59 C370.82,66.43 369.92,64.85 369.47,63.70 C369.02,62.54 368.89,61.00 368.89,59.65 C368.89,58.30 368.73,56.28 369.47,55.60Z" transform="translate(372.00,60.60) scale(0.558) translate(-372.00,-60.60)" fill="none" stroke="#fff" stroke-width="0.55" vector-effect="non-scaling-stroke"/>
<path d="M352.12,61.58 C353.02,60.50 355.24,60.42 356.17,61.09 C357.10,61.77 357.55,63.94 357.71,65.62 C357.87,67.31 357.65,69.77 357.13,71.21 C356.62,72.66 355.53,74.04 354.63,74.29 C353.73,74.55 352.38,73.88 351.74,72.75 C351.10,71.63 350.71,69.41 350.77,67.55 C350.84,65.69 351.22,62.65 352.12,61.58Z" transform="translate(354.20,67.40) scale(1.0) translate(-354.20,-67.40)" fill="#b4b4b4" stroke="#000" stroke-width="0.6" vector-effect="non-scaling-stroke"/>
<path d="M352.12,61.58 C353.02,60.50 355.24,60.42 356.17,61.09 C357.10,61.77 357.55,63.94 357.71,65.62 C357.87,67.31 357.65,69.77 357.13,71.21 C356.62,72.66 355.53,74.04 354.63,74.29 C353.73,74.55 352.38,73.88 351.74,72.75 C351.10,71.63 350.71,69.41 350.77,67.55 C350.84,65.69 351.22,62.65 352.12,61.58Z" transform="translate(354.20,67.40) scale(0.930) translate(-354.20,-67.40)" fill="none" stroke="#fff" stroke-width="0.55" vector-effect="non-scaling-stroke"/>
<path d="M352.12,61.58 C353.02,60.50 355.24,60.42 356.17,61.09 C357.10,61.77 357.55,63.94 357.71,65.62 C357.87,67.31 357.65,69.77 357.13,71.21 C356.62,72.66 355.53,74.04 354.63,74.29 C353.73,74.55 352.38,73.88 351.74,72.75 C351.10,71.63 350.71,69.41 350.77,67.55 C350.84,65.69 351.22,62.65 352.12,61.58Z" transform="translate(354.20,67.40) scale(0.62) translate(-354.20,-67.40)" fill="#c8c8c8" stroke="#000" stroke-width="0.6" vector-effect="non-scaling-stroke"/>
<path d="M352.12,61.58 C353.02,60.50 355.24,60.42 356.17,61.09 C357.10,61.77 357.55,63.94 357.71,65.62 C357.87,67.31 357.65,69.77 357.13,71.21 C356.62,72.66 355.53,74.04 354.63,74.29 C353.73,74.55 352.38,73.88 351.74,72.75 C351.10,71.63 350.71,69.41 350.77,67.55 C350.84,65.69 351.22,62.65 352.12,61.58Z" transform="translate(354.20,67.40) scale(0.577) translate(-354.20,-67.40)" fill="none" stroke="#fff" stroke-width="0.55" vector-effect="non-scaling-stroke"/>
<path d="M352.12,61.58 C353.02,60.50 355.24,60.42 356.17,61.09 C357.10,61.77 357.55,63.94 357.71,65.62 C357.87,67.31 357.65,69.77 357.13,71.21 C356.62,72.66 355.53,74.04 354.63,74.29 C353.73,74.55 352.38,73.88 351.74,72.75 C351.10,71.63 350.71,69.41 350.77,67.55 C350.84,65.69 351.22,62.65 352.12,61.58Z" transform="translate(354.20,67.40) scale(0.3) translate(-354.20,-67.40)" fill="#707070" stroke="#000" stroke-width="0.6" vector-effect="non-scaling-stroke"/>
<path d="M352.12,61.58 C353.02,60.50 355.24,60.42 356.17,61.09 C357.10,61.77 357.55,63.94 357.71,65.62 C357.87,67.31 357.65,69.77 357.13,71.21 C356.62,72.66 355.53,74.04 354.63,74.29 C353.73,74.55 352.38,73.88 351.74,72.75 C351.10,71.63 350.71,69.41 350.77,67.55 C350.84,65.69 351.22,62.65 352.12,61.58Z" transform="translate(354.20,67.40) scale(0.279) translate(-354.20,-67.40)" fill="none" stroke="#fff" stroke-width="0.55" vector-effect="non-scaling-stroke"/>
<line x1="362.70" y1="25.20" x2="362.70" y2="88.20" stroke="#000" stroke-width="0.9" />
<line x1="330.90" y1="55.30" x2="393.40" y2="55.30" stroke="#000" stroke-width="0.9" />
<text x="380.00" y="33.32" font-size="8.1" text-anchor="middle" fill="#ff2020" stroke="#ff2020" stroke-width="0.2" style="" >GMP</text>
<text x="380.60" y="40.12" font-size="8.1" text-anchor="middle" fill="#ff2020" stroke="#ff2020" stroke-width="0.2" style="" >40.5%</text>
<text x="343.40" y="79.52" font-size="8.1" text-anchor="middle" fill="#ff2020" stroke="#ff2020" stroke-width="0.2" style="" >MEP</text>
<text x="343.40" y="86.42" font-size="8.1" text-anchor="middle" fill="#ff2020" stroke="#ff2020" stroke-width="0.2" style="" >26.2%</text>
<text x="380.60" y="79.52" font-size="8.1" text-anchor="middle" fill="#ff2020" stroke="#ff2020" stroke-width="0.2" style="" >CMP</text>
<text x="380.60" y="86.42" font-size="8.1" text-anchor="middle" fill="#ff2020" stroke="#ff2020" stroke-width="0.2" style="" >15.2%</text>
<path d="M326.00,74.50 L326.00,92.70 L343.80,92.70" fill="none" stroke="#333" stroke-width="0.8"/>
<path d="M324.30,75.60 L326.00,72.80 L327.70,75.60Z" fill="#333"/>
<path d="M342.70,91.00 L345.50,92.70 L342.70,94.40Z" fill="#333"/>
<text transform="translate(328.03,50.30) rotate(-90)" font-size="9.8" text-anchor="middle" fill="#000" stroke="#000" stroke-width="0.2" style="">CD16/32</text>
<text x="348.00" y="96.93" font-size="9.8" text-anchor="start" fill="#000" stroke="#000" stroke-width="0.2" style="" >CD34</text>
<line x1="394.80" y1="32.20" x2="396.10" y2="32.20" stroke="#333" stroke-width="0.5" />
<line x1="394.80" y1="39.20" x2="396.10" y2="39.20" stroke="#333" stroke-width="0.5" />
<line x1="394.80" y1="46.20" x2="396.10" y2="46.20" stroke="#333" stroke-width="0.5" />
<line x1="394.80" y1="53.20" x2="396.10" y2="53.20" stroke="#333" stroke-width="0.5" />
<line x1="394.80" y1="60.20" x2="396.10" y2="60.20" stroke="#333" stroke-width="0.5" />
<line x1="394.80" y1="67.20" x2="396.10" y2="67.20" stroke="#333" stroke-width="0.5" />
<line x1="394.80" y1="74.20" x2="396.10" y2="74.20" stroke="#333" stroke-width="0.5" />
<line x1="394.80" y1="81.20" x2="396.10" y2="81.20" stroke="#333" stroke-width="0.5" />
<line x1="401.29" y1="88.20" x2="401.29" y2="89.50" stroke="#333" stroke-width="0.5" />
<line x1="406.48" y1="88.20" x2="406.48" y2="89.50" stroke="#333" stroke-width="0.5" />
<line x1="411.68" y1="88.20" x2="411.68" y2="89.50" stroke="#333" stroke-width="0.5" />
<line x1="416.87" y1="88.20" x2="416.87" y2="89.50" stroke="#333" stroke-width="0.5" />
<line x1="422.06" y1="88.20" x2="422.06" y2="89.50" stroke="#333" stroke-width="0.5" />
<line x1="427.25" y1="88.20" x2="427.25" y2="89.50" stroke="#333" stroke-width="0.5" />
<line x1="432.44" y1="88.20" x2="432.44" y2="89.50" stroke="#333" stroke-width="0.5" />
<line x1="437.63" y1="88.20" x2="437.63" y2="89.50" stroke="#333" stroke-width="0.5" />
<line x1="442.82" y1="88.20" x2="442.82" y2="89.50" stroke="#333" stroke-width="0.5" />
<line x1="448.02" y1="88.20" x2="448.02" y2="89.50" stroke="#333" stroke-width="0.5" />
<line x1="453.21" y1="88.20" x2="453.21" y2="89.50" stroke="#333" stroke-width="0.5" />
<rect x="396.10" y="25.20" width="62.30" height="63.00" fill="none" stroke="#111" stroke-width="0.9"/>
<clipPath id="cb6"><path d="M403.63,44.23 C404.36,42.87 406.36,41.74 408.45,40.86 C410.54,39.98 413.27,39.42 416.16,38.93 C419.05,38.45 422.74,38.05 425.79,37.97 C428.85,37.89 432.06,38.05 434.47,38.45 C436.88,38.85 438.80,39.42 440.25,40.38 C441.69,41.34 442.58,42.47 443.14,44.23 C443.70,46.00 443.78,48.73 443.62,50.98 C443.46,53.23 442.58,55.47 442.17,57.72 C441.77,59.97 442.01,62.22 441.21,64.47 C440.41,66.71 438.64,69.60 437.36,71.21 C436.07,72.82 434.79,74.10 433.50,74.10 C432.22,74.10 431.09,71.77 429.65,71.21 C428.20,70.65 426.28,70.41 424.83,70.73 C423.39,71.05 422.10,71.93 420.98,73.14 C419.85,74.34 418.89,76.19 418.09,77.96 C417.28,79.72 416.96,82.45 416.16,83.74 C415.36,85.02 415.20,86.31 413.27,85.66 C411.34,85.02 406.53,81.81 404.60,79.88 C402.67,77.96 402.35,75.87 401.71,74.10 C401.07,72.33 400.42,70.73 400.74,69.28 C401.07,67.84 402.51,66.55 403.63,65.43 C404.76,64.31 406.69,63.66 407.49,62.54 C408.29,61.42 407.89,59.97 408.45,58.69 C409.01,57.40 411.18,55.96 410.86,54.83 C410.54,53.71 407.65,52.90 406.53,51.94 C405.40,50.98 404.60,50.34 404.12,49.05 C403.63,47.77 402.91,45.60 403.63,44.23Z"/></clipPath>
<path d="M403.63,44.23 C404.36,42.87 406.36,41.74 408.45,40.86 C410.54,39.98 413.27,39.42 416.16,38.93 C419.05,38.45 422.74,38.05 425.79,37.97 C428.85,37.89 432.06,38.05 434.47,38.45 C436.88,38.85 438.80,39.42 440.25,40.38 C441.69,41.34 442.58,42.47 443.14,44.23 C443.70,46.00 443.78,48.73 443.62,50.98 C443.46,53.23 442.58,55.47 442.17,57.72 C441.77,59.97 442.01,62.22 441.21,64.47 C440.41,66.71 438.64,69.60 437.36,71.21 C436.07,72.82 434.79,74.10 433.50,74.10 C432.22,74.10 431.09,71.77 429.65,71.21 C428.20,70.65 426.28,70.41 424.83,70.73 C423.39,71.05 422.10,71.93 420.98,73.14 C419.85,74.34 418.89,76.19 418.09,77.96 C417.28,79.72 416.96,82.45 416.16,83.74 C415.36,85.02 415.20,86.31 413.27,85.66 C411.34,85.02 406.53,81.81 404.60,79.88 C402.67,77.96 402.35,75.87 401.71,74.10 C401.07,72.33 400.42,70.73 400.74,69.28 C401.07,67.84 402.51,66.55 403.63,65.43 C404.76,64.31 406.69,63.66 407.49,62.54 C408.29,61.42 407.89,59.97 408.45,58.69 C409.01,57.40 411.18,55.96 410.86,54.83 C410.54,53.71 407.65,52.90 406.53,51.94 C405.40,50.98 404.60,50.34 404.12,49.05 C403.63,47.77 402.91,45.60 403.63,44.23Z" fill="#080808" stroke="#000" stroke-width="1.0"/>
<g clip-path="url(#cb6)"><path d="M403.63,44.23 C404.36,42.87 406.36,41.74 408.45,40.86 C410.54,39.98 413.27,39.42 416.16,38.93 C419.05,38.45 422.74,38.05 425.79,37.97 C428.85,37.89 432.06,38.05 434.47,38.45 C436.88,38.85 438.80,39.42 440.25,40.38 C441.69,41.34 442.58,42.47 443.14,44.23 C443.70,46.00 443.78,48.73 443.62,50.98 C443.46,53.23 442.58,55.47 442.17,57.72 C441.77,59.97 442.01,62.22 441.21,64.47 C440.41,66.71 438.64,69.60 437.36,71.21 C436.07,72.82 434.79,74.10 433.50,74.10 C432.22,74.10 431.09,71.77 429.65,71.21 C428.20,70.65 426.28,70.41 424.83,70.73 C423.39,71.05 422.10,71.93 420.98,73.14 C419.85,74.34 418.89,76.19 418.09,77.96 C417.28,79.72 416.96,82.45 416.16,83.74 C415.36,85.02 415.20,86.31 413.27,85.66 C411.34,85.02 406.53,81.81 404.60,79.88 C402.67,77.96 402.35,75.87 401.71,74.10 C401.07,72.33 400.42,70.73 400.74,69.28 C401.07,67.84 402.51,66.55 403.63,65.43 C404.76,64.31 406.69,63.66 407.49,62.54 C408.29,61.42 407.89,59.97 408.45,58.69 C409.01,57.40 411.18,55.96 410.86,54.83 C410.54,53.71 407.65,52.90 406.53,51.94 C405.40,50.98 404.60,50.34 404.12,49.05 C403.63,47.77 402.91,45.60 403.63,44.23Z" fill="#a0a0a0" filter="url(#ins1p4_1p6)"/>
<ellipse cx="417.50" cy="63.50" rx="5.50" ry="4.50" transform="rotate(20 417.50 63.50)" fill="#1a1a1a" filter="url(#blur1p5)"/>
</g>
<path d="M408.45,44.71 C409.42,43.91 411.42,43.14 413.27,42.79 C415.12,42.43 417.69,42.39 419.53,42.60 C421.38,42.80 423.34,43.21 424.35,44.04 C425.36,44.88 425.76,46.48 425.60,47.61 C425.44,48.73 424.80,50.09 423.39,50.78 C421.97,51.48 419.26,51.84 417.12,51.75 C414.99,51.65 412.18,50.90 410.57,50.21 C408.97,49.52 407.84,48.52 407.49,47.61 C407.14,46.69 407.49,45.52 408.45,44.71Z" transform="translate(416.20,47.20) scale(1.0) translate(-416.20,-47.20)" fill="#b8b8b8" stroke="#000" stroke-width="0.6" vector-effect="non-scaling-stroke"/>
<path d="M408.45,44.71 C409.42,43.91 411.42,43.14 413.27,42.79 C415.12,42.43 417.69,42.39 419.53,42.60 C421.38,42.80 423.34,43.21 424.35,44.04 C425.36,44.88 425.76,46.48 425.60,47.61 C425.44,48.73 424.80,50.09 423.39,50.78 C421.97,51.48 419.26,51.84 417.12,51.75 C414.99,51.65 412.18,50.90 410.57,50.21 C408.97,49.52 407.84,48.52 407.49,47.61 C407.14,46.69 407.49,45.52 408.45,44.71Z" transform="translate(416.20,47.20) scale(0.930) translate(-416.20,-47.20)" fill="none" stroke="#fff" stroke-width="0.55" vector-effect="non-scaling-stroke"/>
<path d="M408.45,44.71 C409.42,43.91 411.42,43.14 413.27,42.79 C415.12,42.43 417.69,42.39 419.53,42.60 C421.38,42.80 423.34,43.21 424.35,44.04 C425.36,44.88 425.76,46.48 425.60,47.61 C425.44,48.73 424.80,50.09 423.39,50.78 C421.97,51.48 419.26,51.84 417.12,51.75 C414.99,51.65 412.18,50.90 410.57,50.21 C408.97,49.52 407.84,48.52 407.49,47.61 C407.14,46.69 407.49,45.52 408.45,44.71Z" transform="translate(416.20,47.20) scale(0.78) translate(-416.20,-47.20)" fill="#c8c8c8" stroke="#000" stroke-width="0.6" vector-effect="non-scaling-stroke"/>
<path d="M408.45,44.71 C409.42,43.91 411.42,43.14 413.27,42.79 C415.12,42.43 417.69,42.39 419.53,42.60 C421.38,42.80 423.34,43.21 424.35,44.04 C425.36,44.88 425.76,46.48 425.60,47.61 C425.44,48.73 424.80,50.09 423.39,50.78 C421.97,51.48 419.26,51.84 417.12,51.75 C414.99,51.65 412.18,50.90 410.57,50.21 C408.97,49.52 407.84,48.52 407.49,47.61 C407.14,46.69 407.49,45.52 408.45,44.71Z" transform="translate(416.20,47.20) scale(0.725) translate(-416.20,-47.20)" fill="none" stroke="#fff" stroke-width="0.55" vector-effect="non-scaling-stroke"/>
<path d="M408.45,44.71 C409.42,43.91 411.42,43.14 413.27,42.79 C415.12,42.43 417.69,42.39 419.53,42.60 C421.38,42.80 423.34,43.21 424.35,44.04 C425.36,44.88 425.76,46.48 425.60,47.61 C425.44,48.73 424.80,50.09 423.39,50.78 C421.97,51.48 419.26,51.84 417.12,51.75 C414.99,51.65 412.18,50.90 410.57,50.21 C408.97,49.52 407.84,48.52 407.49,47.61 C407.14,46.69 407.49,45.52 408.45,44.71Z" transform="translate(416.20,47.20) scale(0.56) translate(-416.20,-47.20)" fill="#d4d4d4" stroke="#000" stroke-width="0.6" vector-effect="non-scaling-stroke"/>
<path d="M408.45,44.71 C409.42,43.91 411.42,43.14 413.27,42.79 C415.12,42.43 417.69,42.39 419.53,42.60 C421.38,42.80 423.34,43.21 424.35,44.04 C425.36,44.88 425.76,46.48 425.60,47.61 C425.44,48.73 424.80,50.09 423.39,50.78 C421.97,51.48 419.26,51.84 417.12,51.75 C414.99,51.65 412.18,50.90 410.57,50.21 C408.97,49.52 407.84,48.52 407.49,47.61 C407.14,46.69 407.49,45.52 408.45,44.71Z" transform="translate(416.20,47.20) scale(0.521) translate(-416.20,-47.20)" fill="none" stroke="#fff" stroke-width="0.55" vector-effect="non-scaling-stroke"/>
<path d="M408.45,44.71 C409.42,43.91 411.42,43.14 413.27,42.79 C415.12,42.43 417.69,42.39 419.53,42.60 C421.38,42.80 423.34,43.21 424.35,44.04 C425.36,44.88 425.76,46.48 425.60,47.61 C425.44,48.73 424.80,50.09 423.39,50.78 C421.97,51.48 419.26,51.84 417.12,51.75 C414.99,51.65 412.18,50.90 410.57,50.21 C408.97,49.52 407.84,48.52 407.49,47.61 C407.14,46.69 407.49,45.52 408.45,44.71Z" transform="translate(416.20,47.20) scale(0.34) translate(-416.20,-47.20)" fill="#e0e0e0" stroke="#000" stroke-width="0.6" vector-effect="non-scaling-stroke"/>
<path d="M408.45,44.71 C409.42,43.91 411.42,43.14 413.27,42.79 C415.12,42.43 417.69,42.39 419.53,42.60 C421.38,42.80 423.34,43.21 424.35,44.04 C425.36,44.88 425.76,46.48 425.60,47.61 C425.44,48.73 424.80,50.09 423.39,50.78 C421.97,51.48 419.26,51.84 417.12,51.75 C414.99,51.65 412.18,50.90 410.57,50.21 C408.97,49.52 407.84,48.52 407.49,47.61 C407.14,46.69 407.49,45.52 408.45,44.71Z" transform="translate(416.20,47.20) scale(0.316) translate(-416.20,-47.20)" fill="none" stroke="#fff" stroke-width="0.55" vector-effect="non-scaling-stroke"/>
<path d="M408.45,44.71 C409.42,43.91 411.42,43.14 413.27,42.79 C415.12,42.43 417.69,42.39 419.53,42.60 C421.38,42.80 423.34,43.21 424.35,44.04 C425.36,44.88 425.76,46.48 425.60,47.61 C425.44,48.73 424.80,50.09 423.39,50.78 C421.97,51.48 419.26,51.84 417.12,51.75 C414.99,51.65 412.18,50.90 410.57,50.21 C408.97,49.52 407.84,48.52 407.49,47.61 C407.14,46.69 407.49,45.52 408.45,44.71Z" transform="translate(416.20,47.20) scale(0.14) translate(-416.20,-47.20)" fill="#f0f0f0" stroke="#000" stroke-width="0.6" vector-effect="non-scaling-stroke"/>
<path d="M408.45,44.71 C409.42,43.91 411.42,43.14 413.27,42.79 C415.12,42.43 417.69,42.39 419.53,42.60 C421.38,42.80 423.34,43.21 424.35,44.04 C425.36,44.88 425.76,46.48 425.60,47.61 C425.44,48.73 424.80,50.09 423.39,50.78 C421.97,51.48 419.26,51.84 417.12,51.75 C414.99,51.65 412.18,50.90 410.57,50.21 C408.97,49.52 407.84,48.52 407.49,47.61 C407.14,46.69 407.49,45.52 408.45,44.71Z" transform="translate(416.20,47.20) scale(0.130) translate(-416.20,-47.20)" fill="none" stroke="#fff" stroke-width="0.55" vector-effect="non-scaling-stroke"/>
<path d="M427.24,44.71 C428.24,43.88 430.66,43.35 432.54,43.27 C434.42,43.19 437.04,43.43 438.51,44.23 C439.99,45.04 441.15,46.77 441.40,48.09 C441.66,49.40 441.21,51.30 440.05,52.13 C438.90,52.97 436.36,53.18 434.47,53.10 C432.57,53.02 430.00,52.45 428.69,51.65 C427.37,50.85 426.81,49.44 426.57,48.28 C426.32,47.12 426.24,45.55 427.24,44.71Z" transform="translate(433.50,48.80) scale(1.0) translate(-433.50,-48.80)" fill="#b0b0b0" stroke="#000" stroke-width="0.6" vector-effect="non-scaling-stroke"/>
<path d="M427.24,44.71 C428.24,43.88 430.66,43.35 432.54,43.27 C434.42,43.19 437.04,43.43 438.51,44.23 C439.99,45.04 441.15,46.77 441.40,48.09 C441.66,49.40 441.21,51.30 440.05,52.13 C438.90,52.97 436.36,53.18 434.47,53.10 C432.57,53.02 430.00,52.45 428.69,51.65 C427.37,50.85 426.81,49.44 426.57,48.28 C426.32,47.12 426.24,45.55 427.24,44.71Z" transform="translate(433.50,48.80) scale(0.930) translate(-433.50,-48.80)" fill="none" stroke="#fff" stroke-width="0.55" vector-effect="non-scaling-stroke"/>
<path d="M427.24,44.71 C428.24,43.88 430.66,43.35 432.54,43.27 C434.42,43.19 437.04,43.43 438.51,44.23 C439.99,45.04 441.15,46.77 441.40,48.09 C441.66,49.40 441.21,51.30 440.05,52.13 C438.90,52.97 436.36,53.18 434.47,53.10 C432.57,53.02 430.00,52.45 428.69,51.65 C427.37,50.85 426.81,49.44 426.57,48.28 C426.32,47.12 426.24,45.55 427.24,44.71Z" transform="translate(433.50,48.80) scale(0.74) translate(-433.50,-48.80)" fill="#c0c0c0" stroke="#000" stroke-width="0.6" vector-effect="non-scaling-stroke"/>
<path d="M427.24,44.71 C428.24,43.88 430.66,43.35 432.54,43.27 C434.42,43.19 437.04,43.43 438.51,44.23 C439.99,45.04 441.15,46.77 441.40,48.09 C441.66,49.40 441.21,51.30 440.05,52.13 C438.90,52.97 436.36,53.18 434.47,53.10 C432.57,53.02 430.00,52.45 428.69,51.65 C427.37,50.85 426.81,49.44 426.57,48.28 C426.32,47.12 426.24,45.55 427.24,44.71Z" transform="translate(433.50,48.80) scale(0.688) translate(-433.50,-48.80)" fill="none" stroke="#fff" stroke-width="0.55" vector-effect="non-scaling-stroke"/>
<path d="M427.24,44.71 C428.24,43.88 430.66,43.35 432.54,43.27 C434.42,43.19 437.04,43.43 438.51,44.23 C439.99,45.04 441.15,46.77 441.40,48.09 C441.66,49.40 441.21,51.30 440.05,52.13 C438.90,52.97 436.36,53.18 434.47,53.10 C432.57,53.02 430.00,52.45 428.69,51.65 C427.37,50.85 426.81,49.44 426.57,48.28 C426.32,47.12 426.24,45.55 427.24,44.71Z" transform="translate(433.50,48.80) scale(0.5) translate(-433.50,-48.80)" fill="#a0a0a0" stroke="#000" stroke-width="0.6" vector-effect="non-scaling-stroke"/>
<path d="M427.24,44.71 C428.24,43.88 430.66,43.35 432.54,43.27 C434.42,43.19 437.04,43.43 438.51,44.23 C439.99,45.04 441.15,46.77 441.40,48.09 C441.66,49.40 441.21,51.30 440.05,52.13 C438.90,52.97 436.36,53.18 434.47,53.10 C432.57,53.02 430.00,52.45 428.69,51.65 C427.37,50.85 426.81,49.44 426.57,48.28 C426.32,47.12 426.24,45.55 427.24,44.71Z" transform="translate(433.50,48.80) scale(0.465) translate(-433.50,-48.80)" fill="none" stroke="#fff" stroke-width="0.55" vector-effect="non-scaling-stroke"/>
<path d="M427.24,44.71 C428.24,43.88 430.66,43.35 432.54,43.27 C434.42,43.19 437.04,43.43 438.51,44.23 C439.99,45.04 441.15,46.77 441.40,48.09 C441.66,49.40 441.21,51.30 440.05,52.13 C438.90,52.97 436.36,53.18 434.47,53.10 C432.57,53.02 430.00,52.45 428.69,51.65 C427.37,50.85 426.81,49.44 426.57,48.28 C426.32,47.12 426.24,45.55 427.24,44.71Z" transform="translate(433.50,48.80) scale(0.26) translate(-433.50,-48.80)" fill="#202020" stroke="#000" stroke-width="0.6" vector-effect="non-scaling-stroke"/>
<path d="M427.24,44.71 C428.24,43.88 430.66,43.35 432.54,43.27 C434.42,43.19 437.04,43.43 438.51,44.23 C439.99,45.04 441.15,46.77 441.40,48.09 C441.66,49.40 441.21,51.30 440.05,52.13 C438.90,52.97 436.36,53.18 434.47,53.10 C432.57,53.02 430.00,52.45 428.69,51.65 C427.37,50.85 426.81,49.44 426.57,48.28 C426.32,47.12 426.24,45.55 427.24,44.71Z" transform="translate(433.50,48.80) scale(0.242) translate(-433.50,-48.80)" fill="none" stroke="#fff" stroke-width="0.55" vector-effect="non-scaling-stroke"/>
<path d="M432.35,55.79 C433.21,55.31 435.62,54.99 436.59,55.79 C437.55,56.60 438.13,58.97 438.13,60.61 C438.13,62.25 437.36,64.63 436.59,65.62 C435.82,66.62 434.29,67.07 433.50,66.59 C432.72,66.10 432.22,64.05 431.86,62.73 C431.51,61.42 431.30,59.84 431.38,58.69 C431.46,57.53 431.48,56.28 432.35,55.79Z" transform="translate(434.50,61.20) scale(1.0) translate(-434.50,-61.20)" fill="#b8b8b8" stroke="#000" stroke-width="0.6" vector-effect="non-scaling-stroke"/>
<path d="M432.35,55.79 C433.21,55.31 435.62,54.99 436.59,55.79 C437.55,56.60 438.13,58.97 438.13,60.61 C438.13,62.25 437.36,64.63 436.59,65.62 C435.82,66.62 434.29,67.07 433.50,66.59 C432.72,66.10 432.22,64.05 431.86,62.73 C431.51,61.42 431.30,59.84 431.38,58.69 C431.46,57.53 431.48,56.28 432.35,55.79Z" transform="translate(434.50,61.20) scale(0.930) translate(-434.50,-61.20)" fill="none" stroke="#fff" stroke-width="0.55" vector-effect="non-scaling-stroke"/>
<path d="M432.35,55.79 C433.21,55.31 435.62,54.99 436.59,55.79 C437.55,56.60 438.13,58.97 438.13,60.61 C438.13,62.25 437.36,64.63 436.59,65.62 C435.82,66.62 434.29,67.07 433.50,66.59 C432.72,66.10 432.22,64.05 431.86,62.73 C431.51,61.42 431.30,59.84 431.38,58.69 C431.46,57.53 431.48,56.28 432.35,55.79Z" transform="translate(434.50,61.20) scale(0.6) translate(-434.50,-61.20)" fill="#d0d0d0" stroke="#000" stroke-width="0.6" vector-effect="non-scaling-stroke"/>
<path d="M432.35,55.79 C433.21,55.31 435.62,54.99 436.59,55.79 C437.55,56.60 438.13,58.97 438.13,60.61 C438.13,62.25 437.36,64.63 436.59,65.62 C435.82,66.62 434.29,67.07 433.50,66.59 C432.72,66.10 432.22,64.05 431.86,62.73 C431.51,61.42 431.30,59.84 431.38,58.69 C431.46,57.53 431.48,56.28 432.35,55.79Z" transform="translate(434.50,61.20) scale(0.558) translate(-434.50,-61.20)" fill="none" stroke="#fff" stroke-width="0.55" vector-effect="non-scaling-stroke"/>
<ellipse cx="413.8" cy="70.3" rx="1.7" ry="3.5" transform="rotate(10 413.8 70.3)" fill="#ececec" stroke="#000" stroke-width="0.5"/>
<line x1="427.70" y1="25.20" x2="427.70" y2="88.20" stroke="#000" stroke-width="0.9" />
<line x1="396.10" y1="55.30" x2="458.40" y2="55.30" stroke="#000" stroke-width="0.9" />
<text x="445.10" y="40.12" font-size="8.1" text-anchor="middle" fill="#ff2020" stroke="#ff2020" stroke-width="0.2" style="" >35.6%</text>
<text x="415.90" y="86.92" font-size="8.1" text-anchor="middle" fill="#ff2020" stroke="#ff2020" stroke-width="0.2" style="" >20.7%</text>
<text x="445.10" y="86.92" font-size="8.1" text-anchor="middle" fill="#ff2020" stroke="#ff2020" stroke-width="0.2" style="" >12.2%</text>
<line x1="502.30" y1="32.20" x2="503.60" y2="32.20" stroke="#333" stroke-width="0.5" />
<line x1="502.30" y1="39.20" x2="503.60" y2="39.20" stroke="#333" stroke-width="0.5" />
<line x1="502.30" y1="46.20" x2="503.60" y2="46.20" stroke="#333" stroke-width="0.5" />
<line x1="502.30" y1="53.20" x2="503.60" y2="53.20" stroke="#333" stroke-width="0.5" />
<line x1="502.30" y1="60.20" x2="503.60" y2="60.20" stroke="#333" stroke-width="0.5" />
<line x1="502.30" y1="67.20" x2="503.60" y2="67.20" stroke="#333" stroke-width="0.5" />
<line x1="502.30" y1="74.20" x2="503.60" y2="74.20" stroke="#333" stroke-width="0.5" />
<line x1="502.30" y1="81.20" x2="503.60" y2="81.20" stroke="#333" stroke-width="0.5" />
<line x1="508.84" y1="88.20" x2="508.84" y2="89.50" stroke="#333" stroke-width="0.5" />
<line x1="514.08" y1="88.20" x2="514.08" y2="89.50" stroke="#333" stroke-width="0.5" />
<line x1="519.33" y1="88.20" x2="519.33" y2="89.50" stroke="#333" stroke-width="0.5" />
<line x1="524.57" y1="88.20" x2="524.57" y2="89.50" stroke="#333" stroke-width="0.5" />
<line x1="529.81" y1="88.20" x2="529.81" y2="89.50" stroke="#333" stroke-width="0.5" />
<line x1="535.05" y1="88.20" x2="535.05" y2="89.50" stroke="#333" stroke-width="0.5" />
<line x1="540.29" y1="88.20" x2="540.29" y2="89.50" stroke="#333" stroke-width="0.5" />
<line x1="545.53" y1="88.20" x2="545.53" y2="89.50" stroke="#333" stroke-width="0.5" />
<line x1="550.77" y1="88.20" x2="550.77" y2="89.50" stroke="#333" stroke-width="0.5" />
<line x1="556.02" y1="88.20" x2="556.02" y2="89.50" stroke="#333" stroke-width="0.5" />
<line x1="561.26" y1="88.20" x2="561.26" y2="89.50" stroke="#333" stroke-width="0.5" />
<rect x="503.60" y="25.20" width="62.90" height="63.00" fill="none" stroke="#111" stroke-width="0.9"/>
<clipPath id="cb7"><path d="M512.50,50.00 C513.00,49.12 515.08,47.47 517.00,46.50 C518.92,45.53 521.67,44.65 524.00,44.20 C526.33,43.75 528.75,43.67 531.00,43.80 C533.25,43.93 535.42,44.47 537.50,45.00 C539.58,45.53 542.50,46.08 543.50,47.00 C544.50,47.92 544.50,49.57 543.50,50.50 C542.50,51.43 539.75,52.22 537.50,52.60 C535.25,52.98 532.75,52.97 530.00,52.80 C527.25,52.63 523.67,51.77 521.00,51.60 C518.33,51.43 515.42,52.07 514.00,51.80 C512.58,51.53 512.00,50.88 512.50,50.00Z"/></clipPath>
<path d="M512.50,50.00 C513.00,49.12 515.08,47.47 517.00,46.50 C518.92,45.53 521.67,44.65 524.00,44.20 C526.33,43.75 528.75,43.67 531.00,43.80 C533.25,43.93 535.42,44.47 537.50,45.00 C539.58,45.53 542.50,46.08 543.50,47.00 C544.50,47.92 544.50,49.57 543.50,50.50 C542.50,51.43 539.75,52.22 537.50,52.60 C535.25,52.98 532.75,52.97 530.00,52.80 C527.25,52.63 523.67,51.77 521.00,51.60 C518.33,51.43 515.42,52.07 514.00,51.80 C512.58,51.53 512.00,50.88 512.50,50.00Z" fill="#333" stroke="#000" stroke-width="0.7"/>
<g clip-path="url(#cb7)"><path d="M512.50,50.00 C513.00,49.12 515.08,47.47 517.00,46.50 C518.92,45.53 521.67,44.65 524.00,44.20 C526.33,43.75 528.75,43.67 531.00,43.80 C533.25,43.93 535.42,44.47 537.50,45.00 C539.58,45.53 542.50,46.08 543.50,47.00 C544.50,47.92 544.50,49.57 543.50,50.50 C542.50,51.43 539.75,52.22 537.50,52.60 C535.25,52.98 532.75,52.97 530.00,52.80 C527.25,52.63 523.67,51.77 521.00,51.60 C518.33,51.43 515.42,52.07 514.00,51.80 C512.58,51.53 512.00,50.88 512.50,50.00Z" fill="#a0a0a0" filter="url(#ins1p3_1p4)"/>
<ellipse cx="530.50" cy="48.60" rx="8.50" ry="2.60" transform="rotate(0 530.50 48.60)" fill="none" stroke="#000" stroke-width="0.6"/>
<ellipse cx="530.50" cy="48.60" rx="7.90" ry="2.00" transform="rotate(0 530.50 48.60)" fill="none" stroke="#fff" stroke-width="0.5"/>
<ellipse cx="532.00" cy="48.60" rx="5.00" ry="1.50" transform="rotate(0 532.00 48.60)" fill="none" stroke="#000" stroke-width="0.6"/>
<ellipse cx="532.00" cy="48.60" rx="4.40" ry="0.90" transform="rotate(0 532.00 48.60)" fill="none" stroke="#fff" stroke-width="0.5"/>
</g>
<rect x="536.80" y="36.90" width="24.80" height="23.00" fill="none" stroke="#111" stroke-width="0.8"/>
<text x="552.50" y="67.12" font-size="8.1" text-anchor="middle" fill="#ff2020" stroke="#ff2020" stroke-width="0.2" style="" >13.9%</text>
<text x="549.60" y="74.42" font-size="8.1" text-anchor="middle" fill="#ff2020" stroke="#ff2020" stroke-width="0.2" style="" >LMPP</text>
<path d="M498.40,74.50 L498.40,92.70 L516.80,92.70" fill="none" stroke="#333" stroke-width="0.8"/>
<path d="M496.70,75.60 L498.40,72.80 L500.10,75.60Z" fill="#333"/>
<path d="M515.70,91.00 L518.50,92.70 L515.70,94.40Z" fill="#333"/>
<text transform="translate(500.23,59.50) rotate(-90)" font-size="9.8" text-anchor="middle" fill="#000" stroke="#000" stroke-width="0.2" style="">SSC</text>
<text x="520.80" y="96.23" font-size="9.8" text-anchor="start" fill="#000" stroke="#000" stroke-width="0.2" style="" >CD135</text>
<line x1="568.10" y1="31.89" x2="569.40" y2="31.89" stroke="#333" stroke-width="0.5" />
<line x1="568.10" y1="38.88" x2="569.40" y2="38.88" stroke="#333" stroke-width="0.5" />
<line x1="568.10" y1="45.87" x2="569.40" y2="45.87" stroke="#333" stroke-width="0.5" />
<line x1="568.10" y1="52.86" x2="569.40" y2="52.86" stroke="#333" stroke-width="0.5" />
<line x1="568.10" y1="59.84" x2="569.40" y2="59.84" stroke="#333" stroke-width="0.5" />
<line x1="568.10" y1="66.83" x2="569.40" y2="66.83" stroke="#333" stroke-width="0.5" />
<line x1="568.10" y1="73.82" x2="569.40" y2="73.82" stroke="#333" stroke-width="0.5" />
<line x1="568.10" y1="80.81" x2="569.40" y2="80.81" stroke="#333" stroke-width="0.5" />
<line x1="574.65" y1="87.80" x2="574.65" y2="89.10" stroke="#333" stroke-width="0.5" />
<line x1="579.90" y1="87.80" x2="579.90" y2="89.10" stroke="#333" stroke-width="0.5" />
<line x1="585.15" y1="87.80" x2="585.15" y2="89.10" stroke="#333" stroke-width="0.5" />
<line x1="590.40" y1="87.80" x2="590.40" y2="89.10" stroke="#333" stroke-width="0.5" />
<line x1="595.65" y1="87.80" x2="595.65" y2="89.10" stroke="#333" stroke-width="0.5" />
<line x1="600.90" y1="87.80" x2="600.90" y2="89.10" stroke="#333" stroke-width="0.5" />
<line x1="606.15" y1="87.80" x2="606.15" y2="89.10" stroke="#333" stroke-width="0.5" />
<line x1="611.40" y1="87.80" x2="611.40" y2="89.10" stroke="#333" stroke-width="0.5" />
<line x1="616.65" y1="87.80" x2="616.65" y2="89.10" stroke="#333" stroke-width="0.5" />
<line x1="621.90" y1="87.80" x2="621.90" y2="89.10" stroke="#333" stroke-width="0.5" />
<line x1="627.15" y1="87.80" x2="627.15" y2="89.10" stroke="#333" stroke-width="0.5" />
<rect x="569.40" y="24.90" width="63.00" height="62.90" fill="none" stroke="#111" stroke-width="0.9"/>
<clipPath id="cb8"><path d="M578.50,49.20 C578.83,48.53 581.08,47.60 583.00,47.00 C584.92,46.40 587.67,45.88 590.00,45.60 C592.33,45.32 594.75,45.15 597.00,45.30 C599.25,45.45 602.08,45.97 603.50,46.50 C604.92,47.03 605.58,47.83 605.50,48.50 C605.42,49.17 604.58,49.98 603.00,50.50 C601.42,51.02 598.50,51.38 596.00,51.60 C593.50,51.82 590.50,51.90 588.00,51.80 C585.50,51.70 582.58,51.43 581.00,51.00 C579.42,50.57 578.17,49.87 578.50,49.20Z"/></clipPath>
<path d="M578.50,49.20 C578.83,48.53 581.08,47.60 583.00,47.00 C584.92,46.40 587.67,45.88 590.00,45.60 C592.33,45.32 594.75,45.15 597.00,45.30 C599.25,45.45 602.08,45.97 603.50,46.50 C604.92,47.03 605.58,47.83 605.50,48.50 C605.42,49.17 604.58,49.98 603.00,50.50 C601.42,51.02 598.50,51.38 596.00,51.60 C593.50,51.82 590.50,51.90 588.00,51.80 C585.50,51.70 582.58,51.43 581.00,51.00 C579.42,50.57 578.17,49.87 578.50,49.20Z" fill="#555" stroke="#000" stroke-width="0.6"/>
<g clip-path="url(#cb8)"><path d="M578.50,49.20 C578.83,48.53 581.08,47.60 583.00,47.00 C584.92,46.40 587.67,45.88 590.00,45.60 C592.33,45.32 594.75,45.15 597.00,45.30 C599.25,45.45 602.08,45.97 603.50,46.50 C604.92,47.03 605.58,47.83 605.50,48.50 C605.42,49.17 604.58,49.98 603.00,50.50 C601.42,51.02 598.50,51.38 596.00,51.60 C593.50,51.82 590.50,51.90 588.00,51.80 C585.50,51.70 582.58,51.43 581.00,51.00 C579.42,50.57 578.17,49.87 578.50,49.20Z" fill="#a8a8a8" filter="url(#ins1p3_1p4)"/>
<ellipse cx="593.50" cy="48.50" rx="7.00" ry="2.00" transform="rotate(0 593.50 48.50)" fill="none" stroke="#000" stroke-width="0.6"/>
<ellipse cx="593.50" cy="48.50" rx="6.40" ry="1.40" transform="rotate(0 593.50 48.50)" fill="none" stroke="#fff" stroke-width="0.5"/>
</g>
<rect x="602.20" y="36.20" width="25.10" height="23.40" fill="none" stroke="#111" stroke-width="0.8"/>
<text x="617.10" y="67.12" font-size="8.1" text-anchor="middle" fill="#ff2020" stroke="#ff2020" stroke-width="0.2" style="" >6.5%</text>
<line x1="155.40" y1="117.37" x2="156.70" y2="117.37" stroke="#333" stroke-width="0.5" />
<line x1="155.40" y1="124.33" x2="156.70" y2="124.33" stroke="#333" stroke-width="0.5" />
<line x1="155.40" y1="131.30" x2="156.70" y2="131.30" stroke="#333" stroke-width="0.5" />
<line x1="155.40" y1="138.27" x2="156.70" y2="138.27" stroke="#333" stroke-width="0.5" />
<line x1="155.40" y1="145.23" x2="156.70" y2="145.23" stroke="#333" stroke-width="0.5" />
<line x1="155.40" y1="152.20" x2="156.70" y2="152.20" stroke="#333" stroke-width="0.5" />
<line x1="155.40" y1="159.17" x2="156.70" y2="159.17" stroke="#333" stroke-width="0.5" />
<line x1="155.40" y1="166.13" x2="156.70" y2="166.13" stroke="#333" stroke-width="0.5" />
<line x1="161.90" y1="173.10" x2="161.90" y2="174.40" stroke="#333" stroke-width="0.5" />
<line x1="167.10" y1="173.10" x2="167.10" y2="174.40" stroke="#333" stroke-width="0.5" />
<line x1="172.30" y1="173.10" x2="172.30" y2="174.40" stroke="#333" stroke-width="0.5" />
<line x1="177.50" y1="173.10" x2="177.50" y2="174.40" stroke="#333" stroke-width="0.5" />
<line x1="182.70" y1="173.10" x2="182.70" y2="174.40" stroke="#333" stroke-width="0.5" />
<line x1="187.90" y1="173.10" x2="187.90" y2="174.40" stroke="#333" stroke-width="0.5" />
<line x1="193.10" y1="173.10" x2="193.10" y2="174.40" stroke="#333" stroke-width="0.5" />
<line x1="198.30" y1="173.10" x2="198.30" y2="174.40" stroke="#333" stroke-width="0.5" />
<line x1="203.50" y1="173.10" x2="203.50" y2="174.40" stroke="#333" stroke-width="0.5" />
<line x1="208.70" y1="173.10" x2="208.70" y2="174.40" stroke="#333" stroke-width="0.5" />
<line x1="213.90" y1="173.10" x2="213.90" y2="174.40" stroke="#333" stroke-width="0.5" />
<rect x="156.70" y="110.40" width="62.40" height="62.70" fill="none" stroke="#111" stroke-width="0.9"/>
<clipPath id="cb9"><path d="M169.45,137.90 C169.77,136.78 171.22,135.25 172.34,134.05 C173.47,132.85 174.59,131.48 176.20,130.68 C177.80,129.88 180.05,129.31 181.98,129.23 C183.90,129.15 186.23,129.39 187.76,130.20 C189.28,131.00 190.65,132.44 191.13,134.05 C191.61,135.66 190.81,137.90 190.65,139.83 C190.49,141.76 190.01,144.01 190.17,145.61 C190.33,147.22 191.05,148.18 191.61,149.47 C192.17,150.75 193.30,152.04 193.54,153.32 C193.78,154.60 193.54,156.05 193.06,157.17 C192.58,158.30 191.69,159.42 190.65,160.06 C189.61,160.71 188.40,160.79 186.79,161.03 C185.19,161.27 182.86,161.67 181.01,161.51 C179.17,161.35 177.08,160.87 175.71,160.06 C174.35,159.26 173.31,158.14 172.82,156.69 C172.34,155.25 172.99,153.24 172.82,151.39 C172.66,149.55 172.26,147.38 171.86,145.61 C171.46,143.85 170.82,142.08 170.42,140.79 C170.01,139.51 169.13,139.03 169.45,137.90Z"/></clipPath>
<path d="M169.45,137.90 C169.77,136.78 171.22,135.25 172.34,134.05 C173.47,132.85 174.59,131.48 176.20,130.68 C177.80,129.88 180.05,129.31 181.98,129.23 C183.90,129.15 186.23,129.39 187.76,130.20 C189.28,131.00 190.65,132.44 191.13,134.05 C191.61,135.66 190.81,137.90 190.65,139.83 C190.49,141.76 190.01,144.01 190.17,145.61 C190.33,147.22 191.05,148.18 191.61,149.47 C192.17,150.75 193.30,152.04 193.54,153.32 C193.78,154.60 193.54,156.05 193.06,157.17 C192.58,158.30 191.69,159.42 190.65,160.06 C189.61,160.71 188.40,160.79 186.79,161.03 C185.19,161.27 182.86,161.67 181.01,161.51 C179.17,161.35 177.08,160.87 175.71,160.06 C174.35,159.26 173.31,158.14 172.82,156.69 C172.34,155.25 172.99,153.24 172.82,151.39 C172.66,149.55 172.26,147.38 171.86,145.61 C171.46,143.85 170.82,142.08 170.42,140.79 C170.01,139.51 169.13,139.03 169.45,137.90Z" fill="#111" stroke="#000" stroke-width="1.0"/>
<g clip-path="url(#cb9)"><path d="M169.45,137.90 C169.77,136.78 171.22,135.25 172.34,134.05 C173.47,132.85 174.59,131.48 176.20,130.68 C177.80,129.88 180.05,129.31 181.98,129.23 C183.90,129.15 186.23,129.39 187.76,130.20 C189.28,131.00 190.65,132.44 191.13,134.05 C191.61,135.66 190.81,137.90 190.65,139.83 C190.49,141.76 190.01,144.01 190.17,145.61 C190.33,147.22 191.05,148.18 191.61,149.47 C192.17,150.75 193.30,152.04 193.54,153.32 C193.78,154.60 193.54,156.05 193.06,157.17 C192.58,158.30 191.69,159.42 190.65,160.06 C189.61,160.71 188.40,160.79 186.79,161.03 C185.19,161.27 182.86,161.67 181.01,161.51 C179.17,161.35 177.08,160.87 175.71,160.06 C174.35,159.26 173.31,158.14 172.82,156.69 C172.34,155.25 172.99,153.24 172.82,151.39 C172.66,149.55 172.26,147.38 171.86,145.61 C171.46,143.85 170.82,142.08 170.42,140.79 C170.01,139.51 169.13,139.03 169.45,137.90Z" fill="#c2c2c2" filter="url(#ins0p9_1p1)"/>
<ellipse cx="182.00" cy="138.60" rx="3.20" ry="6.50" transform="rotate(5 182.00 138.60)" fill="none" stroke="#000" stroke-width="0.6"/>
<ellipse cx="182.00" cy="138.60" rx="2.60" ry="5.90" transform="rotate(5 182.00 138.60)" fill="none" stroke="#fff" stroke-width="0.5"/>
<ellipse cx="182.00" cy="137.80" rx="1.50" ry="3.40" transform="rotate(5 182.00 137.80)" fill="#333" stroke="#000" stroke-width="0.6"/>
<ellipse cx="182.00" cy="137.80" rx="0.90" ry="2.80" transform="rotate(5 182.00 137.80)" fill="none" stroke="#fff" stroke-width="0.5"/>
<ellipse cx="183.00" cy="154.30" rx="3.00" ry="3.00" transform="rotate(0 183.00 154.30)" fill="none" stroke="#000" stroke-width="0.6"/>
<ellipse cx="183.00" cy="154.30" rx="2.40" ry="2.40" transform="rotate(0 183.00 154.30)" fill="none" stroke="#fff" stroke-width="0.5"/>
<ellipse cx="183.00" cy="154.30" rx="1.60" ry="1.60" transform="rotate(0 183.00 154.30)" fill="#e0e0e0" stroke="#000" stroke-width="0.6"/>
<ellipse cx="183.00" cy="154.30" rx="1.00" ry="1.00" transform="rotate(0 183.00 154.30)" fill="none" stroke="#fff" stroke-width="0.5"/>
<path d="M169.45,137.90 C169.77,136.78 171.22,135.25 172.34,134.05 C173.47,132.85 174.59,131.48 176.20,130.68 C177.80,129.88 180.05,129.31 181.98,129.23 C183.90,129.15 186.23,129.39 187.76,130.20 C189.28,131.00 190.65,132.44 191.13,134.05 C191.61,135.66 190.81,137.90 190.65,139.83 C190.49,141.76 190.01,144.01 190.17,145.61 C190.33,147.22 191.05,148.18 191.61,149.47 C192.17,150.75 193.30,152.04 193.54,153.32 C193.78,154.60 193.54,156.05 193.06,157.17 C192.58,158.30 191.69,159.42 190.65,160.06 C189.61,160.71 188.40,160.79 186.79,161.03 C185.19,161.27 182.86,161.67 181.01,161.51 C179.17,161.35 177.08,160.87 175.71,160.06 C174.35,159.26 173.31,158.14 172.82,156.69 C172.34,155.25 172.99,153.24 172.82,151.39 C172.66,149.55 172.26,147.38 171.86,145.61 C171.46,143.85 170.82,142.08 170.42,140.79 C170.01,139.51 169.13,139.03 169.45,137.90Z" transform="translate(182.00,143.00) scale(0.8) translate(-182.00,-143.00)" fill="none" stroke="#000" stroke-width="0.6" vector-effect="non-scaling-stroke"/>
<path d="M169.45,137.90 C169.77,136.78 171.22,135.25 172.34,134.05 C173.47,132.85 174.59,131.48 176.20,130.68 C177.80,129.88 180.05,129.31 181.98,129.23 C183.90,129.15 186.23,129.39 187.76,130.20 C189.28,131.00 190.65,132.44 191.13,134.05 C191.61,135.66 190.81,137.90 190.65,139.83 C190.49,141.76 190.01,144.01 190.17,145.61 C190.33,147.22 191.05,148.18 191.61,149.47 C192.17,150.75 193.30,152.04 193.54,153.32 C193.78,154.60 193.54,156.05 193.06,157.17 C192.58,158.30 191.69,159.42 190.65,160.06 C189.61,160.71 188.40,160.79 186.79,161.03 C185.19,161.27 182.86,161.67 181.01,161.51 C179.17,161.35 177.08,160.87 175.71,160.06 C174.35,159.26 173.31,158.14 172.82,156.69 C172.34,155.25 172.99,153.24 172.82,151.39 C172.66,149.55 172.26,147.38 171.86,145.61 C171.46,143.85 170.82,142.08 170.42,140.79 C170.01,139.51 169.13,139.03 169.45,137.90Z" transform="translate(182.00,143.00) scale(0.740) translate(-182.00,-143.00)" fill="none" stroke="#fff" stroke-width="0.5" vector-effect="non-scaling-stroke"/>
<path d="M169.45,137.90 C169.77,136.78 171.22,135.25 172.34,134.05 C173.47,132.85 174.59,131.48 176.20,130.68 C177.80,129.88 180.05,129.31 181.98,129.23 C183.90,129.15 186.23,129.39 187.76,130.20 C189.28,131.00 190.65,132.44 191.13,134.05 C191.61,135.66 190.81,137.90 190.65,139.83 C190.49,141.76 190.01,144.01 190.17,145.61 C190.33,147.22 191.05,148.18 191.61,149.47 C192.17,150.75 193.30,152.04 193.54,153.32 C193.78,154.60 193.54,156.05 193.06,157.17 C192.58,158.30 191.69,159.42 190.65,160.06 C189.61,160.71 188.40,160.79 186.79,161.03 C185.19,161.27 182.86,161.67 181.01,161.51 C179.17,161.35 177.08,160.87 175.71,160.06 C174.35,159.26 173.31,158.14 172.82,156.69 C172.34,155.25 172.99,153.24 172.82,151.39 C172.66,149.55 172.26,147.38 171.86,145.61 C171.46,143.85 170.82,142.08 170.42,140.79 C170.01,139.51 169.13,139.03 169.45,137.90Z" transform="translate(182.00,143.00) scale(0.6) translate(-182.00,-143.00)" fill="none" stroke="#000" stroke-width="0.6" vector-effect="non-scaling-stroke"/>
<path d="M169.45,137.90 C169.77,136.78 171.22,135.25 172.34,134.05 C173.47,132.85 174.59,131.48 176.20,130.68 C177.80,129.88 180.05,129.31 181.98,129.23 C183.90,129.15 186.23,129.39 187.76,130.20 C189.28,131.00 190.65,132.44 191.13,134.05 C191.61,135.66 190.81,137.90 190.65,139.83 C190.49,141.76 190.01,144.01 190.17,145.61 C190.33,147.22 191.05,148.18 191.61,149.47 C192.17,150.75 193.30,152.04 193.54,153.32 C193.78,154.60 193.54,156.05 193.06,157.17 C192.58,158.30 191.69,159.42 190.65,160.06 C189.61,160.71 188.40,160.79 186.79,161.03 C185.19,161.27 182.86,161.67 181.01,161.51 C179.17,161.35 177.08,160.87 175.71,160.06 C174.35,159.26 173.31,158.14 172.82,156.69 C172.34,155.25 172.99,153.24 172.82,151.39 C172.66,149.55 172.26,147.38 171.86,145.61 C171.46,143.85 170.82,142.08 170.42,140.79 C170.01,139.51 169.13,139.03 169.45,137.90Z" transform="translate(182.00,143.00) scale(0.540) translate(-182.00,-143.00)" fill="none" stroke="#fff" stroke-width="0.5" vector-effect="non-scaling-stroke"/>
</g>
<rect x="184.20" y="145.40" width="20.40" height="25.30" fill="none" stroke="#111" stroke-width="0.8"/>
<text x="204.60" y="136.72" font-size="8.1" text-anchor="middle" fill="#ff2020" stroke="#ff2020" stroke-width="0.2" style="" >HSCs</text>
<text x="205.70" y="144.02" font-size="8.1" text-anchor="middle" fill="#ff2020" stroke="#ff2020" stroke-width="0.2" style="" >10.6%</text>
<path d="M150.40,160.10 L150.40,179.30 L168.90,179.30" fill="none" stroke="#333" stroke-width="0.8"/>
<path d="M148.70,161.20 L150.40,158.40 L152.10,161.20Z" fill="#333"/>
<path d="M167.80,177.60 L170.60,179.30 L167.80,181.00Z" fill="#333"/>
<text transform="translate(152.73,143.00) rotate(-90)" font-size="9.8" text-anchor="middle" fill="#000" stroke="#000" stroke-width="0.2" style="">CD48</text>
<text x="174.00" y="182.83" font-size="9.8" text-anchor="start" fill="#000" stroke="#000" stroke-width="0.2" style="" >CD150</text>
<line x1="221.40" y1="117.37" x2="222.70" y2="117.37" stroke="#333" stroke-width="0.5" />
<line x1="221.40" y1="124.33" x2="222.70" y2="124.33" stroke="#333" stroke-width="0.5" />
<line x1="221.40" y1="131.30" x2="222.70" y2="131.30" stroke="#333" stroke-width="0.5" />
<line x1="221.40" y1="138.27" x2="222.70" y2="138.27" stroke="#333" stroke-width="0.5" />
<line x1="221.40" y1="145.23" x2="222.70" y2="145.23" stroke="#333" stroke-width="0.5" />
<line x1="221.40" y1="152.20" x2="222.70" y2="152.20" stroke="#333" stroke-width="0.5" />
<line x1="221.40" y1="159.17" x2="222.70" y2="159.17" stroke="#333" stroke-width="0.5" />
<line x1="221.40" y1="166.13" x2="222.70" y2="166.13" stroke="#333" stroke-width="0.5" />
<line x1="227.90" y1="173.10" x2="227.90" y2="174.40" stroke="#333" stroke-width="0.5" />
<line x1="233.10" y1="173.10" x2="233.10" y2="174.40" stroke="#333" stroke-width="0.5" />
<line x1="238.30" y1="173.10" x2="238.30" y2="174.40" stroke="#333" stroke-width="0.5" />
<line x1="243.50" y1="173.10" x2="243.50" y2="174.40" stroke="#333" stroke-width="0.5" />
<line x1="248.70" y1="173.10" x2="248.70" y2="174.40" stroke="#333" stroke-width="0.5" />
<line x1="253.90" y1="173.10" x2="253.90" y2="174.40" stroke="#333" stroke-width="0.5" />
<line x1="259.10" y1="173.10" x2="259.10" y2="174.40" stroke="#333" stroke-width="0.5" />
<line x1="264.30" y1="173.10" x2="264.30" y2="174.40" stroke="#333" stroke-width="0.5" />
<line x1="269.50" y1="173.10" x2="269.50" y2="174.40" stroke="#333" stroke-width="0.5" />
<line x1="274.70" y1="173.10" x2="274.70" y2="174.40" stroke="#333" stroke-width="0.5" />
<line x1="279.90" y1="173.10" x2="279.90" y2="174.40" stroke="#333" stroke-width="0.5" />
<rect x="222.70" y="110.40" width="62.40" height="62.70" fill="none" stroke="#111" stroke-width="0.9"/>
<clipPath id="cb10"><path d="M234.97,137.90 C235.21,136.30 236.17,135.17 237.38,134.05 C238.58,132.93 240.43,131.96 242.20,131.16 C243.96,130.36 246.37,129.23 247.98,129.23 C249.58,129.23 250.87,130.20 251.83,131.16 C252.79,132.12 253.36,133.41 253.76,135.01 C254.16,136.62 254.08,138.87 254.24,140.79 C254.40,142.72 254.32,144.97 254.72,146.58 C255.12,148.18 256.17,149.15 256.65,150.43 C257.13,151.71 257.85,153.00 257.61,154.28 C257.37,155.57 256.17,157.01 255.20,158.14 C254.24,159.26 253.36,160.42 251.83,161.03 C250.31,161.64 247.82,161.96 246.05,161.80 C244.28,161.64 242.60,161.00 241.23,160.06 C239.87,159.13 238.66,157.66 237.86,156.21 C237.06,154.77 236.58,152.84 236.42,151.39 C236.26,149.95 236.98,148.82 236.90,147.54 C236.82,146.25 236.26,145.29 235.93,143.69 C235.61,142.08 234.73,139.51 234.97,137.90Z"/></clipPath>
<path d="M234.97,137.90 C235.21,136.30 236.17,135.17 237.38,134.05 C238.58,132.93 240.43,131.96 242.20,131.16 C243.96,130.36 246.37,129.23 247.98,129.23 C249.58,129.23 250.87,130.20 251.83,131.16 C252.79,132.12 253.36,133.41 253.76,135.01 C254.16,136.62 254.08,138.87 254.24,140.79 C254.40,142.72 254.32,144.97 254.72,146.58 C255.12,148.18 256.17,149.15 256.65,150.43 C257.13,151.71 257.85,153.00 257.61,154.28 C257.37,155.57 256.17,157.01 255.20,158.14 C254.24,159.26 253.36,160.42 251.83,161.03 C250.31,161.64 247.82,161.96 246.05,161.80 C244.28,161.64 242.60,161.00 241.23,160.06 C239.87,159.13 238.66,157.66 237.86,156.21 C237.06,154.77 236.58,152.84 236.42,151.39 C236.26,149.95 236.98,148.82 236.90,147.54 C236.82,146.25 236.26,145.29 235.93,143.69 C235.61,142.08 234.73,139.51 234.97,137.90Z" fill="#111" stroke="#000" stroke-width="1.0"/>
<g clip-path="url(#cb10)"><path d="M234.97,137.90 C235.21,136.30 236.17,135.17 237.38,134.05 C238.58,132.93 240.43,131.96 242.20,131.16 C243.96,130.36 246.37,129.23 247.98,129.23 C249.58,129.23 250.87,130.20 251.83,131.16 C252.79,132.12 253.36,133.41 253.76,135.01 C254.16,136.62 254.08,138.87 254.24,140.79 C254.40,142.72 254.32,144.97 254.72,146.58 C255.12,148.18 256.17,149.15 256.65,150.43 C257.13,151.71 257.85,153.00 257.61,154.28 C257.37,155.57 256.17,157.01 255.20,158.14 C254.24,159.26 253.36,160.42 251.83,161.03 C250.31,161.64 247.82,161.96 246.05,161.80 C244.28,161.64 242.60,161.00 241.23,160.06 C239.87,159.13 238.66,157.66 237.86,156.21 C237.06,154.77 236.58,152.84 236.42,151.39 C236.26,149.95 236.98,148.82 236.90,147.54 C236.82,146.25 236.26,145.29 235.93,143.69 C235.61,142.08 234.73,139.51 234.97,137.90Z" fill="#c2c2c2" filter="url(#ins0p9_1p1)"/>
<ellipse cx="247.00" cy="139.50" rx="2.80" ry="6.00" transform="rotate(0 247.00 139.50)" fill="none" stroke="#000" stroke-width="0.6"/>
<ellipse cx="247.00" cy="139.50" rx="2.20" ry="5.40" transform="rotate(0 247.00 139.50)" fill="none" stroke="#fff" stroke-width="0.5"/>
<ellipse cx="247.00" cy="139.00" rx="1.50" ry="2.80" transform="rotate(0 247.00 139.00)" fill="#333" stroke="#000" stroke-width="0.6"/>
<ellipse cx="247.00" cy="139.00" rx="0.90" ry="2.20" transform="rotate(0 247.00 139.00)" fill="none" stroke="#fff" stroke-width="0.5"/>
<ellipse cx="246.80" cy="146.10" rx="1.40" ry="1.40" transform="rotate(0 246.80 146.10)" fill="none" stroke="#000" stroke-width="0.6"/>
<ellipse cx="246.80" cy="146.10" rx="0.80" ry="0.80" transform="rotate(0 246.80 146.10)" fill="none" stroke="#fff" stroke-width="0.5"/>
<ellipse cx="246.80" cy="153.30" rx="2.00" ry="2.00" transform="rotate(0 246.80 153.30)" fill="none" stroke="#000" stroke-width="0.6"/>
<ellipse cx="246.80" cy="153.30" rx="1.40" ry="1.40" transform="rotate(0 246.80 153.30)" fill="none" stroke="#fff" stroke-width="0.5"/>
<path d="M234.97,137.90 C235.21,136.30 236.17,135.17 237.38,134.05 C238.58,132.93 240.43,131.96 242.20,131.16 C243.96,130.36 246.37,129.23 247.98,129.23 C249.58,129.23 250.87,130.20 251.83,131.16 C252.79,132.12 253.36,133.41 253.76,135.01 C254.16,136.62 254.08,138.87 254.24,140.79 C254.40,142.72 254.32,144.97 254.72,146.58 C255.12,148.18 256.17,149.15 256.65,150.43 C257.13,151.71 257.85,153.00 257.61,154.28 C257.37,155.57 256.17,157.01 255.20,158.14 C254.24,159.26 253.36,160.42 251.83,161.03 C250.31,161.64 247.82,161.96 246.05,161.80 C244.28,161.64 242.60,161.00 241.23,160.06 C239.87,159.13 238.66,157.66 237.86,156.21 C237.06,154.77 236.58,152.84 236.42,151.39 C236.26,149.95 236.98,148.82 236.90,147.54 C236.82,146.25 236.26,145.29 235.93,143.69 C235.61,142.08 234.73,139.51 234.97,137.90Z" transform="translate(247.00,144.00) scale(0.8) translate(-247.00,-144.00)" fill="none" stroke="#000" stroke-width="0.6" vector-effect="non-scaling-stroke"/>
<path d="M234.97,137.90 C235.21,136.30 236.17,135.17 237.38,134.05 C238.58,132.93 240.43,131.96 242.20,131.16 C243.96,130.36 246.37,129.23 247.98,129.23 C249.58,129.23 250.87,130.20 251.83,131.16 C252.79,132.12 253.36,133.41 253.76,135.01 C254.16,136.62 254.08,138.87 254.24,140.79 C254.40,142.72 254.32,144.97 254.72,146.58 C255.12,148.18 256.17,149.15 256.65,150.43 C257.13,151.71 257.85,153.00 257.61,154.28 C257.37,155.57 256.17,157.01 255.20,158.14 C254.24,159.26 253.36,160.42 251.83,161.03 C250.31,161.64 247.82,161.96 246.05,161.80 C244.28,161.64 242.60,161.00 241.23,160.06 C239.87,159.13 238.66,157.66 237.86,156.21 C237.06,154.77 236.58,152.84 236.42,151.39 C236.26,149.95 236.98,148.82 236.90,147.54 C236.82,146.25 236.26,145.29 235.93,143.69 C235.61,142.08 234.73,139.51 234.97,137.90Z" transform="translate(247.00,144.00) scale(0.740) translate(-247.00,-144.00)" fill="none" stroke="#fff" stroke-width="0.5" vector-effect="non-scaling-stroke"/>
<path d="M234.97,137.90 C235.21,136.30 236.17,135.17 237.38,134.05 C238.58,132.93 240.43,131.96 242.20,131.16 C243.96,130.36 246.37,129.23 247.98,129.23 C249.58,129.23 250.87,130.20 251.83,131.16 C252.79,132.12 253.36,133.41 253.76,135.01 C254.16,136.62 254.08,138.87 254.24,140.79 C254.40,142.72 254.32,144.97 254.72,146.58 C255.12,148.18 256.17,149.15 256.65,150.43 C257.13,151.71 257.85,153.00 257.61,154.28 C257.37,155.57 256.17,157.01 255.20,158.14 C254.24,159.26 253.36,160.42 251.83,161.03 C250.31,161.64 247.82,161.96 246.05,161.80 C244.28,161.64 242.60,161.00 241.23,160.06 C239.87,159.13 238.66,157.66 237.86,156.21 C237.06,154.77 236.58,152.84 236.42,151.39 C236.26,149.95 236.98,148.82 236.90,147.54 C236.82,146.25 236.26,145.29 235.93,143.69 C235.61,142.08 234.73,139.51 234.97,137.90Z" transform="translate(247.00,144.00) scale(0.6) translate(-247.00,-144.00)" fill="none" stroke="#000" stroke-width="0.6" vector-effect="non-scaling-stroke"/>
<path d="M234.97,137.90 C235.21,136.30 236.17,135.17 237.38,134.05 C238.58,132.93 240.43,131.96 242.20,131.16 C243.96,130.36 246.37,129.23 247.98,129.23 C249.58,129.23 250.87,130.20 251.83,131.16 C252.79,132.12 253.36,133.41 253.76,135.01 C254.16,136.62 254.08,138.87 254.24,140.79 C254.40,142.72 254.32,144.97 254.72,146.58 C255.12,148.18 256.17,149.15 256.65,150.43 C257.13,151.71 257.85,153.00 257.61,154.28 C257.37,155.57 256.17,157.01 255.20,158.14 C254.24,159.26 253.36,160.42 251.83,161.03 C250.31,161.64 247.82,161.96 246.05,161.80 C244.28,161.64 242.60,161.00 241.23,160.06 C239.87,159.13 238.66,157.66 237.86,156.21 C237.06,154.77 236.58,152.84 236.42,151.39 C236.26,149.95 236.98,148.82 236.90,147.54 C236.82,146.25 236.26,145.29 235.93,143.69 C235.61,142.08 234.73,139.51 234.97,137.90Z" transform="translate(247.00,144.00) scale(0.540) translate(-247.00,-144.00)" fill="none" stroke="#fff" stroke-width="0.5" vector-effect="non-scaling-stroke"/>
</g>
<rect x="250.40" y="144.50" width="20.20" height="26.00" fill="none" stroke="#111" stroke-width="0.8"/>
<text x="268.20" y="143.32" font-size="8.1" text-anchor="middle" fill="#ff2020" stroke="#ff2020" stroke-width="0.2" style="" >8.2%</text>
<line x1="330.50" y1="117.76" x2="331.80" y2="117.76" stroke="#333" stroke-width="0.5" />
<line x1="330.50" y1="124.61" x2="331.80" y2="124.61" stroke="#333" stroke-width="0.5" />
<line x1="330.50" y1="131.47" x2="331.80" y2="131.47" stroke="#333" stroke-width="0.5" />
<line x1="330.50" y1="138.32" x2="331.80" y2="138.32" stroke="#333" stroke-width="0.5" />
<line x1="330.50" y1="145.18" x2="331.80" y2="145.18" stroke="#333" stroke-width="0.5" />
<line x1="330.50" y1="152.03" x2="331.80" y2="152.03" stroke="#333" stroke-width="0.5" />
<line x1="330.50" y1="158.89" x2="331.80" y2="158.89" stroke="#333" stroke-width="0.5" />
<line x1="330.50" y1="165.74" x2="331.80" y2="165.74" stroke="#333" stroke-width="0.5" />
<line x1="336.93" y1="172.60" x2="336.93" y2="173.90" stroke="#333" stroke-width="0.5" />
<line x1="342.07" y1="172.60" x2="342.07" y2="173.90" stroke="#333" stroke-width="0.5" />
<line x1="347.20" y1="172.60" x2="347.20" y2="173.90" stroke="#333" stroke-width="0.5" />
<line x1="352.33" y1="172.60" x2="352.33" y2="173.90" stroke="#333" stroke-width="0.5" />
<line x1="357.47" y1="172.60" x2="357.47" y2="173.90" stroke="#333" stroke-width="0.5" />
<line x1="362.60" y1="172.60" x2="362.60" y2="173.90" stroke="#333" stroke-width="0.5" />
<line x1="367.73" y1="172.60" x2="367.73" y2="173.90" stroke="#333" stroke-width="0.5" />
<line x1="372.87" y1="172.60" x2="372.87" y2="173.90" stroke="#333" stroke-width="0.5" />
<line x1="378.00" y1="172.60" x2="378.00" y2="173.90" stroke="#333" stroke-width="0.5" />
<line x1="383.13" y1="172.60" x2="383.13" y2="173.90" stroke="#333" stroke-width="0.5" />
<line x1="388.27" y1="172.60" x2="388.27" y2="173.90" stroke="#333" stroke-width="0.5" />
<rect x="331.80" y="110.90" width="61.60" height="61.70" fill="none" stroke="#111" stroke-width="0.9"/>
<clipPath id="cb11"><path d="M348.00,132.30 C348.08,131.87 350.58,131.18 352.00,130.60 C353.42,130.02 355.08,129.37 356.50,128.80 C357.92,128.23 359.25,127.73 360.50,127.20 C361.75,126.67 362.58,126.13 364.00,125.60 C365.42,125.07 367.25,124.23 369.00,124.00 C370.75,123.77 372.90,123.73 374.50,124.20 C376.10,124.67 378.10,125.75 378.60,126.80 C379.10,127.85 378.60,129.50 377.50,130.50 C376.40,131.50 374.25,132.33 372.00,132.80 C369.75,133.27 366.50,133.27 364.00,133.30 C361.50,133.33 359.08,133.02 357.00,133.00 C354.92,132.98 353.00,133.32 351.50,133.20 C350.00,133.08 347.92,132.73 348.00,132.30Z"/></clipPath>
<path d="M348.00,132.30 C348.08,131.87 350.58,131.18 352.00,130.60 C353.42,130.02 355.08,129.37 356.50,128.80 C357.92,128.23 359.25,127.73 360.50,127.20 C361.75,126.67 362.58,126.13 364.00,125.60 C365.42,125.07 367.25,124.23 369.00,124.00 C370.75,123.77 372.90,123.73 374.50,124.20 C376.10,124.67 378.10,125.75 378.60,126.80 C379.10,127.85 378.60,129.50 377.50,130.50 C376.40,131.50 374.25,132.33 372.00,132.80 C369.75,133.27 366.50,133.27 364.00,133.30 C361.50,133.33 359.08,133.02 357.00,133.00 C354.92,132.98 353.00,133.32 351.50,133.20 C350.00,133.08 347.92,132.73 348.00,132.30Z" fill="#555" stroke="#000" stroke-width="0.55"/>
<g clip-path="url(#cb11)"><path d="M348.00,132.30 C348.08,131.87 350.58,131.18 352.00,130.60 C353.42,130.02 355.08,129.37 356.50,128.80 C357.92,128.23 359.25,127.73 360.50,127.20 C361.75,126.67 362.58,126.13 364.00,125.60 C365.42,125.07 367.25,124.23 369.00,124.00 C370.75,123.77 372.90,123.73 374.50,124.20 C376.10,124.67 378.10,125.75 378.60,126.80 C379.10,127.85 378.60,129.50 377.50,130.50 C376.40,131.50 374.25,132.33 372.00,132.80 C369.75,133.27 366.50,133.27 364.00,133.30 C361.50,133.33 359.08,133.02 357.00,133.00 C354.92,132.98 353.00,133.32 351.50,133.20 C350.00,133.08 347.92,132.73 348.00,132.30Z" fill="#c0c0c0" filter="url(#ins0p9_1p0)"/>
<ellipse cx="356.00" cy="131.00" rx="4.00" ry="1.00" transform="rotate(-10 356.00 131.00)" fill="#333" filter="url(#blur1)"/>
<ellipse cx="370.00" cy="128.80" rx="6.50" ry="3.20" transform="rotate(0 370.00 128.80)" fill="none" stroke="#000" stroke-width="0.6"/>
<ellipse cx="370.00" cy="128.80" rx="5.90" ry="2.60" transform="rotate(0 370.00 128.80)" fill="none" stroke="#fff" stroke-width="0.5"/>
<ellipse cx="370.80" cy="128.80" rx="3.80" ry="1.80" transform="rotate(0 370.80 128.80)" fill="none" stroke="#000" stroke-width="0.6"/>
<ellipse cx="370.80" cy="128.80" rx="3.20" ry="1.20" transform="rotate(0 370.80 128.80)" fill="none" stroke="#fff" stroke-width="0.5"/>
</g>
<circle cx="344.80" cy="133.20" r="0.60" fill="#000"/>
<rect x="336.90" y="119.20" width="26.60" height="26.30" fill="none" stroke="#111" stroke-width="0.8"/>
<text x="352.90" y="153.92" font-size="8.1" text-anchor="middle" fill="#ff2020" stroke="#ff2020" stroke-width="0.2" style="" >15.3%</text>
<text x="353.30" y="160.82" font-size="8.1" text-anchor="middle" fill="#ff2020" stroke="#ff2020" stroke-width="0.2" style="" >CD34<tspan font-size="4.62" dy="-2.75">-</tspan><tspan dy="2.75">LSK</tspan></text>
<path d="M326.00,159.80 L326.00,178.30 L343.80,178.30" fill="none" stroke="#333" stroke-width="0.8"/>
<path d="M324.30,160.90 L326.00,158.10 L327.70,160.90Z" fill="#333"/>
<path d="M342.70,176.60 L345.50,178.30 L342.70,180.00Z" fill="#333"/>
<text transform="translate(327.53,145.50) rotate(-90)" font-size="9.8" text-anchor="middle" fill="#000" stroke="#000" stroke-width="0.2" style="">SSC</text>
<text x="348.20" y="181.83" font-size="9.8" text-anchor="start" fill="#000" stroke="#000" stroke-width="0.2" style="" >CD34</text>
<line x1="394.80" y1="117.34" x2="396.10" y2="117.34" stroke="#333" stroke-width="0.5" />
<line x1="394.80" y1="124.29" x2="396.10" y2="124.29" stroke="#333" stroke-width="0.5" />
<line x1="394.80" y1="131.23" x2="396.10" y2="131.23" stroke="#333" stroke-width="0.5" />
<line x1="394.80" y1="138.18" x2="396.10" y2="138.18" stroke="#333" stroke-width="0.5" />
<line x1="394.80" y1="145.12" x2="396.10" y2="145.12" stroke="#333" stroke-width="0.5" />
<line x1="394.80" y1="152.07" x2="396.10" y2="152.07" stroke="#333" stroke-width="0.5" />
<line x1="394.80" y1="159.01" x2="396.10" y2="159.01" stroke="#333" stroke-width="0.5" />
<line x1="394.80" y1="165.96" x2="396.10" y2="165.96" stroke="#333" stroke-width="0.5" />
<line x1="401.31" y1="172.90" x2="401.31" y2="174.20" stroke="#333" stroke-width="0.5" />
<line x1="406.52" y1="172.90" x2="406.52" y2="174.20" stroke="#333" stroke-width="0.5" />
<line x1="411.73" y1="172.90" x2="411.73" y2="174.20" stroke="#333" stroke-width="0.5" />
<line x1="416.93" y1="172.90" x2="416.93" y2="174.20" stroke="#333" stroke-width="0.5" />
<line x1="422.14" y1="172.90" x2="422.14" y2="174.20" stroke="#333" stroke-width="0.5" />
<line x1="427.35" y1="172.90" x2="427.35" y2="174.20" stroke="#333" stroke-width="0.5" />
<line x1="432.56" y1="172.90" x2="432.56" y2="174.20" stroke="#333" stroke-width="0.5" />
<line x1="437.77" y1="172.90" x2="437.77" y2="174.20" stroke="#333" stroke-width="0.5" />
<line x1="442.98" y1="172.90" x2="442.98" y2="174.20" stroke="#333" stroke-width="0.5" />
<line x1="448.18" y1="172.90" x2="448.18" y2="174.20" stroke="#333" stroke-width="0.5" />
<line x1="453.39" y1="172.90" x2="453.39" y2="174.20" stroke="#333" stroke-width="0.5" />
<rect x="396.10" y="110.40" width="62.50" height="62.50" fill="none" stroke="#111" stroke-width="0.9"/>
<clipPath id="cb12"><path d="M414.00,130.50 C413.75,129.75 415.33,129.00 416.50,128.50 C417.67,128.00 419.75,127.50 421.00,127.50 C422.25,127.50 423.67,127.83 424.00,128.50 C424.33,129.17 424.00,130.75 423.00,131.50 C422.00,132.25 419.50,133.17 418.00,133.00 C416.50,132.83 414.25,131.25 414.00,130.50Z"/></clipPath>
<path d="M414.00,130.50 C413.75,129.75 415.33,129.00 416.50,128.50 C417.67,128.00 419.75,127.50 421.00,127.50 C422.25,127.50 423.67,127.83 424.00,128.50 C424.33,129.17 424.00,130.75 423.00,131.50 C422.00,132.25 419.50,133.17 418.00,133.00 C416.50,132.83 414.25,131.25 414.00,130.50Z" fill="#999" stroke="#000" stroke-width="0.45"/>
<g clip-path="url(#cb12)"><path d="M414.00,130.50 C413.75,129.75 415.33,129.00 416.50,128.50 C417.67,128.00 419.75,127.50 421.00,127.50 C422.25,127.50 423.67,127.83 424.00,128.50 C424.33,129.17 424.00,130.75 423.00,131.50 C422.00,132.25 419.50,133.17 418.00,133.00 C416.50,132.83 414.25,131.25 414.00,130.50Z" fill="#d8d8d8" filter="url(#ins0p6_0p7)"/>
<ellipse cx="419.00" cy="130.50" rx="3.00" ry="1.20" transform="rotate(0 419.00 130.50)" fill="none" stroke="#000" stroke-width="0.6"/>
</g>
<clipPath id="cb13"><path d="M425.00,130.50 C425.33,129.42 426.67,127.88 428.00,127.00 C429.33,126.12 431.25,125.57 433.00,125.20 C434.75,124.83 437.08,124.50 438.50,124.80 C439.92,125.10 441.17,125.97 441.50,127.00 C441.83,128.03 441.42,129.80 440.50,131.00 C439.58,132.20 437.75,133.57 436.00,134.20 C434.25,134.83 431.67,134.92 430.00,134.80 C428.33,134.68 426.83,134.22 426.00,133.50 C425.17,132.78 424.67,131.58 425.00,130.50Z"/></clipPath>
<path d="M425.00,130.50 C425.33,129.42 426.67,127.88 428.00,127.00 C429.33,126.12 431.25,125.57 433.00,125.20 C434.75,124.83 437.08,124.50 438.50,124.80 C439.92,125.10 441.17,125.97 441.50,127.00 C441.83,128.03 441.42,129.80 440.50,131.00 C439.58,132.20 437.75,133.57 436.00,134.20 C434.25,134.83 431.67,134.92 430.00,134.80 C428.33,134.68 426.83,134.22 426.00,133.50 C425.17,132.78 424.67,131.58 425.00,130.50Z" fill="#222" stroke="#000" stroke-width="0.6"/>
<g clip-path="url(#cb13)"><path d="M425.00,130.50 C425.33,129.42 426.67,127.88 428.00,127.00 C429.33,126.12 431.25,125.57 433.00,125.20 C434.75,124.83 437.08,124.50 438.50,124.80 C439.92,125.10 441.17,125.97 441.50,127.00 C441.83,128.03 441.42,129.80 440.50,131.00 C439.58,132.20 437.75,133.57 436.00,134.20 C434.25,134.83 431.67,134.92 430.00,134.80 C428.33,134.68 426.83,134.22 426.00,133.50 C425.17,132.78 424.67,131.58 425.00,130.50Z" fill="#b4b4b4" filter="url(#ins1p0_1p1)"/>
<ellipse cx="433.50" cy="129.80" rx="5.00" ry="2.60" transform="rotate(-10 433.50 129.80)" fill="none" stroke="#000" stroke-width="0.6"/>
<ellipse cx="433.50" cy="129.80" rx="4.40" ry="2.00" transform="rotate(-10 433.50 129.80)" fill="none" stroke="#fff" stroke-width="0.5"/>
<ellipse cx="434.00" cy="129.80" rx="2.60" ry="1.30" transform="rotate(-10 434.00 129.80)" fill="none" stroke="#000" stroke-width="0.6"/>
<ellipse cx="434.00" cy="129.80" rx="2.00" ry="0.70" transform="rotate(-10 434.00 129.80)" fill="none" stroke="#fff" stroke-width="0.5"/>
</g>
<rect x="401.40" y="118.90" width="26.80" height="26.60" fill="none" stroke="#111" stroke-width="0.8"/>
<text x="419.50" y="154.22" font-size="8.1" text-anchor="middle" fill="#ff2020" stroke="#ff2020" stroke-width="0.2" style="" >10.2%</text>
<line x1="503.10" y1="117.41" x2="504.40" y2="117.41" stroke="#333" stroke-width="0.5" />
<line x1="503.10" y1="124.42" x2="504.40" y2="124.42" stroke="#333" stroke-width="0.5" />
<line x1="503.10" y1="131.43" x2="504.40" y2="131.43" stroke="#333" stroke-width="0.5" />
<line x1="503.10" y1="138.44" x2="504.40" y2="138.44" stroke="#333" stroke-width="0.5" />
<line x1="503.10" y1="145.46" x2="504.40" y2="145.46" stroke="#333" stroke-width="0.5" />
<line x1="503.10" y1="152.47" x2="504.40" y2="152.47" stroke="#333" stroke-width="0.5" />
<line x1="503.10" y1="159.48" x2="504.40" y2="159.48" stroke="#333" stroke-width="0.5" />
<line x1="503.10" y1="166.49" x2="504.40" y2="166.49" stroke="#333" stroke-width="0.5" />
<line x1="509.57" y1="173.50" x2="509.57" y2="174.80" stroke="#333" stroke-width="0.5" />
<line x1="514.75" y1="173.50" x2="514.75" y2="174.80" stroke="#333" stroke-width="0.5" />
<line x1="519.92" y1="173.50" x2="519.92" y2="174.80" stroke="#333" stroke-width="0.5" />
<line x1="525.10" y1="173.50" x2="525.10" y2="174.80" stroke="#333" stroke-width="0.5" />
<line x1="530.27" y1="173.50" x2="530.27" y2="174.80" stroke="#333" stroke-width="0.5" />
<line x1="535.45" y1="173.50" x2="535.45" y2="174.80" stroke="#333" stroke-width="0.5" />
<line x1="540.62" y1="173.50" x2="540.62" y2="174.80" stroke="#333" stroke-width="0.5" />
<line x1="545.80" y1="173.50" x2="545.80" y2="174.80" stroke="#333" stroke-width="0.5" />
<line x1="550.98" y1="173.50" x2="550.98" y2="174.80" stroke="#333" stroke-width="0.5" />
<line x1="556.15" y1="173.50" x2="556.15" y2="174.80" stroke="#333" stroke-width="0.5" />
<line x1="561.33" y1="173.50" x2="561.33" y2="174.80" stroke="#333" stroke-width="0.5" />
<rect x="504.40" y="110.40" width="62.10" height="63.10" fill="none" stroke="#111" stroke-width="0.9"/>
<clipPath id="cb14"><path d="M520.00,125.00 C520.50,123.50 521.33,121.25 523.00,120.00 C524.67,118.75 527.67,118.08 530.00,117.50 C532.33,116.92 534.50,116.58 537.00,116.50 C539.50,116.42 542.67,116.42 545.00,117.00 C547.33,117.58 549.67,118.50 551.00,120.00 C552.33,121.50 553.17,124.00 553.00,126.00 C552.83,128.00 550.83,130.00 550.00,132.00 C549.17,134.00 548.50,135.83 548.00,138.00 C547.50,140.17 547.67,143.00 547.00,145.00 C546.33,147.00 545.00,148.50 544.00,150.00 C543.00,151.50 541.83,152.33 541.00,154.00 C540.17,155.67 539.58,160.00 539.00,160.00 C538.42,160.00 538.00,156.17 537.50,154.00 C537.00,151.83 536.75,149.17 536.00,147.00 C535.25,144.83 534.17,142.67 533.00,141.00 C531.83,139.33 530.50,138.33 529.00,137.00 C527.50,135.67 525.50,134.33 524.00,133.00 C522.50,131.67 520.67,130.33 520.00,129.00 C519.33,127.67 519.50,126.50 520.00,125.00Z"/></clipPath>
<path d="M520.00,125.00 C520.50,123.50 521.33,121.25 523.00,120.00 C524.67,118.75 527.67,118.08 530.00,117.50 C532.33,116.92 534.50,116.58 537.00,116.50 C539.50,116.42 542.67,116.42 545.00,117.00 C547.33,117.58 549.67,118.50 551.00,120.00 C552.33,121.50 553.17,124.00 553.00,126.00 C552.83,128.00 550.83,130.00 550.00,132.00 C549.17,134.00 548.50,135.83 548.00,138.00 C547.50,140.17 547.67,143.00 547.00,145.00 C546.33,147.00 545.00,148.50 544.00,150.00 C543.00,151.50 541.83,152.33 541.00,154.00 C540.17,155.67 539.58,160.00 539.00,160.00 C538.42,160.00 538.00,156.17 537.50,154.00 C537.00,151.83 536.75,149.17 536.00,147.00 C535.25,144.83 534.17,142.67 533.00,141.00 C531.83,139.33 530.50,138.33 529.00,137.00 C527.50,135.67 525.50,134.33 524.00,133.00 C522.50,131.67 520.67,130.33 520.00,129.00 C519.33,127.67 519.50,126.50 520.00,125.00Z" fill="#2a2a2a" stroke="#000" stroke-width="0.6"/>
<g clip-path="url(#cb14)"><path d="M520.00,125.00 C520.50,123.50 521.33,121.25 523.00,120.00 C524.67,118.75 527.67,118.08 530.00,117.50 C532.33,116.92 534.50,116.58 537.00,116.50 C539.50,116.42 542.67,116.42 545.00,117.00 C547.33,117.58 549.67,118.50 551.00,120.00 C552.33,121.50 553.17,124.00 553.00,126.00 C552.83,128.00 550.83,130.00 550.00,132.00 C549.17,134.00 548.50,135.83 548.00,138.00 C547.50,140.17 547.67,143.00 547.00,145.00 C546.33,147.00 545.00,148.50 544.00,150.00 C543.00,151.50 541.83,152.33 541.00,154.00 C540.17,155.67 539.58,160.00 539.00,160.00 C538.42,160.00 538.00,156.17 537.50,154.00 C537.00,151.83 536.75,149.17 536.00,147.00 C535.25,144.83 534.17,142.67 533.00,141.00 C531.83,139.33 530.50,138.33 529.00,137.00 C527.50,135.67 525.50,134.33 524.00,133.00 C522.50,131.67 520.67,130.33 520.00,129.00 C519.33,127.67 519.50,126.50 520.00,125.00Z" fill="#a8a8a8" filter="url(#ins1p1_1p2)"/>
<ellipse cx="542.00" cy="126.00" rx="2.20" ry="1.80" transform="rotate(0 542.00 126.00)" fill="#333" stroke="#000" stroke-width="0.6"/>
<ellipse cx="542.00" cy="126.00" rx="1.60" ry="1.20" transform="rotate(0 542.00 126.00)" fill="none" stroke="#fff" stroke-width="0.5"/>
<path d="M520.00,125.00 C520.50,123.50 521.33,121.25 523.00,120.00 C524.67,118.75 527.67,118.08 530.00,117.50 C532.33,116.92 534.50,116.58 537.00,116.50 C539.50,116.42 542.67,116.42 545.00,117.00 C547.33,117.58 549.67,118.50 551.00,120.00 C552.33,121.50 553.17,124.00 553.00,126.00 C552.83,128.00 550.83,130.00 550.00,132.00 C549.17,134.00 548.50,135.83 548.00,138.00 C547.50,140.17 547.67,143.00 547.00,145.00 C546.33,147.00 545.00,148.50 544.00,150.00 C543.00,151.50 541.83,152.33 541.00,154.00 C540.17,155.67 539.58,160.00 539.00,160.00 C538.42,160.00 538.00,156.17 537.50,154.00 C537.00,151.83 536.75,149.17 536.00,147.00 C535.25,144.83 534.17,142.67 533.00,141.00 C531.83,139.33 530.50,138.33 529.00,137.00 C527.50,135.67 525.50,134.33 524.00,133.00 C522.50,131.67 520.67,130.33 520.00,129.00 C519.33,127.67 519.50,126.50 520.00,125.00Z" transform="translate(540.00,127.00) scale(0.8) translate(-540.00,-127.00)" fill="none" stroke="#000" stroke-width="0.6" vector-effect="non-scaling-stroke"/>
<path d="M520.00,125.00 C520.50,123.50 521.33,121.25 523.00,120.00 C524.67,118.75 527.67,118.08 530.00,117.50 C532.33,116.92 534.50,116.58 537.00,116.50 C539.50,116.42 542.67,116.42 545.00,117.00 C547.33,117.58 549.67,118.50 551.00,120.00 C552.33,121.50 553.17,124.00 553.00,126.00 C552.83,128.00 550.83,130.00 550.00,132.00 C549.17,134.00 548.50,135.83 548.00,138.00 C547.50,140.17 547.67,143.00 547.00,145.00 C546.33,147.00 545.00,148.50 544.00,150.00 C543.00,151.50 541.83,152.33 541.00,154.00 C540.17,155.67 539.58,160.00 539.00,160.00 C538.42,160.00 538.00,156.17 537.50,154.00 C537.00,151.83 536.75,149.17 536.00,147.00 C535.25,144.83 534.17,142.67 533.00,141.00 C531.83,139.33 530.50,138.33 529.00,137.00 C527.50,135.67 525.50,134.33 524.00,133.00 C522.50,131.67 520.67,130.33 520.00,129.00 C519.33,127.67 519.50,126.50 520.00,125.00Z" transform="translate(540.00,127.00) scale(0.740) translate(-540.00,-127.00)" fill="none" stroke="#fff" stroke-width="0.5" vector-effect="non-scaling-stroke"/>
<path d="M520.00,125.00 C520.50,123.50 521.33,121.25 523.00,120.00 C524.67,118.75 527.67,118.08 530.00,117.50 C532.33,116.92 534.50,116.58 537.00,116.50 C539.50,116.42 542.67,116.42 545.00,117.00 C547.33,117.58 549.67,118.50 551.00,120.00 C552.33,121.50 553.17,124.00 553.00,126.00 C552.83,128.00 550.83,130.00 550.00,132.00 C549.17,134.00 548.50,135.83 548.00,138.00 C547.50,140.17 547.67,143.00 547.00,145.00 C546.33,147.00 545.00,148.50 544.00,150.00 C543.00,151.50 541.83,152.33 541.00,154.00 C540.17,155.67 539.58,160.00 539.00,160.00 C538.42,160.00 538.00,156.17 537.50,154.00 C537.00,151.83 536.75,149.17 536.00,147.00 C535.25,144.83 534.17,142.67 533.00,141.00 C531.83,139.33 530.50,138.33 529.00,137.00 C527.50,135.67 525.50,134.33 524.00,133.00 C522.50,131.67 520.67,130.33 520.00,129.00 C519.33,127.67 519.50,126.50 520.00,125.00Z" transform="translate(540.00,127.00) scale(0.6) translate(-540.00,-127.00)" fill="none" stroke="#000" stroke-width="0.6" vector-effect="non-scaling-stroke"/>
<path d="M520.00,125.00 C520.50,123.50 521.33,121.25 523.00,120.00 C524.67,118.75 527.67,118.08 530.00,117.50 C532.33,116.92 534.50,116.58 537.00,116.50 C539.50,116.42 542.67,116.42 545.00,117.00 C547.33,117.58 549.67,118.50 551.00,120.00 C552.33,121.50 553.17,124.00 553.00,126.00 C552.83,128.00 550.83,130.00 550.00,132.00 C549.17,134.00 548.50,135.83 548.00,138.00 C547.50,140.17 547.67,143.00 547.00,145.00 C546.33,147.00 545.00,148.50 544.00,150.00 C543.00,151.50 541.83,152.33 541.00,154.00 C540.17,155.67 539.58,160.00 539.00,160.00 C538.42,160.00 538.00,156.17 537.50,154.00 C537.00,151.83 536.75,149.17 536.00,147.00 C535.25,144.83 534.17,142.67 533.00,141.00 C531.83,139.33 530.50,138.33 529.00,137.00 C527.50,135.67 525.50,134.33 524.00,133.00 C522.50,131.67 520.67,130.33 520.00,129.00 C519.33,127.67 519.50,126.50 520.00,125.00Z" transform="translate(540.00,127.00) scale(0.540) translate(-540.00,-127.00)" fill="none" stroke="#fff" stroke-width="0.5" vector-effect="non-scaling-stroke"/>
<path d="M520.00,125.00 C520.50,123.50 521.33,121.25 523.00,120.00 C524.67,118.75 527.67,118.08 530.00,117.50 C532.33,116.92 534.50,116.58 537.00,116.50 C539.50,116.42 542.67,116.42 545.00,117.00 C547.33,117.58 549.67,118.50 551.00,120.00 C552.33,121.50 553.17,124.00 553.00,126.00 C552.83,128.00 550.83,130.00 550.00,132.00 C549.17,134.00 548.50,135.83 548.00,138.00 C547.50,140.17 547.67,143.00 547.00,145.00 C546.33,147.00 545.00,148.50 544.00,150.00 C543.00,151.50 541.83,152.33 541.00,154.00 C540.17,155.67 539.58,160.00 539.00,160.00 C538.42,160.00 538.00,156.17 537.50,154.00 C537.00,151.83 536.75,149.17 536.00,147.00 C535.25,144.83 534.17,142.67 533.00,141.00 C531.83,139.33 530.50,138.33 529.00,137.00 C527.50,135.67 525.50,134.33 524.00,133.00 C522.50,131.67 520.67,130.33 520.00,129.00 C519.33,127.67 519.50,126.50 520.00,125.00Z" transform="translate(540.00,127.00) scale(0.4) translate(-540.00,-127.00)" fill="none" stroke="#000" stroke-width="0.6" vector-effect="non-scaling-stroke"/>
<path d="M520.00,125.00 C520.50,123.50 521.33,121.25 523.00,120.00 C524.67,118.75 527.67,118.08 530.00,117.50 C532.33,116.92 534.50,116.58 537.00,116.50 C539.50,116.42 542.67,116.42 545.00,117.00 C547.33,117.58 549.67,118.50 551.00,120.00 C552.33,121.50 553.17,124.00 553.00,126.00 C552.83,128.00 550.83,130.00 550.00,132.00 C549.17,134.00 548.50,135.83 548.00,138.00 C547.50,140.17 547.67,143.00 547.00,145.00 C546.33,147.00 545.00,148.50 544.00,150.00 C543.00,151.50 541.83,152.33 541.00,154.00 C540.17,155.67 539.58,160.00 539.00,160.00 C538.42,160.00 538.00,156.17 537.50,154.00 C537.00,151.83 536.75,149.17 536.00,147.00 C535.25,144.83 534.17,142.67 533.00,141.00 C531.83,139.33 530.50,138.33 529.00,137.00 C527.50,135.67 525.50,134.33 524.00,133.00 C522.50,131.67 520.67,130.33 520.00,129.00 C519.33,127.67 519.50,126.50 520.00,125.00Z" transform="translate(540.00,127.00) scale(0.340) translate(-540.00,-127.00)" fill="none" stroke="#fff" stroke-width="0.5" vector-effect="non-scaling-stroke"/>
</g>
<circle cx="528.00" cy="143.50" r="1.00" fill="#000"/>
<circle cx="534.30" cy="149.70" r="1.20" fill="#000"/>
<ellipse cx="541.5" cy="169.5" rx="1.3" ry="1.3" fill="none" stroke="#555" stroke-width="0.5"/>
<line x1="538.30" y1="110.40" x2="538.30" y2="173.50" stroke="#000" stroke-width="0.9" />
<line x1="504.40" y1="136.40" x2="566.50" y2="136.40" stroke="#000" stroke-width="0.9" />
<text x="521.50" y="121.82" font-size="8.1" text-anchor="middle" fill="#ff2020" stroke="#ff2020" stroke-width="0.2" style="" >ST-HSCs</text>
<text x="525.20" y="129.42" font-size="8.1" text-anchor="middle" fill="#ff2020" stroke="#ff2020" stroke-width="0.2" style="" >23.7%</text>
<text x="552.20" y="121.82" font-size="8.1" text-anchor="middle" fill="#ff2020" stroke="#ff2020" stroke-width="0.2" style="" >MPP</text>
<text x="552.50" y="129.42" font-size="8.1" text-anchor="middle" fill="#ff2020" stroke="#ff2020" stroke-width="0.2" style="" >50.3%</text>
<text x="521.50" y="159.32" font-size="8.1" text-anchor="middle" fill="#ff2020" stroke="#ff2020" stroke-width="0.2" style="" >LT-HSCs</text>
<text x="526.60" y="167.12" font-size="8.1" text-anchor="middle" fill="#ff2020" stroke="#ff2020" stroke-width="0.2" style="" >10.2%</text>
<path d="M498.40,160.10 L498.40,179.00 L516.80,179.00" fill="none" stroke="#333" stroke-width="0.8"/>
<path d="M496.70,161.20 L498.40,158.40 L500.10,161.20Z" fill="#333"/>
<path d="M515.70,177.30 L518.50,179.00 L515.70,180.70Z" fill="#333"/>
<text transform="translate(500.23,143.30) rotate(-90)" font-size="9.8" text-anchor="middle" fill="#000" stroke="#000" stroke-width="0.2" style="">CD34</text>
<text x="520.80" y="181.83" font-size="9.8" text-anchor="start" fill="#000" stroke="#000" stroke-width="0.2" style="" >CD135</text>
<line x1="568.10" y1="117.23" x2="569.40" y2="117.23" stroke="#333" stroke-width="0.5" />
<line x1="568.10" y1="124.27" x2="569.40" y2="124.27" stroke="#333" stroke-width="0.5" />
<line x1="568.10" y1="131.30" x2="569.40" y2="131.30" stroke="#333" stroke-width="0.5" />
<line x1="568.10" y1="138.33" x2="569.40" y2="138.33" stroke="#333" stroke-width="0.5" />
<line x1="568.10" y1="145.37" x2="569.40" y2="145.37" stroke="#333" stroke-width="0.5" />
<line x1="568.10" y1="152.40" x2="569.40" y2="152.40" stroke="#333" stroke-width="0.5" />
<line x1="568.10" y1="159.43" x2="569.40" y2="159.43" stroke="#333" stroke-width="0.5" />
<line x1="568.10" y1="166.47" x2="569.40" y2="166.47" stroke="#333" stroke-width="0.5" />
<line x1="574.68" y1="173.50" x2="574.68" y2="174.80" stroke="#333" stroke-width="0.5" />
<line x1="579.97" y1="173.50" x2="579.97" y2="174.80" stroke="#333" stroke-width="0.5" />
<line x1="585.25" y1="173.50" x2="585.25" y2="174.80" stroke="#333" stroke-width="0.5" />
<line x1="590.53" y1="173.50" x2="590.53" y2="174.80" stroke="#333" stroke-width="0.5" />
<line x1="595.82" y1="173.50" x2="595.82" y2="174.80" stroke="#333" stroke-width="0.5" />
<line x1="601.10" y1="173.50" x2="601.10" y2="174.80" stroke="#333" stroke-width="0.5" />
<line x1="606.38" y1="173.50" x2="606.38" y2="174.80" stroke="#333" stroke-width="0.5" />
<line x1="611.67" y1="173.50" x2="611.67" y2="174.80" stroke="#333" stroke-width="0.5" />
<line x1="616.95" y1="173.50" x2="616.95" y2="174.80" stroke="#333" stroke-width="0.5" />
<line x1="622.23" y1="173.50" x2="622.23" y2="174.80" stroke="#333" stroke-width="0.5" />
<line x1="627.52" y1="173.50" x2="627.52" y2="174.80" stroke="#333" stroke-width="0.5" />
<rect x="569.40" y="110.20" width="63.40" height="63.30" fill="none" stroke="#111" stroke-width="0.9"/>
<clipPath id="cb15"><path d="M593.00,125.00 C593.92,123.42 595.33,121.67 597.00,120.50 C598.67,119.33 600.83,118.50 603.00,118.00 C605.17,117.50 607.83,117.33 610.00,117.50 C612.17,117.67 614.42,118.08 616.00,119.00 C617.58,119.92 619.00,121.33 619.50,123.00 C620.00,124.67 619.75,127.17 619.00,129.00 C618.25,130.83 616.50,132.67 615.00,134.00 C613.50,135.33 611.17,135.67 610.00,137.00 C608.83,138.33 608.50,140.17 608.00,142.00 C607.50,143.83 607.42,146.17 607.00,148.00 C606.58,149.83 606.00,152.83 605.50,153.00 C605.00,153.17 604.50,150.83 604.00,149.00 C603.50,147.17 603.33,143.83 602.50,142.00 C601.67,140.17 600.42,139.33 599.00,138.00 C597.58,136.67 595.25,135.33 594.00,134.00 C592.75,132.67 591.67,131.50 591.50,130.00 C591.33,128.50 592.08,126.58 593.00,125.00Z"/></clipPath>
<path d="M593.00,125.00 C593.92,123.42 595.33,121.67 597.00,120.50 C598.67,119.33 600.83,118.50 603.00,118.00 C605.17,117.50 607.83,117.33 610.00,117.50 C612.17,117.67 614.42,118.08 616.00,119.00 C617.58,119.92 619.00,121.33 619.50,123.00 C620.00,124.67 619.75,127.17 619.00,129.00 C618.25,130.83 616.50,132.67 615.00,134.00 C613.50,135.33 611.17,135.67 610.00,137.00 C608.83,138.33 608.50,140.17 608.00,142.00 C607.50,143.83 607.42,146.17 607.00,148.00 C606.58,149.83 606.00,152.83 605.50,153.00 C605.00,153.17 604.50,150.83 604.00,149.00 C603.50,147.17 603.33,143.83 602.50,142.00 C601.67,140.17 600.42,139.33 599.00,138.00 C597.58,136.67 595.25,135.33 594.00,134.00 C592.75,132.67 591.67,131.50 591.50,130.00 C591.33,128.50 592.08,126.58 593.00,125.00Z" fill="#333" stroke="#000" stroke-width="0.55"/>
<g clip-path="url(#cb15)"><path d="M593.00,125.00 C593.92,123.42 595.33,121.67 597.00,120.50 C598.67,119.33 600.83,118.50 603.00,118.00 C605.17,117.50 607.83,117.33 610.00,117.50 C612.17,117.67 614.42,118.08 616.00,119.00 C617.58,119.92 619.00,121.33 619.50,123.00 C620.00,124.67 619.75,127.17 619.00,129.00 C618.25,130.83 616.50,132.67 615.00,134.00 C613.50,135.33 611.17,135.67 610.00,137.00 C608.83,138.33 608.50,140.17 608.00,142.00 C607.50,143.83 607.42,146.17 607.00,148.00 C606.58,149.83 606.00,152.83 605.50,153.00 C605.00,153.17 604.50,150.83 604.00,149.00 C603.50,147.17 603.33,143.83 602.50,142.00 C601.67,140.17 600.42,139.33 599.00,138.00 C597.58,136.67 595.25,135.33 594.00,134.00 C592.75,132.67 591.67,131.50 591.50,130.00 C591.33,128.50 592.08,126.58 593.00,125.00Z" fill="#ababab" filter="url(#ins1p1_1p2)"/>
<ellipse cx="606.50" cy="127.50" rx="2.00" ry="1.80" transform="rotate(0 606.50 127.50)" fill="none" stroke="#000" stroke-width="0.6"/>
<ellipse cx="606.50" cy="127.50" rx="1.40" ry="1.20" transform="rotate(0 606.50 127.50)" fill="none" stroke="#fff" stroke-width="0.5"/>
<path d="M593.00,125.00 C593.92,123.42 595.33,121.67 597.00,120.50 C598.67,119.33 600.83,118.50 603.00,118.00 C605.17,117.50 607.83,117.33 610.00,117.50 C612.17,117.67 614.42,118.08 616.00,119.00 C617.58,119.92 619.00,121.33 619.50,123.00 C620.00,124.67 619.75,127.17 619.00,129.00 C618.25,130.83 616.50,132.67 615.00,134.00 C613.50,135.33 611.17,135.67 610.00,137.00 C608.83,138.33 608.50,140.17 608.00,142.00 C607.50,143.83 607.42,146.17 607.00,148.00 C606.58,149.83 606.00,152.83 605.50,153.00 C605.00,153.17 604.50,150.83 604.00,149.00 C603.50,147.17 603.33,143.83 602.50,142.00 C601.67,140.17 600.42,139.33 599.00,138.00 C597.58,136.67 595.25,135.33 594.00,134.00 C592.75,132.67 591.67,131.50 591.50,130.00 C591.33,128.50 592.08,126.58 593.00,125.00Z" transform="translate(606.00,127.00) scale(0.75) translate(-606.00,-127.00)" fill="none" stroke="#000" stroke-width="0.6" vector-effect="non-scaling-stroke"/>
<path d="M593.00,125.00 C593.92,123.42 595.33,121.67 597.00,120.50 C598.67,119.33 600.83,118.50 603.00,118.00 C605.17,117.50 607.83,117.33 610.00,117.50 C612.17,117.67 614.42,118.08 616.00,119.00 C617.58,119.92 619.00,121.33 619.50,123.00 C620.00,124.67 619.75,127.17 619.00,129.00 C618.25,130.83 616.50,132.67 615.00,134.00 C613.50,135.33 611.17,135.67 610.00,137.00 C608.83,138.33 608.50,140.17 608.00,142.00 C607.50,143.83 607.42,146.17 607.00,148.00 C606.58,149.83 606.00,152.83 605.50,153.00 C605.00,153.17 604.50,150.83 604.00,149.00 C603.50,147.17 603.33,143.83 602.50,142.00 C601.67,140.17 600.42,139.33 599.00,138.00 C597.58,136.67 595.25,135.33 594.00,134.00 C592.75,132.67 591.67,131.50 591.50,130.00 C591.33,128.50 592.08,126.58 593.00,125.00Z" transform="translate(606.00,127.00) scale(0.690) translate(-606.00,-127.00)" fill="none" stroke="#fff" stroke-width="0.5" vector-effect="non-scaling-stroke"/>
<path d="M593.00,125.00 C593.92,123.42 595.33,121.67 597.00,120.50 C598.67,119.33 600.83,118.50 603.00,118.00 C605.17,117.50 607.83,117.33 610.00,117.50 C612.17,117.67 614.42,118.08 616.00,119.00 C617.58,119.92 619.00,121.33 619.50,123.00 C620.00,124.67 619.75,127.17 619.00,129.00 C618.25,130.83 616.50,132.67 615.00,134.00 C613.50,135.33 611.17,135.67 610.00,137.00 C608.83,138.33 608.50,140.17 608.00,142.00 C607.50,143.83 607.42,146.17 607.00,148.00 C606.58,149.83 606.00,152.83 605.50,153.00 C605.00,153.17 604.50,150.83 604.00,149.00 C603.50,147.17 603.33,143.83 602.50,142.00 C601.67,140.17 600.42,139.33 599.00,138.00 C597.58,136.67 595.25,135.33 594.00,134.00 C592.75,132.67 591.67,131.50 591.50,130.00 C591.33,128.50 592.08,126.58 593.00,125.00Z" transform="translate(606.00,127.00) scale(0.5) translate(-606.00,-127.00)" fill="none" stroke="#000" stroke-width="0.6" vector-effect="non-scaling-stroke"/>
<path d="M593.00,125.00 C593.92,123.42 595.33,121.67 597.00,120.50 C598.67,119.33 600.83,118.50 603.00,118.00 C605.17,117.50 607.83,117.33 610.00,117.50 C612.17,117.67 614.42,118.08 616.00,119.00 C617.58,119.92 619.00,121.33 619.50,123.00 C620.00,124.67 619.75,127.17 619.00,129.00 C618.25,130.83 616.50,132.67 615.00,134.00 C613.50,135.33 611.17,135.67 610.00,137.00 C608.83,138.33 608.50,140.17 608.00,142.00 C607.50,143.83 607.42,146.17 607.00,148.00 C606.58,149.83 606.00,152.83 605.50,153.00 C605.00,153.17 604.50,150.83 604.00,149.00 C603.50,147.17 603.33,143.83 602.50,142.00 C601.67,140.17 600.42,139.33 599.00,138.00 C597.58,136.67 595.25,135.33 594.00,134.00 C592.75,132.67 591.67,131.50 591.50,130.00 C591.33,128.50 592.08,126.58 593.00,125.00Z" transform="translate(606.00,127.00) scale(0.440) translate(-606.00,-127.00)" fill="none" stroke="#fff" stroke-width="0.5" vector-effect="non-scaling-stroke"/>
</g>
<ellipse cx="579.6" cy="129.0" rx="2.2" ry="1.0" fill="#aaa" stroke="#333" stroke-width="0.4"/>
<ellipse cx="588.3" cy="133.0" rx="3.6" ry="1.6" fill="#999" stroke="#333" stroke-width="0.4"/>
<ellipse cx="598.2" cy="147.5" rx="1.6" ry="2.4" fill="#bbb" stroke="#333" stroke-width="0.4"/>
<ellipse cx="595.2" cy="154.5" rx="2.0" ry="1.3" fill="#bbb" stroke="#333" stroke-width="0.4"/>
<path d="M600.2,164 L601.6,167.5 L599.6,167.6Z" fill="#000"/>
<line x1="604.30" y1="110.20" x2="604.30" y2="173.50" stroke="#000" stroke-width="0.9" />
<line x1="569.40" y1="136.40" x2="632.80" y2="136.40" stroke="#000" stroke-width="0.9" />
<text x="590.20" y="122.52" font-size="8.1" text-anchor="middle" fill="#ff2020" stroke="#ff2020" stroke-width="0.2" style="" >21.6%</text>
<text x="619.60" y="122.52" font-size="8.1" text-anchor="middle" fill="#ff2020" stroke="#ff2020" stroke-width="0.2" style="" >46.8%</text>
<text x="586.80" y="167.12" font-size="8.1" text-anchor="middle" fill="#ff2020" stroke="#ff2020" stroke-width="0.2" style="" >8.9%</text>
<text x="502.00" y="204.04" font-size="14.3" style="font-weight:bold">G</text>
<line x1="518.40" y1="200.80" x2="670.70" y2="200.80" stroke="#000" stroke-width="1.1" />
<line x1="518.40" y1="213.00" x2="670.70" y2="213.00" stroke="#000" stroke-width="0.9" />
<line x1="519.80" y1="299.40" x2="670.70" y2="299.40" stroke="#000" stroke-width="0.9" />
<text x="521.00" y="210.25" font-size="8.2" text-anchor="start" fill="#000" stroke="#000" stroke-width="0.2" style="font-weight:bold;" >Dose</text>
<text x="588.70" y="210.25" font-size="8.2" text-anchor="middle" fill="#000" stroke="#000" stroke-width="0.2" style="font-weight:bold;" >Positive/tested mice</text>
<text x="649.80" y="210.25" font-size="8.2" text-anchor="middle" fill="#000" stroke="#000" stroke-width="0.2" style="font-weight:bold;" >Group</text>
<text x="521.00" y="222.45" font-size="8.2" text-anchor="start" fill="#111" stroke="#111" stroke-width="0.2" style="" >5×10<tspan font-size="4.67" dy="-2.79">3</tspan><tspan dy="2.79"></tspan></text>
<text x="587.20" y="222.45" font-size="8.2" text-anchor="middle" fill="#111" stroke="#111" stroke-width="0.2" style="" >3/5</text>
<text x="648.50" y="222.45" font-size="8.2" text-anchor="middle" fill="#111" stroke="#111" stroke-width="0.2" style="font-style:italic;" >Emp1<tspan font-size="4.67" dy="-2.79">fl/fl</tspan><tspan dy="2.79"></tspan></text>
<text x="521.00" y="233.05" font-size="8.2" text-anchor="start" fill="#111" stroke="#111" stroke-width="0.2" style="" >1×10<tspan font-size="4.67" dy="-2.79">4</tspan><tspan dy="2.79"></tspan></text>
<text x="587.20" y="233.05" font-size="8.2" text-anchor="middle" fill="#111" stroke="#111" stroke-width="0.2" style="" >4/5</text>
<text x="648.50" y="233.05" font-size="8.2" text-anchor="middle" fill="#111" stroke="#111" stroke-width="0.2" style="font-style:italic;" >Emp1<tspan font-size="4.67" dy="-2.79">fl/fl</tspan><tspan dy="2.79"></tspan></text>
<text x="521.00" y="243.65" font-size="8.2" text-anchor="start" fill="#111" stroke="#111" stroke-width="0.2" style="" >5×10<tspan font-size="4.67" dy="-2.79">4</tspan><tspan dy="2.79"></tspan></text>
<text x="587.20" y="243.65" font-size="8.2" text-anchor="middle" fill="#111" stroke="#111" stroke-width="0.2" style="" >5/5</text>
<text x="648.50" y="243.65" font-size="8.2" text-anchor="middle" fill="#111" stroke="#111" stroke-width="0.2" style="font-style:italic;" >Emp1<tspan font-size="4.67" dy="-2.79">fl/fl</tspan><tspan dy="2.79"></tspan></text>
<text x="521.00" y="254.25" font-size="8.2" text-anchor="start" fill="#111" stroke="#111" stroke-width="0.2" style="" >1×10<tspan font-size="4.67" dy="-2.79">5</tspan><tspan dy="2.79"></tspan></text>
<text x="587.20" y="254.25" font-size="8.2" text-anchor="middle" fill="#111" stroke="#111" stroke-width="0.2" style="" >5/5</text>
<text x="648.50" y="254.25" font-size="8.2" text-anchor="middle" fill="#111" stroke="#111" stroke-width="0.2" style="font-style:italic;" >Emp1<tspan font-size="4.67" dy="-2.79">fl/fl</tspan><tspan dy="2.79"></tspan></text>
<text x="521.00" y="264.85" font-size="8.2" text-anchor="start" fill="#111" stroke="#111" stroke-width="0.2" style="" >5×10<tspan font-size="4.67" dy="-2.79">3</tspan><tspan dy="2.79"></tspan></text>
<text x="587.20" y="264.85" font-size="8.2" text-anchor="middle" fill="#111" stroke="#111" stroke-width="0.2" style="" >1/5</text>
<text x="648.30" y="264.85" font-size="8.2" text-anchor="middle" fill="#111" stroke="#111" stroke-width="0.2" style="font-style:italic;" >Emp1-cKO</text>
<text x="521.00" y="275.45" font-size="8.2" text-anchor="start" fill="#111" stroke="#111" stroke-width="0.2" style="" >1×10<tspan font-size="4.67" dy="-2.79">4</tspan><tspan dy="2.79"></tspan></text>
<text x="587.20" y="275.45" font-size="8.2" text-anchor="middle" fill="#111" stroke="#111" stroke-width="0.2" style="" >2/5</text>
<text x="648.30" y="275.45" font-size="8.2" text-anchor="middle" fill="#111" stroke="#111" stroke-width="0.2" style="font-style:italic;" >Emp1-cKO</text>
<text x="521.00" y="286.05" font-size="8.2" text-anchor="start" fill="#111" stroke="#111" stroke-width="0.2" style="" >5×10<tspan font-size="4.67" dy="-2.79">4</tspan><tspan dy="2.79"></tspan></text>
<text x="587.20" y="286.05" font-size="8.2" text-anchor="middle" fill="#111" stroke="#111" stroke-width="0.2" style="" >2/5</text>
<text x="648.30" y="286.05" font-size="8.2" text-anchor="middle" fill="#111" stroke="#111" stroke-width="0.2" style="font-style:italic;" >Emp1-cKO</text>
<text x="521.00" y="296.65" font-size="8.2" text-anchor="start" fill="#111" stroke="#111" stroke-width="0.2" style="" >1×10<tspan font-size="4.67" dy="-2.79">5</tspan><tspan dy="2.79"></tspan></text>
<text x="587.20" y="296.65" font-size="8.2" text-anchor="middle" fill="#111" stroke="#111" stroke-width="0.2" style="" >5/5</text>
<text x="648.30" y="296.65" font-size="8.2" text-anchor="middle" fill="#111" stroke="#111" stroke-width="0.2" style="font-style:italic;" >Emp1-cKO</text>
<clipPath id="ldaclip"><rect x="544.8" y="307.5" width="125.70000000000005" height="112.60000000000002"/></clipPath>
<g clip-path="url(#ldaclip)">
<line x1="547.50" y1="308.80" x2="557.50" y2="420.10" stroke="#3030ff" stroke-width="1.0" />
<line x1="547.50" y1="308.80" x2="566.00" y2="420.10" stroke="#3030ff" stroke-width="1.0" />
<line x1="547.50" y1="308.80" x2="584.60" y2="420.10" stroke="#3030ff" stroke-width="1.0" />
<line x1="547.50" y1="308.80" x2="606.20" y2="420.10" stroke="#ff3030" stroke-width="1.0" />
<line x1="547.50" y1="308.80" x2="665.80" y2="420.10" stroke="#ff2020" stroke-width="1.35" />
<line x1="547.50" y1="308.80" x2="670.50" y2="368.90" stroke="#ff3030" stroke-width="1.0" />
</g>
<rect x="544.8" y="307.5" width="125.70" height="112.60" fill="none" stroke="#111" stroke-width="0.9"/>
<line x1="550.20" y1="420.10" x2="550.20" y2="422.60" stroke="#000" stroke-width="0.8" />
<text x="550.20" y="429.94" font-size="9.0" text-anchor="middle" fill="#222" stroke="#222" stroke-width="0.2" style="" >0</text>
<line x1="573.22" y1="420.10" x2="573.22" y2="422.60" stroke="#000" stroke-width="0.8" />
<text x="573.22" y="429.94" font-size="9.0" text-anchor="middle" fill="#222" stroke="#222" stroke-width="0.2" style="" >2</text>
<line x1="596.24" y1="420.10" x2="596.24" y2="422.60" stroke="#000" stroke-width="0.8" />
<text x="596.24" y="429.94" font-size="9.0" text-anchor="middle" fill="#222" stroke="#222" stroke-width="0.2" style="" >4</text>
<line x1="619.26" y1="420.10" x2="619.26" y2="422.60" stroke="#000" stroke-width="0.8" />
<text x="619.26" y="429.94" font-size="9.0" text-anchor="middle" fill="#222" stroke="#222" stroke-width="0.2" style="" >6</text>
<line x1="642.28" y1="420.10" x2="642.28" y2="422.60" stroke="#000" stroke-width="0.8" />
<text x="642.28" y="429.94" font-size="9.0" text-anchor="middle" fill="#222" stroke="#222" stroke-width="0.2" style="" >8</text>
<line x1="665.30" y1="420.10" x2="665.30" y2="422.60" stroke="#000" stroke-width="0.8" />
<text x="665.30" y="429.94" font-size="9.0" text-anchor="middle" fill="#222" stroke="#222" stroke-width="0.2" style="" >10</text>
<line x1="542.30" y1="311.60" x2="544.80" y2="311.60" stroke="#000" stroke-width="0.8" />
<text transform="translate(541.04,311.60) rotate(-90)" font-size="9.0" text-anchor="middle" fill="#222" stroke="#222" stroke-width="0.2" style="">0.0</text>
<line x1="542.30" y1="357.60" x2="544.80" y2="357.60" stroke="#000" stroke-width="0.8" />
<text transform="translate(541.04,357.60) rotate(-90)" font-size="9.0" text-anchor="middle" fill="#222" stroke="#222" stroke-width="0.2" style="">−1.0</text>
<line x1="542.30" y1="403.60" x2="544.80" y2="403.60" stroke="#000" stroke-width="0.8" />
<text transform="translate(541.04,403.60) rotate(-90)" font-size="9.0" text-anchor="middle" fill="#222" stroke="#222" stroke-width="0.2" style="">−2.0</text>
<line x1="543.30" y1="334.60" x2="544.80" y2="334.60" stroke="#000" stroke-width="0.6" />
<line x1="543.30" y1="380.60" x2="544.80" y2="380.60" stroke="#000" stroke-width="0.6" />
<text x="548.40" y="441.99" font-size="9.7" text-anchor="start" fill="#222" stroke="#222" stroke-width="0.2" style="" >Dose (×10<tspan font-size="5.53" dy="-3.30">4</tspan><tspan dy="3.30">, number of cells)</tspan></text>
<text transform="translate(528.25,362.20) rotate(-90)" font-size="9.85" text-anchor="middle" fill="#222" stroke="#222" stroke-width="0.2" style="">log fraction nonresponding</text>
<text x="609.60" y="317.45" font-size="9.85" text-anchor="start" fill="#2020ff" stroke="#2020ff" stroke-width="0.2" style="" >HSC:1/5852</text>
<text x="609.60" y="327.95" font-size="9.85" text-anchor="start" fill="#ff2020" stroke="#ff2020" stroke-width="0.2" style="" >HSC:1/40916</text>
<text x="620.60" y="339.85" font-size="9.85" text-anchor="start" fill="#111" stroke="#111" stroke-width="0.2" style="" ><tspan style="font-style:italic">P</tspan>=0.0005</text>
<line x1="610.00" y1="353.30" x2="620.60" y2="353.30" stroke="#4040ff" stroke-width="0.9" />
<line x1="610.00" y1="363.30" x2="620.60" y2="363.30" stroke="#ff4040" stroke-width="0.9" />
<text x="622.40" y="356.85" font-size="9.85" text-anchor="start" fill="#222" stroke="#222" stroke-width="0.2" style="font-style:italic;" >Emp1<tspan font-size="5.61" dy="-3.35">fl/fl</tspan><tspan dy="3.35"></tspan></text>
<text x="622.40" y="366.85" font-size="9.85" text-anchor="start" fill="#222" stroke="#222" stroke-width="0.2" style="font-style:italic;" >Emp1-cKO</text>
<circle cx="553.6" cy="354.6" r="1.6" fill="none" stroke="#3030ff" stroke-width="0.8"/>
<circle cx="561.8" cy="387.0" r="1.6" fill="none" stroke="#3030ff" stroke-width="0.8"/>
<circle cx="554.1" cy="322.0" r="1.6" fill="none" stroke="#ff3030" stroke-width="0.8"/>
<circle cx="560.2" cy="334.4" r="1.6" fill="none" stroke="#ff3030" stroke-width="0.8"/>
<circle cx="608.0" cy="335.0" r="1.6" fill="none" stroke="#ff3030" stroke-width="0.8"/>
<path d="M606.2,414.4 L608.8,414.4 L607.5,416.7Z" fill="#3030ff"/>
<path d="M664.0,413.6 L666.5999999999999,413.6 L665.3,415.90000000000003Z" fill="#ff3030"/>
<path d="M664.0,415.2 L666.5999999999999,415.2 L665.3,417.5Z" fill="#3030ff"/>
<text x="0.90" y="388.44" font-size="14.3" style="font-weight:bold">H</text>
<text x="46.20" y="402.78" font-size="9.4" text-anchor="middle" fill="#222" stroke="#222" stroke-width="0.2" style="" >1.5 ×10<tspan font-size="5.36" dy="-3.20">6</tspan><tspan dy="3.20"> BM cells</tspan></text>
<text x="47.70" y="413.68" font-size="9.4" text-anchor="middle" fill="#222" stroke="#222" stroke-width="0.2" style="" >(<tspan style="font-style:italic">Emp1<tspan font-size="5.17" dy="-3.57">fl/fl</tspan></tspan><tspan dy="3.57"> or</tspan></text>
<text x="49.50" y="424.58" font-size="9.4" text-anchor="middle" fill="#222" stroke="#222" stroke-width="0.2" style="" ><tspan style="font-style:italic">Emp1<tspan font-size="5.36" dy="-3.20">fl/fl</tspan><tspan dy="3.20">,Mx1-Cre</tspan></tspan>)</text>
<text x="139.70" y="402.78" font-size="9.4" text-anchor="middle" fill="#222" stroke="#222" stroke-width="0.2" style="" >1.5 ×10<tspan font-size="5.36" dy="-3.20">6</tspan><tspan dy="3.20"> BM cells</tspan></text>
<text x="140.50" y="418.08" font-size="9.4" text-anchor="middle" fill="#222" stroke="#222" stroke-width="0.2" style="" >(CD45.1CD45.2)</text>
<circle cx="44.85" cy="433.40" r="2.75" fill="#adadad" stroke="#9a9a9a" stroke-width="0.5"/>
<circle cx="52.00" cy="433.40" r="2.8" fill="#adadad" stroke="#9a9a9a" stroke-width="0.5"/>
<circle cx="42.10" cy="440.00" r="2.8" fill="#adadad" stroke="#9a9a9a" stroke-width="0.5"/>
<circle cx="52.90" cy="439.00" r="2.6" fill="#adadad" stroke="#9a9a9a" stroke-width="0.5"/>
<circle cx="47.60" cy="442.50" r="2.55" fill="#adadad" stroke="#9a9a9a" stroke-width="0.5"/>
<circle cx="53.10" cy="442.90" r="2.6" fill="#adadad" stroke="#9a9a9a" stroke-width="0.5"/>
<circle cx="47.80" cy="437.40" r="2.45" fill="#adadad" stroke="#9a9a9a" stroke-width="0.5"/>
<circle cx="133.95" cy="430.90" r="2.75" fill="#44f812" stroke="#3cd814" stroke-width="0.5"/>
<circle cx="141.10" cy="430.90" r="2.8" fill="#44f812" stroke="#3cd814" stroke-width="0.5"/>
<circle cx="131.20" cy="437.50" r="2.8" fill="#44f812" stroke="#3cd814" stroke-width="0.5"/>
<circle cx="142.00" cy="436.50" r="2.6" fill="#44f812" stroke="#3cd814" stroke-width="0.5"/>
<circle cx="136.70" cy="440.00" r="2.55" fill="#44f812" stroke="#3cd814" stroke-width="0.5"/>
<circle cx="142.20" cy="440.40" r="2.6" fill="#44f812" stroke="#3cd814" stroke-width="0.5"/>
<circle cx="136.90" cy="434.90" r="2.45" fill="#44f812" stroke="#3cd814" stroke-width="0.5"/>
<text x="50.00" y="454.28" font-size="9.4" text-anchor="middle" fill="#222" stroke="#222" stroke-width="0.2" style="font-weight:bold;" >Donors</text>
<text x="143.80" y="454.28" font-size="9.4" text-anchor="middle" fill="#222" stroke="#222" stroke-width="0.2" style="font-weight:bold;" >Competitors</text>
<text x="94.30" y="439.06" font-size="8.5" text-anchor="middle" fill="#222" stroke="#222" stroke-width="0.2" style="" >+</text>
<line x1="94.30" y1="447.00" x2="94.30" y2="467.60" stroke="#222" stroke-width="0.8" />
<path d="M92.70,466.80 L95.90,466.80 L94.30,469.60Z" fill="#222"/>
<line x1="94.10" y1="512.90" x2="94.10" y2="545.30" stroke="#222" stroke-width="0.8" />
<path d="M92.50,544.50 L95.70,544.50 L94.10,547.30Z" fill="#222"/>
<line x1="94.10" y1="568.90" x2="94.10" y2="593.80" stroke="#222" stroke-width="0.8" />
<path d="M92.50,593.00 L95.70,593.00 L94.10,595.80Z" fill="#222"/>
<path d="M61.0,482.20 C64.5,482.00 66.5,482.80 69.0,484.60 C71.0,486.00 73.0,486.60 75.6,486.20" fill="none" stroke="#888" stroke-width="0.6"/>
<path d="M75.5,486.30 C76.5,480.60 84.0,478.30 95.5,478.20 L108.0,478.90 C113.0,480.00 117.6,483.20 118.4,486.60 C117.6,490.00 113.0,493.20 108.0,494.30 L95.5,495.60 C84.0,495.60 76.5,492.00 75.5,486.30Z" fill="#fff" stroke="#9a9a9a" stroke-width="0.6"/>
<ellipse cx="102.0" cy="480.30" rx="6.8" ry="3.0" fill="url(#gear)" stroke="#8a8a8a" stroke-width="0.45"/>
<ellipse cx="102.0" cy="493.00" rx="6.8" ry="3.0" fill="url(#gear)" stroke="#8a8a8a" stroke-width="0.45"/>
<ellipse cx="112.4" cy="485.00" rx="1.1" ry="0.65" fill="#111"/>
<ellipse cx="112.4" cy="488.40" rx="1.1" ry="0.65" fill="#111"/>
<circle cx="118.0" cy="486.60" r="0.9" fill="#111"/>
<path d="M114.0,481.60 L116.8,479.00 M115.2,481.00 L118.2,480.00 M114.6,481.30 L117.4,478.60" stroke="#8a8a8a" stroke-width="0.55" fill="none"/>
<path d="M114.0,491.80 L116.8,494.40 M115.2,492.40 L118.2,493.40 M114.6,492.10 L117.4,494.80" stroke="#8a8a8a" stroke-width="0.55" fill="none"/>
<path d="M61.0,603.80 C64.5,603.60 66.5,604.40 69.0,606.20 C71.0,607.60 73.0,608.20 75.6,607.80" fill="none" stroke="#888" stroke-width="0.6"/>
<path d="M75.5,607.90 C76.5,602.20 84.0,599.90 95.5,599.80 L108.0,600.50 C113.0,601.60 117.6,604.80 118.4,608.20 C117.6,611.60 113.0,614.80 108.0,615.90 L95.5,617.20 C84.0,617.20 76.5,613.60 75.5,607.90Z" fill="#fff" stroke="#9a9a9a" stroke-width="0.6"/>
<ellipse cx="102.0" cy="601.90" rx="6.8" ry="3.0" fill="url(#gear)" stroke="#8a8a8a" stroke-width="0.45"/>
<ellipse cx="102.0" cy="614.60" rx="6.8" ry="3.0" fill="url(#gear)" stroke="#8a8a8a" stroke-width="0.45"/>
<ellipse cx="112.4" cy="606.60" rx="1.1" ry="0.65" fill="#111"/>
<ellipse cx="112.4" cy="610.00" rx="1.1" ry="0.65" fill="#111"/>
<circle cx="118.0" cy="608.20" r="0.9" fill="#111"/>
<path d="M114.0,603.20 L116.8,600.60 M115.2,602.60 L118.2,601.60 M114.6,602.90 L117.4,600.20" stroke="#8a8a8a" stroke-width="0.55" fill="none"/>
<path d="M114.0,613.40 L116.8,616.00 M115.2,614.00 L118.2,615.00 M114.6,613.70 L117.4,616.40" stroke="#8a8a8a" stroke-width="0.55" fill="none"/>
<text x="34.20" y="483.98" font-size="9.4" text-anchor="start" fill="#222" stroke="#222" stroke-width="0.2" style="" >1-first</text>
<text x="34.80" y="599.38" font-size="9.4" text-anchor="start" fill="#222" stroke="#222" stroke-width="0.2" style="" >2-second</text>
<text x="111.40" y="470.08" font-size="9.4" text-anchor="start" fill="#222" stroke="#222" stroke-width="0.2" style="" >Lenthally irradiated</text>
<text x="112.80" y="586.68" font-size="9.4" text-anchor="start" fill="#222" stroke="#222" stroke-width="0.2" style="" >Lenthally irradiated</text>
<path d="M122.20,485.80 L125.40,482.40 L126.00,480.00 L129.10,478.80 L129.60,476.40 L132.65,473.90 L135.50,477.60 L132.80,479.20 L132.50,481.10 L129.20,482.30 L128.40,484.30Z" fill="#1e1b12" stroke="#b8a050" stroke-width="0.35" stroke-linejoin="round"/>
<path d="M122.20,602.00 L125.40,598.60 L126.00,596.20 L129.10,595.00 L129.60,592.60 L132.65,590.10 L135.50,593.80 L132.80,595.40 L132.50,597.30 L129.20,598.50 L128.40,600.50Z" fill="#1e1b12" stroke="#b8a050" stroke-width="0.35" stroke-linejoin="round"/>
<text x="136.20" y="483.98" font-size="9.4" text-anchor="start" fill="#222" stroke="#222" stroke-width="0.2" style="" >9.0 Gy</text>
<text x="136.80" y="599.68" font-size="9.4" text-anchor="start" fill="#222" stroke="#222" stroke-width="0.2" style="" >9.0 Gy</text>
<text x="55.10" y="509.98" font-size="9.4" text-anchor="start" fill="#222" stroke="#222" stroke-width="0.2" style="font-weight:bold;" >Recipients</text>
<text x="102.60" y="509.98" font-size="9.4" text-anchor="start" fill="#222" stroke="#222" stroke-width="0.2" style="" >(CD45.1)</text>
<text x="55.60" y="627.98" font-size="9.4" text-anchor="start" fill="#222" stroke="#222" stroke-width="0.2" style="font-weight:bold;" >Recipients</text>
<text x="104.30" y="627.98" font-size="9.4" text-anchor="start" fill="#222" stroke="#222" stroke-width="0.2" style="" >(CD45.1)</text>
<text x="31.40" y="524.78" font-size="9.4" text-anchor="start" fill="#222" stroke="#222" stroke-width="0.2" style="" >3 × pIpC</text>
<line x1="71.20" y1="517.60" x2="83.00" y2="517.60" stroke="#ff2020" stroke-width="0.9" />
<path d="M82.0,515.80 L85.8,517.60 L82.0,519.40Z" fill="#ff2020"/>
<line x1="71.20" y1="521.40" x2="83.00" y2="521.40" stroke="#ff2020" stroke-width="0.9" />
<path d="M82.0,519.60 L85.8,521.40 L82.0,523.20Z" fill="#ff2020"/>
<line x1="71.20" y1="525.20" x2="83.00" y2="525.20" stroke="#ff2020" stroke-width="0.9" />
<path d="M82.0,523.40 L85.8,525.20 L82.0,527.00Z" fill="#ff2020"/>
<text x="103.50" y="525.18" font-size="9.4" text-anchor="start" fill="#222" stroke="#222" stroke-width="0.2" style="" >1 month</text>
<text x="103.50" y="544.38" font-size="9.4" text-anchor="start" fill="#222" stroke="#222" stroke-width="0.2" style="" >4 month</text>
<text x="94.00" y="556.58" font-size="9.4" text-anchor="middle" fill="#222" stroke="#222" stroke-width="0.2" style="" >2 ×10<tspan font-size="5.36" dy="-3.20">6</tspan><tspan dy="3.20"> BM cells</tspan></text>
<text x="94.00" y="565.98" font-size="9.4" text-anchor="middle" fill="#222" stroke="#222" stroke-width="0.2" style="" >(1-first recipients)</text>
<text x="207.90" y="433.84" font-size="14.3" style="font-weight:bold">I</text>
<text x="268.90" y="438.69" font-size="9.7" text-anchor="middle" fill="#222" stroke="#222" stroke-width="0.2" style="" >pIpC</text>
<line x1="262.80" y1="440.90" x2="262.80" y2="451.50" stroke="#ff2020" stroke-width="0.9" />
<path d="M260.90,450.90 L264.70,450.90 L262.80,454.80Z" fill="#ff2020"/>
<line x1="266.60" y1="440.90" x2="266.60" y2="451.50" stroke="#ff2020" stroke-width="0.9" />
<path d="M264.70,450.90 L268.50,450.90 L266.60,454.80Z" fill="#ff2020"/>
<line x1="270.60" y1="440.90" x2="270.60" y2="451.50" stroke="#ff2020" stroke-width="0.9" />
<path d="M268.70,450.90 L272.50,450.90 L270.60,454.80Z" fill="#ff2020"/>
<text x="268.30" y="464.29" font-size="9.7" text-anchor="middle" fill="#222" stroke="#222" stroke-width="0.2" style="" >1 mon (1<tspan font-size="5.53" dy="-3.30">st</tspan><tspan dy="3.30">)</tspan></text>
<text x="332.70" y="464.69" font-size="9.7" text-anchor="middle" fill="#222" stroke="#222" stroke-width="0.2" style="" >4 mon (1<tspan font-size="5.53" dy="-3.30">st</tspan><tspan dy="3.30">)</tspan></text>
<text x="399.30" y="464.69" font-size="9.7" text-anchor="middle" fill="#222" stroke="#222" stroke-width="0.2" style="" >4 mon (2<tspan font-size="5.53" dy="-3.30">nd</tspan><tspan dy="3.30">)</tspan></text>
<text transform="translate(218.95,498.70) rotate(-90)" font-size="9.85" text-anchor="middle" fill="#000" stroke="#000" stroke-width="0.2" style="font-style:italic;">Emp1<tspan font-size="5.61" dy="-3.35">fl/fl</tspan><tspan dy="3.35"></tspan></text>
<text transform="translate(218.68,559.50) rotate(-90)" font-size="9.1" text-anchor="middle" fill="#000" stroke="#000" stroke-width="0.2" style="font-style:italic;">Emp1<tspan font-size="5.19" dy="-3.09">fl/fl</tspan><tspan dy="3.09">,Mx1-Cre</tspan></text>
<line x1="235.20" y1="474.13" x2="236.50" y2="474.13" stroke="#333" stroke-width="0.5" />
<line x1="235.20" y1="481.07" x2="236.50" y2="481.07" stroke="#333" stroke-width="0.5" />
<line x1="235.20" y1="488.00" x2="236.50" y2="488.00" stroke="#333" stroke-width="0.5" />
<line x1="235.20" y1="494.93" x2="236.50" y2="494.93" stroke="#333" stroke-width="0.5" />
<line x1="235.20" y1="501.87" x2="236.50" y2="501.87" stroke="#333" stroke-width="0.5" />
<line x1="235.20" y1="508.80" x2="236.50" y2="508.80" stroke="#333" stroke-width="0.5" />
<line x1="235.20" y1="515.73" x2="236.50" y2="515.73" stroke="#333" stroke-width="0.5" />
<line x1="235.20" y1="522.67" x2="236.50" y2="522.67" stroke="#333" stroke-width="0.5" />
<line x1="241.76" y1="529.60" x2="241.76" y2="530.90" stroke="#333" stroke-width="0.5" />
<line x1="247.02" y1="529.60" x2="247.02" y2="530.90" stroke="#333" stroke-width="0.5" />
<line x1="252.28" y1="529.60" x2="252.28" y2="530.90" stroke="#333" stroke-width="0.5" />
<line x1="257.53" y1="529.60" x2="257.53" y2="530.90" stroke="#333" stroke-width="0.5" />
<line x1="262.79" y1="529.60" x2="262.79" y2="530.90" stroke="#333" stroke-width="0.5" />
<line x1="268.05" y1="529.60" x2="268.05" y2="530.90" stroke="#333" stroke-width="0.5" />
<line x1="273.31" y1="529.60" x2="273.31" y2="530.90" stroke="#333" stroke-width="0.5" />
<line x1="278.57" y1="529.60" x2="278.57" y2="530.90" stroke="#333" stroke-width="0.5" />
<line x1="283.83" y1="529.60" x2="283.83" y2="530.90" stroke="#333" stroke-width="0.5" />
<line x1="289.08" y1="529.60" x2="289.08" y2="530.90" stroke="#333" stroke-width="0.5" />
<line x1="294.34" y1="529.60" x2="294.34" y2="530.90" stroke="#333" stroke-width="0.5" />
<rect x="236.50" y="467.20" width="63.10" height="62.40" fill="none" stroke="#111" stroke-width="0.9"/>
<clipPath id="cb16"><path d="M271.19,474.78 C272.17,472.82 273.96,471.68 276.08,470.87 C278.20,470.05 281.79,469.56 283.90,469.89 C286.02,470.22 287.65,471.52 288.79,472.82 C289.94,474.13 290.59,476.25 290.75,477.72 C290.91,479.18 290.91,480.32 289.77,481.63 C288.63,482.93 286.02,484.40 283.90,485.54 C281.79,486.68 279.01,488.15 277.06,488.47 C275.10,488.80 273.31,488.47 272.17,487.50 C271.03,486.52 270.37,484.72 270.21,482.61 C270.05,480.49 270.21,476.74 271.19,474.78Z"/></clipPath>
<path d="M271.19,474.78 C272.17,472.82 273.96,471.68 276.08,470.87 C278.20,470.05 281.79,469.56 283.90,469.89 C286.02,470.22 287.65,471.52 288.79,472.82 C289.94,474.13 290.59,476.25 290.75,477.72 C290.91,479.18 290.91,480.32 289.77,481.63 C288.63,482.93 286.02,484.40 283.90,485.54 C281.79,486.68 279.01,488.15 277.06,488.47 C275.10,488.80 273.31,488.47 272.17,487.50 C271.03,486.52 270.37,484.72 270.21,482.61 C270.05,480.49 270.21,476.74 271.19,474.78Z" fill="#151515" stroke="#000" stroke-width="1.0"/>
<g clip-path="url(#cb16)"><path d="M271.19,474.78 C272.17,472.82 273.96,471.68 276.08,470.87 C278.20,470.05 281.79,469.56 283.90,469.89 C286.02,470.22 287.65,471.52 288.79,472.82 C289.94,474.13 290.59,476.25 290.75,477.72 C290.91,479.18 290.91,480.32 289.77,481.63 C288.63,482.93 286.02,484.40 283.90,485.54 C281.79,486.68 279.01,488.15 277.06,488.47 C275.10,488.80 273.31,488.47 272.17,487.50 C271.03,486.52 270.37,484.72 270.21,482.61 C270.05,480.49 270.21,476.74 271.19,474.78Z" fill="#b8b8b8" filter="url(#ins1p3_1p4)"/>
<ellipse cx="279.80" cy="479.80" rx="6.50" ry="5.50" transform="rotate(0 279.80 479.80)" fill="none" stroke="#000" stroke-width="0.6"/>
<ellipse cx="279.80" cy="479.80" rx="5.90" ry="4.90" transform="rotate(0 279.80 479.80)" fill="none" stroke="#fff" stroke-width="0.5"/>
<ellipse cx="280.00" cy="480.00" rx="4.20" ry="3.50" transform="rotate(0 280.00 480.00)" fill="none" stroke="#000" stroke-width="0.6"/>
<ellipse cx="280.00" cy="480.00" rx="3.60" ry="2.90" transform="rotate(0 280.00 480.00)" fill="none" stroke="#fff" stroke-width="0.5"/>
<ellipse cx="280.20" cy="480.20" rx="2.00" ry="1.60" transform="rotate(0 280.20 480.20)" fill="#333" stroke="#000" stroke-width="0.6"/>
<ellipse cx="280.20" cy="480.20" rx="1.40" ry="1.00" transform="rotate(0 280.20 480.20)" fill="none" stroke="#fff" stroke-width="0.5"/>
</g>
<clipPath id="cb17"><path d="M278.04,490.43 C279.42,489.13 281.95,488.64 283.90,488.47 C285.86,488.31 288.47,488.47 289.77,489.45 C291.08,490.43 291.73,491.90 291.73,494.34 C291.73,496.79 290.59,500.86 289.77,504.12 C288.96,507.38 287.65,510.81 286.84,513.90 C286.02,517.00 285.70,520.88 284.88,522.71 C284.07,524.53 282.76,525.19 281.95,524.86 C281.13,524.53 280.64,522.90 279.99,520.75 C279.34,518.60 278.69,515.05 278.04,511.95 C277.38,508.85 276.49,504.78 276.08,502.17 C275.67,499.56 275.26,498.26 275.59,496.30 C275.92,494.34 276.65,491.73 278.04,490.43Z"/></clipPath>
<path d="M278.04,490.43 C279.42,489.13 281.95,488.64 283.90,488.47 C285.86,488.31 288.47,488.47 289.77,489.45 C291.08,490.43 291.73,491.90 291.73,494.34 C291.73,496.79 290.59,500.86 289.77,504.12 C288.96,507.38 287.65,510.81 286.84,513.90 C286.02,517.00 285.70,520.88 284.88,522.71 C284.07,524.53 282.76,525.19 281.95,524.86 C281.13,524.53 280.64,522.90 279.99,520.75 C279.34,518.60 278.69,515.05 278.04,511.95 C277.38,508.85 276.49,504.78 276.08,502.17 C275.67,499.56 275.26,498.26 275.59,496.30 C275.92,494.34 276.65,491.73 278.04,490.43Z" fill="#151515" stroke="#000" stroke-width="1.0"/>
<g clip-path="url(#cb17)"><path d="M278.04,490.43 C279.42,489.13 281.95,488.64 283.90,488.47 C285.86,488.31 288.47,488.47 289.77,489.45 C291.08,490.43 291.73,491.90 291.73,494.34 C291.73,496.79 290.59,500.86 289.77,504.12 C288.96,507.38 287.65,510.81 286.84,513.90 C286.02,517.00 285.70,520.88 284.88,522.71 C284.07,524.53 282.76,525.19 281.95,524.86 C281.13,524.53 280.64,522.90 279.99,520.75 C279.34,518.60 278.69,515.05 278.04,511.95 C277.38,508.85 276.49,504.78 276.08,502.17 C275.67,499.56 275.26,498.26 275.59,496.30 C275.92,494.34 276.65,491.73 278.04,490.43Z" fill="#c0c0c0" filter="url(#ins1p3_1p4)"/>
<ellipse cx="283.00" cy="500.50" rx="5.60" ry="12.00" transform="rotate(-5 283.00 500.50)" fill="none" stroke="#000" stroke-width="0.6"/>
<ellipse cx="283.00" cy="500.50" rx="5.00" ry="11.40" transform="rotate(-5 283.00 500.50)" fill="none" stroke="#fff" stroke-width="0.5"/>
<ellipse cx="283.00" cy="499.50" rx="3.80" ry="8.00" transform="rotate(-5 283.00 499.50)" fill="none" stroke="#000" stroke-width="0.6"/>
<ellipse cx="283.00" cy="499.50" rx="3.20" ry="7.40" transform="rotate(-5 283.00 499.50)" fill="none" stroke="#fff" stroke-width="0.5"/>
<ellipse cx="283.20" cy="498.50" rx="2.00" ry="4.50" transform="rotate(-5 283.20 498.50)" fill="none" stroke="#000" stroke-width="0.6"/>
<ellipse cx="283.20" cy="498.50" rx="1.40" ry="3.90" transform="rotate(-5 283.20 498.50)" fill="none" stroke="#fff" stroke-width="0.5"/>
<ellipse cx="283.80" cy="523.00" rx="1.60" ry="1.40" transform="rotate(0 283.80 523.00)" fill="#000" stroke="none" stroke-width="0"/>
</g>
<path d="M236.50,492.90 L268.30,496.50 L299.60,477.20 M271.70,467.20 L268.30,496.50 L278.00,529.60" fill="none" stroke="#111" stroke-width="0.8"/>
<text x="286.90" y="474.12" font-size="8.1" text-anchor="middle" fill="#ff2020" stroke="#ff2020" stroke-width="0.2" style="" >49.3%</text>
<text x="285.60" y="520.62" font-size="8.1" text-anchor="middle" fill="#ff2020" stroke="#ff2020" stroke-width="0.2" style="" >49.8%</text>
<text x="246.50" y="478.92" font-size="8.1" text-anchor="middle" fill="#ff2020" stroke="#ff2020" stroke-width="0.2" style="" >Competitor</text>
<line x1="266.80" y1="476.20" x2="278.00" y2="476.40" stroke="#ff2020" stroke-width="0.8" />
<path d="M277.2,474.6 L281.0,476.4 L277.2,478.2Z" fill="#ff2020"/>
<text x="256.70" y="526.92" font-size="8.1" text-anchor="middle" fill="#ff2020" stroke="#ff2020" stroke-width="0.2" style="" >Donor</text>
<line x1="268.40" y1="524.20" x2="283.00" y2="524.40" stroke="#ff2020" stroke-width="0.8" />
<path d="M282.2,522.6 L286.0,524.4 L282.2,526.2Z" fill="#ff2020"/>
<line x1="302.30" y1="474.23" x2="303.60" y2="474.23" stroke="#333" stroke-width="0.5" />
<line x1="302.30" y1="481.17" x2="303.60" y2="481.17" stroke="#333" stroke-width="0.5" />
<line x1="302.30" y1="488.10" x2="303.60" y2="488.10" stroke="#333" stroke-width="0.5" />
<line x1="302.30" y1="495.03" x2="303.60" y2="495.03" stroke="#333" stroke-width="0.5" />
<line x1="302.30" y1="501.97" x2="303.60" y2="501.97" stroke="#333" stroke-width="0.5" />
<line x1="302.30" y1="508.90" x2="303.60" y2="508.90" stroke="#333" stroke-width="0.5" />
<line x1="302.30" y1="515.83" x2="303.60" y2="515.83" stroke="#333" stroke-width="0.5" />
<line x1="302.30" y1="522.77" x2="303.60" y2="522.77" stroke="#333" stroke-width="0.5" />
<line x1="308.83" y1="529.70" x2="308.83" y2="531.00" stroke="#333" stroke-width="0.5" />
<line x1="314.07" y1="529.70" x2="314.07" y2="531.00" stroke="#333" stroke-width="0.5" />
<line x1="319.30" y1="529.70" x2="319.30" y2="531.00" stroke="#333" stroke-width="0.5" />
<line x1="324.53" y1="529.70" x2="324.53" y2="531.00" stroke="#333" stroke-width="0.5" />
<line x1="329.77" y1="529.70" x2="329.77" y2="531.00" stroke="#333" stroke-width="0.5" />
<line x1="335.00" y1="529.70" x2="335.00" y2="531.00" stroke="#333" stroke-width="0.5" />
<line x1="340.23" y1="529.70" x2="340.23" y2="531.00" stroke="#333" stroke-width="0.5" />
<line x1="345.47" y1="529.70" x2="345.47" y2="531.00" stroke="#333" stroke-width="0.5" />
<line x1="350.70" y1="529.70" x2="350.70" y2="531.00" stroke="#333" stroke-width="0.5" />
<line x1="355.93" y1="529.70" x2="355.93" y2="531.00" stroke="#333" stroke-width="0.5" />
<line x1="361.17" y1="529.70" x2="361.17" y2="531.00" stroke="#333" stroke-width="0.5" />
<rect x="303.60" y="467.30" width="62.80" height="62.40" fill="none" stroke="#111" stroke-width="0.9"/>
<clipPath id="cb18"><path d="M340.15,476.74 C340.96,474.94 342.26,474.39 344.06,473.80 C345.85,473.22 348.95,472.89 350.90,473.22 C352.86,473.54 354.16,475.01 355.79,475.76 C357.43,476.51 359.87,476.74 360.69,477.72 C361.50,478.69 361.34,480.49 360.69,481.63 C360.03,482.77 358.08,483.75 356.77,484.56 C355.47,485.38 354.49,485.70 352.86,486.52 C351.23,487.33 348.79,488.96 346.99,489.45 C345.20,489.94 343.41,490.27 342.10,489.45 C340.80,488.64 339.49,486.68 339.17,484.56 C338.84,482.44 339.33,478.53 340.15,476.74Z"/></clipPath>
<path d="M340.15,476.74 C340.96,474.94 342.26,474.39 344.06,473.80 C345.85,473.22 348.95,472.89 350.90,473.22 C352.86,473.54 354.16,475.01 355.79,475.76 C357.43,476.51 359.87,476.74 360.69,477.72 C361.50,478.69 361.34,480.49 360.69,481.63 C360.03,482.77 358.08,483.75 356.77,484.56 C355.47,485.38 354.49,485.70 352.86,486.52 C351.23,487.33 348.79,488.96 346.99,489.45 C345.20,489.94 343.41,490.27 342.10,489.45 C340.80,488.64 339.49,486.68 339.17,484.56 C338.84,482.44 339.33,478.53 340.15,476.74Z" fill="#151515" stroke="#000" stroke-width="1.0"/>
<g clip-path="url(#cb18)"><path d="M340.15,476.74 C340.96,474.94 342.26,474.39 344.06,473.80 C345.85,473.22 348.95,472.89 350.90,473.22 C352.86,473.54 354.16,475.01 355.79,475.76 C357.43,476.51 359.87,476.74 360.69,477.72 C361.50,478.69 361.34,480.49 360.69,481.63 C360.03,482.77 358.08,483.75 356.77,484.56 C355.47,485.38 354.49,485.70 352.86,486.52 C351.23,487.33 348.79,488.96 346.99,489.45 C345.20,489.94 343.41,490.27 342.10,489.45 C340.80,488.64 339.49,486.68 339.17,484.56 C338.84,482.44 339.33,478.53 340.15,476.74Z" fill="#b0b0b0" filter="url(#ins1p2_1p3)"/>
<ellipse cx="346.00" cy="481.60" rx="4.80" ry="4.50" transform="rotate(0 346.00 481.60)" fill="none" stroke="#000" stroke-width="0.6"/>
<ellipse cx="346.00" cy="481.60" rx="4.20" ry="3.90" transform="rotate(0 346.00 481.60)" fill="none" stroke="#fff" stroke-width="0.5"/>
<ellipse cx="346.00" cy="481.60" rx="2.80" ry="2.50" transform="rotate(0 346.00 481.60)" fill="none" stroke="#000" stroke-width="0.6"/>
<ellipse cx="346.00" cy="481.60" rx="2.20" ry="1.90" transform="rotate(0 346.00 481.60)" fill="none" stroke="#fff" stroke-width="0.5"/>
<ellipse cx="346.00" cy="481.60" rx="1.20" ry="1.00" transform="rotate(0 346.00 481.60)" fill="#333" stroke="#000" stroke-width="0.6"/>
</g>
<clipPath id="cb19"><path d="M342.10,490.43 C343.41,488.54 346.50,487.72 348.95,486.91 C351.39,486.09 354.82,485.44 356.77,485.54 C358.73,485.64 360.36,485.38 360.69,487.50 C361.01,489.62 359.71,494.18 358.73,498.26 C357.75,502.33 355.96,508.04 354.82,511.95 C353.68,515.86 352.86,519.38 351.88,521.73 C350.90,524.08 349.93,526.36 348.95,526.03 C347.97,525.71 346.93,522.77 346.01,519.77 C345.10,516.77 344.29,511.62 343.47,508.04 C342.66,504.45 341.35,501.19 341.12,498.26 C340.90,495.32 340.80,492.32 342.10,490.43Z"/></clipPath>
<path d="M342.10,490.43 C343.41,488.54 346.50,487.72 348.95,486.91 C351.39,486.09 354.82,485.44 356.77,485.54 C358.73,485.64 360.36,485.38 360.69,487.50 C361.01,489.62 359.71,494.18 358.73,498.26 C357.75,502.33 355.96,508.04 354.82,511.95 C353.68,515.86 352.86,519.38 351.88,521.73 C350.90,524.08 349.93,526.36 348.95,526.03 C347.97,525.71 346.93,522.77 346.01,519.77 C345.10,516.77 344.29,511.62 343.47,508.04 C342.66,504.45 341.35,501.19 341.12,498.26 C340.90,495.32 340.80,492.32 342.10,490.43Z" fill="#151515" stroke="#000" stroke-width="1.0"/>
<g clip-path="url(#cb19)"><path d="M342.10,490.43 C343.41,488.54 346.50,487.72 348.95,486.91 C351.39,486.09 354.82,485.44 356.77,485.54 C358.73,485.64 360.36,485.38 360.69,487.50 C361.01,489.62 359.71,494.18 358.73,498.26 C357.75,502.33 355.96,508.04 354.82,511.95 C353.68,515.86 352.86,519.38 351.88,521.73 C350.90,524.08 349.93,526.36 348.95,526.03 C347.97,525.71 346.93,522.77 346.01,519.77 C345.10,516.77 344.29,511.62 343.47,508.04 C342.66,504.45 341.35,501.19 341.12,498.26 C340.90,495.32 340.80,492.32 342.10,490.43Z" fill="#bdbdbd" filter="url(#ins1p2_1p3)"/>
<ellipse cx="349.00" cy="503.00" rx="5.50" ry="12.00" transform="rotate(5 349.00 503.00)" fill="none" stroke="#000" stroke-width="0.6"/>
<ellipse cx="349.00" cy="503.00" rx="4.90" ry="11.40" transform="rotate(5 349.00 503.00)" fill="none" stroke="#fff" stroke-width="0.5"/>
<ellipse cx="349.00" cy="503.50" rx="3.60" ry="8.00" transform="rotate(5 349.00 503.50)" fill="none" stroke="#000" stroke-width="0.6"/>
<ellipse cx="349.00" cy="503.50" rx="3.00" ry="7.40" transform="rotate(5 349.00 503.50)" fill="none" stroke="#fff" stroke-width="0.5"/>
<ellipse cx="349.00" cy="504.00" rx="1.80" ry="4.00" transform="rotate(5 349.00 504.00)" fill="none" stroke="#000" stroke-width="0.6"/>
<ellipse cx="349.00" cy="504.00" rx="1.20" ry="3.40" transform="rotate(5 349.00 504.00)" fill="none" stroke="#fff" stroke-width="0.5"/>
<ellipse cx="349.20" cy="524.50" rx="1.50" ry="1.50" transform="rotate(0 349.20 524.50)" fill="#000" stroke="none" stroke-width="0"/>
</g>
<path d="M303.60,493.40 L335.00,496.60 L366.40,477.10 M337.40,467.30 L335.00,496.60 L344.10,529.70" fill="none" stroke="#111" stroke-width="0.8"/>
<text x="349.30" y="474.22" font-size="8.1" text-anchor="middle" fill="#ff2020" stroke="#ff2020" stroke-width="0.2" style="" >33.6%</text>
<text x="353.50" y="521.72" font-size="8.1" text-anchor="middle" fill="#ff2020" stroke="#ff2020" stroke-width="0.2" style="" >66.4%</text>
<line x1="368.30" y1="474.23" x2="369.60" y2="474.23" stroke="#333" stroke-width="0.5" />
<line x1="368.30" y1="481.17" x2="369.60" y2="481.17" stroke="#333" stroke-width="0.5" />
<line x1="368.30" y1="488.10" x2="369.60" y2="488.10" stroke="#333" stroke-width="0.5" />
<line x1="368.30" y1="495.03" x2="369.60" y2="495.03" stroke="#333" stroke-width="0.5" />
<line x1="368.30" y1="501.97" x2="369.60" y2="501.97" stroke="#333" stroke-width="0.5" />
<line x1="368.30" y1="508.90" x2="369.60" y2="508.90" stroke="#333" stroke-width="0.5" />
<line x1="368.30" y1="515.83" x2="369.60" y2="515.83" stroke="#333" stroke-width="0.5" />
<line x1="368.30" y1="522.77" x2="369.60" y2="522.77" stroke="#333" stroke-width="0.5" />
<line x1="374.82" y1="529.70" x2="374.82" y2="531.00" stroke="#333" stroke-width="0.5" />
<line x1="380.03" y1="529.70" x2="380.03" y2="531.00" stroke="#333" stroke-width="0.5" />
<line x1="385.25" y1="529.70" x2="385.25" y2="531.00" stroke="#333" stroke-width="0.5" />
<line x1="390.47" y1="529.70" x2="390.47" y2="531.00" stroke="#333" stroke-width="0.5" />
<line x1="395.68" y1="529.70" x2="395.68" y2="531.00" stroke="#333" stroke-width="0.5" />
<line x1="400.90" y1="529.70" x2="400.90" y2="531.00" stroke="#333" stroke-width="0.5" />
<line x1="406.12" y1="529.70" x2="406.12" y2="531.00" stroke="#333" stroke-width="0.5" />
<line x1="411.33" y1="529.70" x2="411.33" y2="531.00" stroke="#333" stroke-width="0.5" />
<line x1="416.55" y1="529.70" x2="416.55" y2="531.00" stroke="#333" stroke-width="0.5" />
<line x1="421.77" y1="529.70" x2="421.77" y2="531.00" stroke="#333" stroke-width="0.5" />
<line x1="426.98" y1="529.70" x2="426.98" y2="531.00" stroke="#333" stroke-width="0.5" />
<rect x="369.60" y="467.30" width="62.60" height="62.40" fill="none" stroke="#111" stroke-width="0.9"/>
<clipPath id="cb20"><path d="M405.68,476.74 C406.23,475.11 407.14,474.39 408.61,473.80 C410.08,473.22 412.69,473.05 414.48,473.22 C416.27,473.38 417.74,474.19 419.37,474.78 C421.00,475.37 423.12,475.92 424.26,476.74 C425.40,477.55 426.38,478.69 426.22,479.67 C426.05,480.65 424.75,481.79 423.28,482.61 C421.82,483.42 419.37,483.91 417.41,484.56 C415.46,485.21 413.18,485.87 411.55,486.52 C409.92,487.17 408.68,488.96 407.63,488.47 C406.59,487.99 405.61,485.54 405.29,483.58 C404.96,481.63 405.12,478.37 405.68,476.74Z"/></clipPath>
<path d="M405.68,476.74 C406.23,475.11 407.14,474.39 408.61,473.80 C410.08,473.22 412.69,473.05 414.48,473.22 C416.27,473.38 417.74,474.19 419.37,474.78 C421.00,475.37 423.12,475.92 424.26,476.74 C425.40,477.55 426.38,478.69 426.22,479.67 C426.05,480.65 424.75,481.79 423.28,482.61 C421.82,483.42 419.37,483.91 417.41,484.56 C415.46,485.21 413.18,485.87 411.55,486.52 C409.92,487.17 408.68,488.96 407.63,488.47 C406.59,487.99 405.61,485.54 405.29,483.58 C404.96,481.63 405.12,478.37 405.68,476.74Z" fill="#333" stroke="#000" stroke-width="0.7"/>
<g clip-path="url(#cb20)"><path d="M405.68,476.74 C406.23,475.11 407.14,474.39 408.61,473.80 C410.08,473.22 412.69,473.05 414.48,473.22 C416.27,473.38 417.74,474.19 419.37,474.78 C421.00,475.37 423.12,475.92 424.26,476.74 C425.40,477.55 426.38,478.69 426.22,479.67 C426.05,480.65 424.75,481.79 423.28,482.61 C421.82,483.42 419.37,483.91 417.41,484.56 C415.46,485.21 413.18,485.87 411.55,486.52 C409.92,487.17 408.68,488.96 407.63,488.47 C406.59,487.99 405.61,485.54 405.29,483.58 C404.96,481.63 405.12,478.37 405.68,476.74Z" fill="#bcbcbc" filter="url(#ins1p0_1p1)"/>
<ellipse cx="414.50" cy="479.70" rx="3.80" ry="3.00" transform="rotate(0 414.50 479.70)" fill="none" stroke="#000" stroke-width="0.6"/>
<ellipse cx="414.50" cy="479.70" rx="3.20" ry="2.40" transform="rotate(0 414.50 479.70)" fill="none" stroke="#fff" stroke-width="0.5"/>
<ellipse cx="414.50" cy="479.70" rx="1.80" ry="1.30" transform="rotate(0 414.50 479.70)" fill="none" stroke="#000" stroke-width="0.6"/>
<ellipse cx="414.50" cy="479.70" rx="1.20" ry="0.70" transform="rotate(0 414.50 479.70)" fill="none" stroke="#fff" stroke-width="0.5"/>
</g>
<clipPath id="cb21"><path d="M403.72,494.34 C404.21,491.90 406.49,489.84 408.61,488.47 C410.73,487.10 413.83,486.78 416.44,486.13 C419.04,485.47 421.82,484.50 424.26,484.56 C426.71,484.63 430.29,484.89 431.11,486.52 C431.92,488.15 430.13,491.08 429.15,494.34 C428.17,497.60 426.54,502.49 425.24,506.08 C423.94,509.67 422.63,512.93 421.33,515.86 C420.02,518.79 418.46,521.79 417.41,523.69 C416.37,525.58 415.88,527.53 415.07,527.21 C414.25,526.88 413.50,524.27 412.52,521.73 C411.55,519.19 410.34,515.05 409.20,511.95 C408.06,508.85 406.59,506.08 405.68,503.15 C404.76,500.21 403.23,496.79 403.72,494.34Z"/></clipPath>
<path d="M403.72,494.34 C404.21,491.90 406.49,489.84 408.61,488.47 C410.73,487.10 413.83,486.78 416.44,486.13 C419.04,485.47 421.82,484.50 424.26,484.56 C426.71,484.63 430.29,484.89 431.11,486.52 C431.92,488.15 430.13,491.08 429.15,494.34 C428.17,497.60 426.54,502.49 425.24,506.08 C423.94,509.67 422.63,512.93 421.33,515.86 C420.02,518.79 418.46,521.79 417.41,523.69 C416.37,525.58 415.88,527.53 415.07,527.21 C414.25,526.88 413.50,524.27 412.52,521.73 C411.55,519.19 410.34,515.05 409.20,511.95 C408.06,508.85 406.59,506.08 405.68,503.15 C404.76,500.21 403.23,496.79 403.72,494.34Z" fill="#151515" stroke="#000" stroke-width="1.0"/>
<g clip-path="url(#cb21)"><path d="M403.72,494.34 C404.21,491.90 406.49,489.84 408.61,488.47 C410.73,487.10 413.83,486.78 416.44,486.13 C419.04,485.47 421.82,484.50 424.26,484.56 C426.71,484.63 430.29,484.89 431.11,486.52 C431.92,488.15 430.13,491.08 429.15,494.34 C428.17,497.60 426.54,502.49 425.24,506.08 C423.94,509.67 422.63,512.93 421.33,515.86 C420.02,518.79 418.46,521.79 417.41,523.69 C416.37,525.58 415.88,527.53 415.07,527.21 C414.25,526.88 413.50,524.27 412.52,521.73 C411.55,519.19 410.34,515.05 409.20,511.95 C408.06,508.85 406.59,506.08 405.68,503.15 C404.76,500.21 403.23,496.79 403.72,494.34Z" fill="#c0c0c0" filter="url(#ins1p3_1p4)"/>
<ellipse cx="417.00" cy="501.00" rx="7.80" ry="13.00" transform="rotate(12 417.00 501.00)" fill="none" stroke="#000" stroke-width="0.6"/>
<ellipse cx="417.00" cy="501.00" rx="7.20" ry="12.40" transform="rotate(12 417.00 501.00)" fill="none" stroke="#fff" stroke-width="0.5"/>
<ellipse cx="417.00" cy="500.50" rx="5.60" ry="9.80" transform="rotate(12 417.00 500.50)" fill="none" stroke="#000" stroke-width="0.6"/>
<ellipse cx="417.00" cy="500.50" rx="5.00" ry="9.20" transform="rotate(12 417.00 500.50)" fill="none" stroke="#fff" stroke-width="0.5"/>
<ellipse cx="417.20" cy="500.00" rx="3.60" ry="6.20" transform="rotate(12 417.20 500.00)" fill="none" stroke="#000" stroke-width="0.6"/>
<ellipse cx="417.20" cy="500.00" rx="3.00" ry="5.60" transform="rotate(12 417.20 500.00)" fill="none" stroke="#fff" stroke-width="0.5"/>
<ellipse cx="417.40" cy="499.50" rx="1.80" ry="3.20" transform="rotate(12 417.40 499.50)" fill="none" stroke="#000" stroke-width="0.6"/>
<ellipse cx="417.40" cy="499.50" rx="1.20" ry="2.60" transform="rotate(12 417.40 499.50)" fill="none" stroke="#fff" stroke-width="0.5"/>
<ellipse cx="415.00" cy="525.50" rx="1.60" ry="1.40" transform="rotate(0 415.00 525.50)" fill="#000" stroke="none" stroke-width="0"/>
</g>
<path d="M369.60,493.40 L402.70,497.30 L432.20,477.10 M405.30,467.30 L402.70,497.30 L410.60,529.70" fill="none" stroke="#111" stroke-width="0.8"/>
<text x="417.20" y="474.22" font-size="8.1" text-anchor="middle" fill="#ff2020" stroke="#ff2020" stroke-width="0.2" style="" >11.1%</text>
<text x="419.00" y="521.72" font-size="8.1" text-anchor="middle" fill="#ff2020" stroke="#ff2020" stroke-width="0.2" style="" >84.9%</text>
<line x1="236.00" y1="540.00" x2="237.30" y2="540.00" stroke="#333" stroke-width="0.5" />
<line x1="236.00" y1="547.00" x2="237.30" y2="547.00" stroke="#333" stroke-width="0.5" />
<line x1="236.00" y1="554.00" x2="237.30" y2="554.00" stroke="#333" stroke-width="0.5" />
<line x1="236.00" y1="561.00" x2="237.30" y2="561.00" stroke="#333" stroke-width="0.5" />
<line x1="236.00" y1="568.00" x2="237.30" y2="568.00" stroke="#333" stroke-width="0.5" />
<line x1="236.00" y1="575.00" x2="237.30" y2="575.00" stroke="#333" stroke-width="0.5" />
<line x1="236.00" y1="582.00" x2="237.30" y2="582.00" stroke="#333" stroke-width="0.5" />
<line x1="236.00" y1="589.00" x2="237.30" y2="589.00" stroke="#333" stroke-width="0.5" />
<line x1="242.51" y1="596.00" x2="242.51" y2="597.30" stroke="#333" stroke-width="0.5" />
<line x1="247.72" y1="596.00" x2="247.72" y2="597.30" stroke="#333" stroke-width="0.5" />
<line x1="252.93" y1="596.00" x2="252.93" y2="597.30" stroke="#333" stroke-width="0.5" />
<line x1="258.13" y1="596.00" x2="258.13" y2="597.30" stroke="#333" stroke-width="0.5" />
<line x1="263.34" y1="596.00" x2="263.34" y2="597.30" stroke="#333" stroke-width="0.5" />
<line x1="268.55" y1="596.00" x2="268.55" y2="597.30" stroke="#333" stroke-width="0.5" />
<line x1="273.76" y1="596.00" x2="273.76" y2="597.30" stroke="#333" stroke-width="0.5" />
<line x1="278.97" y1="596.00" x2="278.97" y2="597.30" stroke="#333" stroke-width="0.5" />
<line x1="284.18" y1="596.00" x2="284.18" y2="597.30" stroke="#333" stroke-width="0.5" />
<line x1="289.38" y1="596.00" x2="289.38" y2="597.30" stroke="#333" stroke-width="0.5" />
<line x1="294.59" y1="596.00" x2="294.59" y2="597.30" stroke="#333" stroke-width="0.5" />
<rect x="237.30" y="533.00" width="62.50" height="63.00" fill="none" stroke="#111" stroke-width="0.9"/>
<clipPath id="cb22"><path d="M271.00,541.00 C271.72,538.42 273.00,537.50 274.50,536.50 C276.00,535.50 278.17,534.92 280.00,535.00 C281.83,535.08 283.83,535.83 285.50,537.00 C287.17,538.17 288.75,540.67 290.00,542.00 C291.25,543.33 293.33,543.67 293.00,545.00 C292.67,546.33 289.83,548.42 288.00,550.00 C286.17,551.58 283.92,553.08 282.00,554.50 C280.08,555.92 278.17,557.83 276.50,558.50 C274.83,559.17 273.05,559.58 272.00,558.50 C270.95,557.42 270.37,554.92 270.20,552.00 C270.03,549.08 270.28,543.58 271.00,541.00Z"/></clipPath>
<path d="M271.00,541.00 C271.72,538.42 273.00,537.50 274.50,536.50 C276.00,535.50 278.17,534.92 280.00,535.00 C281.83,535.08 283.83,535.83 285.50,537.00 C287.17,538.17 288.75,540.67 290.00,542.00 C291.25,543.33 293.33,543.67 293.00,545.00 C292.67,546.33 289.83,548.42 288.00,550.00 C286.17,551.58 283.92,553.08 282.00,554.50 C280.08,555.92 278.17,557.83 276.50,558.50 C274.83,559.17 273.05,559.58 272.00,558.50 C270.95,557.42 270.37,554.92 270.20,552.00 C270.03,549.08 270.28,543.58 271.00,541.00Z" fill="#151515" stroke="#000" stroke-width="1.0"/>
<g clip-path="url(#cb22)"><path d="M271.00,541.00 C271.72,538.42 273.00,537.50 274.50,536.50 C276.00,535.50 278.17,534.92 280.00,535.00 C281.83,535.08 283.83,535.83 285.50,537.00 C287.17,538.17 288.75,540.67 290.00,542.00 C291.25,543.33 293.33,543.67 293.00,545.00 C292.67,546.33 289.83,548.42 288.00,550.00 C286.17,551.58 283.92,553.08 282.00,554.50 C280.08,555.92 278.17,557.83 276.50,558.50 C274.83,559.17 273.05,559.58 272.00,558.50 C270.95,557.42 270.37,554.92 270.20,552.00 C270.03,549.08 270.28,543.58 271.00,541.00Z" fill="#b0b0b0" filter="url(#ins1p3_1p4)"/>
<ellipse cx="278.40" cy="546.60" rx="5.00" ry="6.00" transform="rotate(0 278.40 546.60)" fill="none" stroke="#000" stroke-width="0.6"/>
<ellipse cx="278.40" cy="546.60" rx="4.40" ry="5.40" transform="rotate(0 278.40 546.60)" fill="none" stroke="#fff" stroke-width="0.5"/>
<ellipse cx="278.40" cy="546.60" rx="3.00" ry="3.80" transform="rotate(0 278.40 546.60)" fill="none" stroke="#000" stroke-width="0.6"/>
<ellipse cx="278.40" cy="546.60" rx="2.40" ry="3.20" transform="rotate(0 278.40 546.60)" fill="none" stroke="#fff" stroke-width="0.5"/>
<ellipse cx="278.40" cy="546.60" rx="1.40" ry="1.80" transform="rotate(0 278.40 546.60)" fill="#333" stroke="#000" stroke-width="0.6"/>
<ellipse cx="278.40" cy="546.60" rx="0.80" ry="1.20" transform="rotate(0 278.40 546.60)" fill="none" stroke="#fff" stroke-width="0.5"/>
</g>
<clipPath id="cb23"><path d="M275.00,560.00 C275.58,558.08 277.17,557.25 279.00,556.50 C280.83,555.75 283.83,555.58 286.00,555.50 C288.17,555.42 291.25,554.58 292.00,556.00 C292.75,557.42 291.17,561.33 290.50,564.00 C289.83,566.67 288.92,569.33 288.00,572.00 C287.08,574.67 285.83,577.33 285.00,580.00 C284.17,582.67 283.67,586.07 283.00,588.00 C282.33,589.93 281.67,591.93 281.00,591.60 C280.33,591.27 279.58,588.60 279.00,586.00 C278.42,583.40 278.08,579.00 277.50,576.00 C276.92,573.00 275.92,570.67 275.50,568.00 C275.08,565.33 274.42,561.92 275.00,560.00Z"/></clipPath>
<path d="M275.00,560.00 C275.58,558.08 277.17,557.25 279.00,556.50 C280.83,555.75 283.83,555.58 286.00,555.50 C288.17,555.42 291.25,554.58 292.00,556.00 C292.75,557.42 291.17,561.33 290.50,564.00 C289.83,566.67 288.92,569.33 288.00,572.00 C287.08,574.67 285.83,577.33 285.00,580.00 C284.17,582.67 283.67,586.07 283.00,588.00 C282.33,589.93 281.67,591.93 281.00,591.60 C280.33,591.27 279.58,588.60 279.00,586.00 C278.42,583.40 278.08,579.00 277.50,576.00 C276.92,573.00 275.92,570.67 275.50,568.00 C275.08,565.33 274.42,561.92 275.00,560.00Z" fill="#151515" stroke="#000" stroke-width="1.0"/>
<g clip-path="url(#cb23)"><path d="M275.00,560.00 C275.58,558.08 277.17,557.25 279.00,556.50 C280.83,555.75 283.83,555.58 286.00,555.50 C288.17,555.42 291.25,554.58 292.00,556.00 C292.75,557.42 291.17,561.33 290.50,564.00 C289.83,566.67 288.92,569.33 288.00,572.00 C287.08,574.67 285.83,577.33 285.00,580.00 C284.17,582.67 283.67,586.07 283.00,588.00 C282.33,589.93 281.67,591.93 281.00,591.60 C280.33,591.27 279.58,588.60 279.00,586.00 C278.42,583.40 278.08,579.00 277.50,576.00 C276.92,573.00 275.92,570.67 275.50,568.00 C275.08,565.33 274.42,561.92 275.00,560.00Z" fill="#c0c0c0" filter="url(#ins1p3_1p4)"/>
<ellipse cx="283.00" cy="567.00" rx="4.50" ry="8.00" transform="rotate(0 283.00 567.00)" fill="none" stroke="#000" stroke-width="0.6"/>
<ellipse cx="283.00" cy="567.00" rx="3.90" ry="7.40" transform="rotate(0 283.00 567.00)" fill="none" stroke="#fff" stroke-width="0.5"/>
<ellipse cx="283.00" cy="566.50" rx="2.80" ry="5.00" transform="rotate(0 283.00 566.50)" fill="none" stroke="#000" stroke-width="0.6"/>
<ellipse cx="283.00" cy="566.50" rx="2.20" ry="4.40" transform="rotate(0 283.00 566.50)" fill="none" stroke="#fff" stroke-width="0.5"/>
<ellipse cx="283.00" cy="566.00" rx="1.30" ry="2.40" transform="rotate(0 283.00 566.00)" fill="none" stroke="#000" stroke-width="0.6"/>
<ellipse cx="283.00" cy="566.00" rx="0.70" ry="1.80" transform="rotate(0 283.00 566.00)" fill="none" stroke="#fff" stroke-width="0.5"/>
</g>
<path d="M237.30,559.30 L269.60,562.90 L299.80,544.10 M271.60,533.00 L269.60,562.90 L279.00,596.00" fill="none" stroke="#111" stroke-width="0.8"/>
<text x="285.20" y="540.92" font-size="8.1" text-anchor="middle" fill="#ff2020" stroke="#ff2020" stroke-width="0.2" style="" >61.2%</text>
<text x="288.00" y="593.52" font-size="8.1" text-anchor="middle" fill="#ff2020" stroke="#ff2020" stroke-width="0.2" style="" >38.3%</text>
<path d="M231.90,582.20 L231.90,601.60 L251.30,601.60" fill="none" stroke="#333" stroke-width="0.8"/>
<path d="M230.20,583.30 L231.90,580.50 L233.60,583.30Z" fill="#333"/>
<path d="M250.20,599.90 L253.00,601.60 L250.20,603.30Z" fill="#333"/>
<text transform="translate(234.49,565.00) rotate(-90)" font-size="9.7" text-anchor="middle" fill="#000" stroke="#000" stroke-width="0.2" style="">CD45.1</text>
<text x="255.00" y="605.49" font-size="9.7" text-anchor="start" fill="#000" stroke="#000" stroke-width="0.2" style="" >CD45.2</text>
<line x1="302.30" y1="540.69" x2="303.60" y2="540.69" stroke="#333" stroke-width="0.5" />
<line x1="302.30" y1="547.68" x2="303.60" y2="547.68" stroke="#333" stroke-width="0.5" />
<line x1="302.30" y1="554.67" x2="303.60" y2="554.67" stroke="#333" stroke-width="0.5" />
<line x1="302.30" y1="561.66" x2="303.60" y2="561.66" stroke="#333" stroke-width="0.5" />
<line x1="302.30" y1="568.64" x2="303.60" y2="568.64" stroke="#333" stroke-width="0.5" />
<line x1="302.30" y1="575.63" x2="303.60" y2="575.63" stroke="#333" stroke-width="0.5" />
<line x1="302.30" y1="582.62" x2="303.60" y2="582.62" stroke="#333" stroke-width="0.5" />
<line x1="302.30" y1="589.61" x2="303.60" y2="589.61" stroke="#333" stroke-width="0.5" />
<line x1="308.83" y1="596.60" x2="308.83" y2="597.90" stroke="#333" stroke-width="0.5" />
<line x1="314.07" y1="596.60" x2="314.07" y2="597.90" stroke="#333" stroke-width="0.5" />
<line x1="319.30" y1="596.60" x2="319.30" y2="597.90" stroke="#333" stroke-width="0.5" />
<line x1="324.53" y1="596.60" x2="324.53" y2="597.90" stroke="#333" stroke-width="0.5" />
<line x1="329.77" y1="596.60" x2="329.77" y2="597.90" stroke="#333" stroke-width="0.5" />
<line x1="335.00" y1="596.60" x2="335.00" y2="597.90" stroke="#333" stroke-width="0.5" />
<line x1="340.23" y1="596.60" x2="340.23" y2="597.90" stroke="#333" stroke-width="0.5" />
<line x1="345.47" y1="596.60" x2="345.47" y2="597.90" stroke="#333" stroke-width="0.5" />
<line x1="350.70" y1="596.60" x2="350.70" y2="597.90" stroke="#333" stroke-width="0.5" />
<line x1="355.93" y1="596.60" x2="355.93" y2="597.90" stroke="#333" stroke-width="0.5" />
<line x1="361.17" y1="596.60" x2="361.17" y2="597.90" stroke="#333" stroke-width="0.5" />
<rect x="303.60" y="533.70" width="62.80" height="62.90" fill="none" stroke="#111" stroke-width="0.9"/>
<clipPath id="cb24"><path d="M337.00,542.00 C337.83,539.67 339.33,538.07 341.00,537.00 C342.67,535.93 345.00,535.60 347.00,535.60 C349.00,535.60 351.33,536.43 353.00,537.00 C354.67,537.57 356.08,537.83 357.00,539.00 C357.92,540.17 359.00,542.33 358.50,544.00 C358.00,545.67 355.75,547.42 354.00,549.00 C352.25,550.58 350.00,552.00 348.00,553.50 C346.00,555.00 343.75,557.17 342.00,558.00 C340.25,558.83 338.50,559.67 337.50,558.50 C336.50,557.33 336.08,553.75 336.00,551.00 C335.92,548.25 336.17,544.33 337.00,542.00Z"/></clipPath>
<path d="M337.00,542.00 C337.83,539.67 339.33,538.07 341.00,537.00 C342.67,535.93 345.00,535.60 347.00,535.60 C349.00,535.60 351.33,536.43 353.00,537.00 C354.67,537.57 356.08,537.83 357.00,539.00 C357.92,540.17 359.00,542.33 358.50,544.00 C358.00,545.67 355.75,547.42 354.00,549.00 C352.25,550.58 350.00,552.00 348.00,553.50 C346.00,555.00 343.75,557.17 342.00,558.00 C340.25,558.83 338.50,559.67 337.50,558.50 C336.50,557.33 336.08,553.75 336.00,551.00 C335.92,548.25 336.17,544.33 337.00,542.00Z" fill="#151515" stroke="#000" stroke-width="1.0"/>
<g clip-path="url(#cb24)"><path d="M337.00,542.00 C337.83,539.67 339.33,538.07 341.00,537.00 C342.67,535.93 345.00,535.60 347.00,535.60 C349.00,535.60 351.33,536.43 353.00,537.00 C354.67,537.57 356.08,537.83 357.00,539.00 C357.92,540.17 359.00,542.33 358.50,544.00 C358.00,545.67 355.75,547.42 354.00,549.00 C352.25,550.58 350.00,552.00 348.00,553.50 C346.00,555.00 343.75,557.17 342.00,558.00 C340.25,558.83 338.50,559.67 337.50,558.50 C336.50,557.33 336.08,553.75 336.00,551.00 C335.92,548.25 336.17,544.33 337.00,542.00Z" fill="#aaaaaa" filter="url(#ins1p3_1p4)"/>
<ellipse cx="343.60" cy="546.60" rx="5.00" ry="6.00" transform="rotate(0 343.60 546.60)" fill="none" stroke="#000" stroke-width="0.6"/>
<ellipse cx="343.60" cy="546.60" rx="4.40" ry="5.40" transform="rotate(0 343.60 546.60)" fill="none" stroke="#fff" stroke-width="0.5"/>
<ellipse cx="343.60" cy="546.60" rx="3.00" ry="3.80" transform="rotate(0 343.60 546.60)" fill="none" stroke="#000" stroke-width="0.6"/>
<ellipse cx="343.60" cy="546.60" rx="2.40" ry="3.20" transform="rotate(0 343.60 546.60)" fill="none" stroke="#fff" stroke-width="0.5"/>
<ellipse cx="343.60" cy="546.60" rx="1.40" ry="1.80" transform="rotate(0 343.60 546.60)" fill="#333" stroke="#000" stroke-width="0.6"/>
<ellipse cx="343.60" cy="546.60" rx="0.80" ry="1.20" transform="rotate(0 343.60 546.60)" fill="none" stroke="#fff" stroke-width="0.5"/>
</g>
<clipPath id="cb25"><path d="M345.00,560.00 C345.58,557.67 347.33,556.33 348.50,556.00 C349.67,555.67 351.33,556.33 352.00,558.00 C352.67,559.67 352.67,563.33 352.50,566.00 C352.33,568.67 351.50,571.67 351.00,574.00 C350.50,576.33 350.00,578.42 349.50,580.00 C349.00,581.58 348.50,583.83 348.00,583.50 C347.50,583.17 347.00,580.25 346.50,578.00 C346.00,575.75 345.25,573.00 345.00,570.00 C344.75,567.00 344.42,562.33 345.00,560.00Z"/></clipPath>
<path d="M345.00,560.00 C345.58,557.67 347.33,556.33 348.50,556.00 C349.67,555.67 351.33,556.33 352.00,558.00 C352.67,559.67 352.67,563.33 352.50,566.00 C352.33,568.67 351.50,571.67 351.00,574.00 C350.50,576.33 350.00,578.42 349.50,580.00 C349.00,581.58 348.50,583.83 348.00,583.50 C347.50,583.17 347.00,580.25 346.50,578.00 C346.00,575.75 345.25,573.00 345.00,570.00 C344.75,567.00 344.42,562.33 345.00,560.00Z" fill="#151515" stroke="#000" stroke-width="1.0"/>
<g clip-path="url(#cb25)"><path d="M345.00,560.00 C345.58,557.67 347.33,556.33 348.50,556.00 C349.67,555.67 351.33,556.33 352.00,558.00 C352.67,559.67 352.67,563.33 352.50,566.00 C352.33,568.67 351.50,571.67 351.00,574.00 C350.50,576.33 350.00,578.42 349.50,580.00 C349.00,581.58 348.50,583.83 348.00,583.50 C347.50,583.17 347.00,580.25 346.50,578.00 C346.00,575.75 345.25,573.00 345.00,570.00 C344.75,567.00 344.42,562.33 345.00,560.00Z" fill="#c4c4c4" filter="url(#ins1p2_1p3)"/>
<ellipse cx="348.50" cy="568.00" rx="1.80" ry="4.00" transform="rotate(0 348.50 568.00)" fill="#888" stroke="none" stroke-width="0"/>
</g>
<path d="M303.60,559.60 L335.90,563.40 L366.40,543.20 M337.90,533.70 L335.90,563.40 L344.70,596.60" fill="none" stroke="#111" stroke-width="0.8"/>
<text x="351.50" y="541.42" font-size="8.1" text-anchor="middle" fill="#ff2020" stroke="#ff2020" stroke-width="0.2" style="" >91.4%</text>
<text x="355.50" y="592.92" font-size="8.1" text-anchor="middle" fill="#ff2020" stroke="#ff2020" stroke-width="0.2" style="" >8.5%</text>
<line x1="368.30" y1="540.69" x2="369.60" y2="540.69" stroke="#333" stroke-width="0.5" />
<line x1="368.30" y1="547.68" x2="369.60" y2="547.68" stroke="#333" stroke-width="0.5" />
<line x1="368.30" y1="554.67" x2="369.60" y2="554.67" stroke="#333" stroke-width="0.5" />
<line x1="368.30" y1="561.66" x2="369.60" y2="561.66" stroke="#333" stroke-width="0.5" />
<line x1="368.30" y1="568.64" x2="369.60" y2="568.64" stroke="#333" stroke-width="0.5" />
<line x1="368.30" y1="575.63" x2="369.60" y2="575.63" stroke="#333" stroke-width="0.5" />
<line x1="368.30" y1="582.62" x2="369.60" y2="582.62" stroke="#333" stroke-width="0.5" />
<line x1="368.30" y1="589.61" x2="369.60" y2="589.61" stroke="#333" stroke-width="0.5" />
<line x1="374.82" y1="596.60" x2="374.82" y2="597.90" stroke="#333" stroke-width="0.5" />
<line x1="380.03" y1="596.60" x2="380.03" y2="597.90" stroke="#333" stroke-width="0.5" />
<line x1="385.25" y1="596.60" x2="385.25" y2="597.90" stroke="#333" stroke-width="0.5" />
<line x1="390.47" y1="596.60" x2="390.47" y2="597.90" stroke="#333" stroke-width="0.5" />
<line x1="395.68" y1="596.60" x2="395.68" y2="597.90" stroke="#333" stroke-width="0.5" />
<line x1="400.90" y1="596.60" x2="400.90" y2="597.90" stroke="#333" stroke-width="0.5" />
<line x1="406.12" y1="596.60" x2="406.12" y2="597.90" stroke="#333" stroke-width="0.5" />
<line x1="411.33" y1="596.60" x2="411.33" y2="597.90" stroke="#333" stroke-width="0.5" />
<line x1="416.55" y1="596.60" x2="416.55" y2="597.90" stroke="#333" stroke-width="0.5" />
<line x1="421.77" y1="596.60" x2="421.77" y2="597.90" stroke="#333" stroke-width="0.5" />
<line x1="426.98" y1="596.60" x2="426.98" y2="597.90" stroke="#333" stroke-width="0.5" />
<rect x="369.60" y="533.70" width="62.60" height="62.90" fill="none" stroke="#111" stroke-width="0.9"/>
<clipPath id="cb26"><path d="M401.50,551.00 C401.67,548.58 402.08,547.58 403.00,546.50 C403.92,545.42 405.67,544.67 407.00,544.50 C408.33,544.33 409.92,544.75 411.00,545.50 C412.08,546.25 413.17,547.58 413.50,549.00 C413.83,550.42 413.58,552.42 413.00,554.00 C412.42,555.58 411.17,557.25 410.00,558.50 C408.83,559.75 407.33,561.08 406.00,561.50 C404.67,561.92 402.75,562.75 402.00,561.00 C401.25,559.25 401.33,553.42 401.50,551.00Z"/></clipPath>
<path d="M401.50,551.00 C401.67,548.58 402.08,547.58 403.00,546.50 C403.92,545.42 405.67,544.67 407.00,544.50 C408.33,544.33 409.92,544.75 411.00,545.50 C412.08,546.25 413.17,547.58 413.50,549.00 C413.83,550.42 413.58,552.42 413.00,554.00 C412.42,555.58 411.17,557.25 410.00,558.50 C408.83,559.75 407.33,561.08 406.00,561.50 C404.67,561.92 402.75,562.75 402.00,561.00 C401.25,559.25 401.33,553.42 401.50,551.00Z" fill="#333" stroke="#000" stroke-width="0.7"/>
<g clip-path="url(#cb26)"><path d="M401.50,551.00 C401.67,548.58 402.08,547.58 403.00,546.50 C403.92,545.42 405.67,544.67 407.00,544.50 C408.33,544.33 409.92,544.75 411.00,545.50 C412.08,546.25 413.17,547.58 413.50,549.00 C413.83,550.42 413.58,552.42 413.00,554.00 C412.42,555.58 411.17,557.25 410.00,558.50 C408.83,559.75 407.33,561.08 406.00,561.50 C404.67,561.92 402.75,562.75 402.00,561.00 C401.25,559.25 401.33,553.42 401.50,551.00Z" fill="#a8a8a8" filter="url(#ins1p0_1p1)"/>
<ellipse cx="407.50" cy="552.50" rx="3.60" ry="5.20" transform="rotate(10 407.50 552.50)" fill="none" stroke="#000" stroke-width="0.6"/>
<ellipse cx="407.50" cy="552.50" rx="3.00" ry="4.60" transform="rotate(10 407.50 552.50)" fill="none" stroke="#fff" stroke-width="0.5"/>
<ellipse cx="407.70" cy="552.50" rx="2.00" ry="3.00" transform="rotate(10 407.70 552.50)" fill="none" stroke="#000" stroke-width="0.6"/>
<ellipse cx="407.70" cy="552.50" rx="1.40" ry="2.40" transform="rotate(10 407.70 552.50)" fill="none" stroke="#fff" stroke-width="0.5"/>
</g>
<clipPath id="cb27"><path d="M408.00,565.50 C408.38,564.58 409.58,563.25 410.50,563.00 C411.42,562.75 412.95,563.17 413.50,564.00 C414.05,564.83 413.97,566.67 413.80,568.00 C413.63,569.33 412.97,570.97 412.50,572.00 C412.03,573.03 411.55,574.20 411.00,574.20 C410.45,574.20 409.67,572.95 409.20,572.00 C408.73,571.05 408.40,569.58 408.20,568.50 C408.00,567.42 407.62,566.42 408.00,565.50Z"/></clipPath>
<path d="M408.00,565.50 C408.38,564.58 409.58,563.25 410.50,563.00 C411.42,562.75 412.95,563.17 413.50,564.00 C414.05,564.83 413.97,566.67 413.80,568.00 C413.63,569.33 412.97,570.97 412.50,572.00 C412.03,573.03 411.55,574.20 411.00,574.20 C410.45,574.20 409.67,572.95 409.20,572.00 C408.73,571.05 408.40,569.58 408.20,568.50 C408.00,567.42 407.62,566.42 408.00,565.50Z" fill="#222" stroke="#000" stroke-width="0.7"/>
<g clip-path="url(#cb27)"><path d="M408.00,565.50 C408.38,564.58 409.58,563.25 410.50,563.00 C411.42,562.75 412.95,563.17 413.50,564.00 C414.05,564.83 413.97,566.67 413.80,568.00 C413.63,569.33 412.97,570.97 412.50,572.00 C412.03,573.03 411.55,574.20 411.00,574.20 C410.45,574.20 409.67,572.95 409.20,572.00 C408.73,571.05 408.40,569.58 408.20,568.50 C408.00,567.42 407.62,566.42 408.00,565.50Z" fill="#b8b8b8" filter="url(#ins0p8_0p9)"/>
</g>
<path d="M369.60,560.80 L401.70,565.90 L432.20,541.70 M404.00,533.70 L401.70,565.90 L408.10,596.60" fill="none" stroke="#111" stroke-width="0.8"/>
<text x="415.60" y="541.42" font-size="8.1" text-anchor="middle" fill="#ff2020" stroke="#ff2020" stroke-width="0.2" style="" >94.4%</text>
<text x="420.20" y="592.92" font-size="8.1" text-anchor="middle" fill="#ff2020" stroke="#ff2020" stroke-width="0.2" style="" >5.2%</text>
<text x="450.80" y="466.64" font-size="14.3" style="font-weight:bold">J</text>
<rect x="473.30" y="462.70" width="6.60" height="6.60" fill="#2a00ff"/>
<rect x="473.30" y="472.20" width="6.60" height="6.60" fill="#ff2212"/>
<text x="482.90" y="469.55" font-size="9.85" text-anchor="start" fill="#000" stroke="#000" stroke-width="0.2" style="font-style:italic;" >Emp1<tspan font-size="5.61" dy="-3.35">fl/fl</tspan><tspan dy="3.35"></tspan></text>
<text x="482.90" y="479.05" font-size="9.85" text-anchor="start" fill="#000" stroke="#000" stroke-width="0.2" style="font-style:italic;" >Emp1<tspan font-size="5.61" dy="-3.35">fl/fl</tspan><tspan dy="3.35">,Mx1-Cre</tspan></text>
<rect x="480.80" y="547.29" width="7.00" height="48.71" fill="#2a00ff"/>
<rect x="488.00" y="554.70" width="7.00" height="41.30" fill="#ff2212"/>
<rect x="502.30" y="536.70" width="7.00" height="59.30" fill="#2a00ff"/>
<rect x="509.70" y="574.82" width="7.20" height="21.18" fill="#ff2212"/>
<rect x="524.10" y="538.81" width="7.00" height="57.19" fill="#2a00ff"/>
<rect x="531.50" y="579.06" width="6.80" height="16.94" fill="#ff2212"/>
<rect x="545.30" y="531.40" width="7.20" height="64.60" fill="#2a00ff"/>
<rect x="552.90" y="582.23" width="7.10" height="13.77" fill="#ff2212"/>
<line x1="484.30" y1="543.58" x2="484.30" y2="550.99" stroke="#000" stroke-width="0.9" />
<line x1="482.34" y1="543.58" x2="486.26" y2="543.58" stroke="#000" stroke-width="0.9" />
<line x1="482.34" y1="550.99" x2="486.26" y2="550.99" stroke="#000" stroke-width="0.9" />
<circle cx="482.76" cy="551.71" r="1.30" fill="#000"/>
<circle cx="486.67" cy="549.69" r="1.30" fill="#000"/>
<circle cx="482.37" cy="548.35" r="1.30" fill="#000"/>
<circle cx="486.37" cy="546.51" r="1.30" fill="#000"/>
<circle cx="484.61" cy="544.79" r="1.30" fill="#000"/>
<circle cx="481.86" cy="543.03" r="1.30" fill="#000"/>
<line x1="491.50" y1="552.58" x2="491.50" y2="556.82" stroke="#000" stroke-width="0.9" />
<line x1="489.54" y1="552.58" x2="493.46" y2="552.58" stroke="#000" stroke-width="0.9" />
<line x1="489.54" y1="556.82" x2="493.46" y2="556.82" stroke="#000" stroke-width="0.9" />
<circle cx="489.53" cy="557.43" r="1.30" fill="#000"/>
<circle cx="493.75" cy="556.34" r="1.30" fill="#000"/>
<circle cx="493.07" cy="555.44" r="1.30" fill="#000"/>
<circle cx="491.39" cy="553.94" r="1.30" fill="#000"/>
<circle cx="493.94" cy="553.05" r="1.30" fill="#000"/>
<circle cx="490.41" cy="552.25" r="1.30" fill="#000"/>
<line x1="505.80" y1="530.34" x2="505.80" y2="543.05" stroke="#000" stroke-width="0.9" />
<line x1="503.84" y1="530.34" x2="507.76" y2="530.34" stroke="#000" stroke-width="0.9" />
<line x1="503.84" y1="543.05" x2="507.76" y2="543.05" stroke="#000" stroke-width="0.9" />
<circle cx="507.70" cy="544.94" r="1.30" fill="#000"/>
<circle cx="506.99" cy="542.20" r="1.30" fill="#000"/>
<circle cx="505.74" cy="537.88" r="1.30" fill="#000"/>
<circle cx="503.38" cy="535.04" r="1.30" fill="#000"/>
<circle cx="503.20" cy="531.38" r="1.30" fill="#000"/>
<circle cx="507.77" cy="528.70" r="1.30" fill="#000"/>
<line x1="513.30" y1="569.52" x2="513.30" y2="580.12" stroke="#000" stroke-width="0.9" />
<line x1="511.28" y1="569.52" x2="515.32" y2="569.52" stroke="#000" stroke-width="0.9" />
<line x1="511.28" y1="580.12" x2="515.32" y2="580.12" stroke="#000" stroke-width="0.9" />
<circle cx="513.72" cy="581.64" r="1.30" fill="#000"/>
<circle cx="513.60" cy="578.77" r="1.30" fill="#000"/>
<circle cx="515.04" cy="576.25" r="1.30" fill="#000"/>
<circle cx="515.38" cy="573.73" r="1.30" fill="#000"/>
<circle cx="515.58" cy="571.05" r="1.30" fill="#000"/>
<circle cx="515.62" cy="567.82" r="1.30" fill="#000"/>
<line x1="527.60" y1="527.16" x2="527.60" y2="550.46" stroke="#000" stroke-width="0.9" />
<line x1="525.64" y1="527.16" x2="529.56" y2="527.16" stroke="#000" stroke-width="0.9" />
<line x1="525.64" y1="550.46" x2="529.56" y2="550.46" stroke="#000" stroke-width="0.9" />
<circle cx="529.72" cy="554.13" r="1.30" fill="#000"/>
<circle cx="525.10" cy="546.89" r="1.30" fill="#000"/>
<circle cx="527.87" cy="542.53" r="1.30" fill="#000"/>
<circle cx="525.68" cy="536.19" r="1.30" fill="#000"/>
<circle cx="528.95" cy="531.16" r="1.30" fill="#000"/>
<circle cx="525.06" cy="523.11" r="1.30" fill="#000"/>
<line x1="534.90" y1="574.82" x2="534.90" y2="583.29" stroke="#000" stroke-width="0.9" />
<line x1="533.00" y1="574.82" x2="536.80" y2="574.82" stroke="#000" stroke-width="0.9" />
<line x1="533.00" y1="583.29" x2="536.80" y2="583.29" stroke="#000" stroke-width="0.9" />
<circle cx="537.23" cy="584.44" r="1.30" fill="#000"/>
<circle cx="533.27" cy="581.79" r="1.30" fill="#000"/>
<circle cx="535.23" cy="580.14" r="1.30" fill="#000"/>
<circle cx="532.43" cy="578.06" r="1.30" fill="#000"/>
<circle cx="536.30" cy="575.44" r="1.30" fill="#000"/>
<circle cx="532.58" cy="573.66" r="1.30" fill="#000"/>
<line x1="548.90" y1="522.93" x2="548.90" y2="539.87" stroke="#000" stroke-width="0.9" />
<line x1="546.88" y1="522.93" x2="550.92" y2="522.93" stroke="#000" stroke-width="0.9" />
<line x1="546.88" y1="539.87" x2="550.92" y2="539.87" stroke="#000" stroke-width="0.9" />
<circle cx="551.31" cy="541.58" r="1.30" fill="#000"/>
<circle cx="548.89" cy="537.58" r="1.30" fill="#000"/>
<circle cx="546.87" cy="533.69" r="1.30" fill="#000"/>
<circle cx="546.05" cy="529.14" r="1.30" fill="#000"/>
<circle cx="551.07" cy="525.72" r="1.30" fill="#000"/>
<circle cx="547.35" cy="521.04" r="1.30" fill="#000"/>
<line x1="556.45" y1="578.00" x2="556.45" y2="586.47" stroke="#000" stroke-width="0.9" />
<line x1="554.46" y1="578.00" x2="558.44" y2="578.00" stroke="#000" stroke-width="0.9" />
<line x1="554.46" y1="586.47" x2="558.44" y2="586.47" stroke="#000" stroke-width="0.9" />
<circle cx="558.60" cy="587.39" r="1.30" fill="#000"/>
<circle cx="557.94" cy="585.43" r="1.30" fill="#000"/>
<circle cx="556.71" cy="582.83" r="1.30" fill="#000"/>
<circle cx="557.07" cy="581.17" r="1.30" fill="#000"/>
<circle cx="558.45" cy="578.73" r="1.30" fill="#000"/>
<circle cx="555.01" cy="576.49" r="1.30" fill="#000"/>
<line x1="477.60" y1="510.78" x2="477.60" y2="596.50" stroke="#000" stroke-width="1.1" />
<line x1="477.10" y1="596.00" x2="562.40" y2="596.00" stroke="#000" stroke-width="1.1" />
<line x1="474.60" y1="596.00" x2="477.60" y2="596.00" stroke="#000" stroke-width="1.0" />
<text x="473.40" y="600.13" font-size="9.8" text-anchor="end" fill="#000" stroke="#000" stroke-width="0.2" style="" >0</text>
<line x1="474.60" y1="574.82" x2="477.60" y2="574.82" stroke="#000" stroke-width="1.0" />
<text x="473.40" y="578.95" font-size="9.8" text-anchor="end" fill="#000" stroke="#000" stroke-width="0.2" style="" >20</text>
<line x1="474.60" y1="553.64" x2="477.60" y2="553.64" stroke="#000" stroke-width="1.0" />
<text x="473.40" y="557.77" font-size="9.8" text-anchor="end" fill="#000" stroke="#000" stroke-width="0.2" style="" >40</text>
<line x1="474.60" y1="532.46" x2="477.60" y2="532.46" stroke="#000" stroke-width="1.0" />
<text x="473.40" y="536.59" font-size="9.8" text-anchor="end" fill="#000" stroke="#000" stroke-width="0.2" style="" >60</text>
<line x1="474.60" y1="511.28" x2="477.60" y2="511.28" stroke="#000" stroke-width="1.0" />
<text x="473.40" y="515.41" font-size="9.8" text-anchor="end" fill="#000" stroke="#000" stroke-width="0.2" style="" >80</text>
<rect x="592.00" y="530.20" width="7.00" height="65.30" fill="#2a00ff"/>
<rect x="599.20" y="589.56" width="7.00" height="5.94" fill="#ff2212"/>
<rect x="612.90" y="523.42" width="7.00" height="72.08" fill="#2a00ff"/>
<rect x="620.50" y="590.84" width="7.00" height="4.66" fill="#ff2212"/>
<rect x="634.30" y="529.36" width="7.10" height="66.14" fill="#2a00ff"/>
<rect x="641.90" y="589.99" width="7.00" height="5.51" fill="#ff2212"/>
<rect x="656.00" y="526.81" width="6.80" height="68.69" fill="#2a00ff"/>
<rect x="663.20" y="590.84" width="7.00" height="4.66" fill="#ff2212"/>
<line x1="595.50" y1="525.12" x2="595.50" y2="535.29" stroke="#000" stroke-width="0.9" />
<line x1="593.54" y1="525.12" x2="597.46" y2="525.12" stroke="#000" stroke-width="0.9" />
<line x1="593.54" y1="535.29" x2="597.46" y2="535.29" stroke="#000" stroke-width="0.9" />
<circle cx="596.87" cy="536.63" r="1.30" fill="#000"/>
<circle cx="596.05" cy="533.70" r="1.30" fill="#000"/>
<circle cx="597.56" cy="531.89" r="1.30" fill="#000"/>
<circle cx="597.97" cy="528.36" r="1.30" fill="#000"/>
<circle cx="595.28" cy="526.73" r="1.30" fill="#000"/>
<circle cx="593.34" cy="523.54" r="1.30" fill="#000"/>
<line x1="602.70" y1="587.02" x2="602.70" y2="592.11" stroke="#000" stroke-width="0.9" />
<line x1="600.74" y1="587.02" x2="604.66" y2="587.02" stroke="#000" stroke-width="0.9" />
<line x1="600.74" y1="592.11" x2="604.66" y2="592.11" stroke="#000" stroke-width="0.9" />
<circle cx="605.11" cy="592.64" r="1.30" fill="#000"/>
<circle cx="600.99" cy="591.35" r="1.30" fill="#000"/>
<circle cx="600.29" cy="590.17" r="1.30" fill="#000"/>
<circle cx="605.13" cy="588.91" r="1.30" fill="#000"/>
<circle cx="602.36" cy="587.39" r="1.30" fill="#000"/>
<circle cx="600.59" cy="586.61" r="1.30" fill="#000"/>
<line x1="616.40" y1="518.33" x2="616.40" y2="528.51" stroke="#000" stroke-width="0.9" />
<line x1="614.44" y1="518.33" x2="618.36" y2="518.33" stroke="#000" stroke-width="0.9" />
<line x1="614.44" y1="528.51" x2="618.36" y2="528.51" stroke="#000" stroke-width="0.9" />
<circle cx="618.38" cy="529.29" r="1.30" fill="#000"/>
<circle cx="618.42" cy="527.01" r="1.30" fill="#000"/>
<circle cx="616.88" cy="525.22" r="1.30" fill="#000"/>
<circle cx="614.11" cy="522.39" r="1.30" fill="#000"/>
<circle cx="615.08" cy="520.13" r="1.30" fill="#000"/>
<circle cx="614.28" cy="516.90" r="1.30" fill="#000"/>
<line x1="624.00" y1="587.44" x2="624.00" y2="594.23" stroke="#000" stroke-width="0.9" />
<line x1="622.04" y1="587.44" x2="625.96" y2="587.44" stroke="#000" stroke-width="0.9" />
<line x1="622.04" y1="594.23" x2="625.96" y2="594.23" stroke="#000" stroke-width="0.9" />
<circle cx="624.04" cy="595.25" r="1.30" fill="#000"/>
<circle cx="621.55" cy="593.48" r="1.30" fill="#000"/>
<circle cx="621.47" cy="591.53" r="1.30" fill="#000"/>
<circle cx="625.78" cy="589.82" r="1.30" fill="#000"/>
<circle cx="622.59" cy="588.15" r="1.30" fill="#000"/>
<circle cx="626.18" cy="586.40" r="1.30" fill="#000"/>
<line x1="637.85" y1="524.27" x2="637.85" y2="534.44" stroke="#000" stroke-width="0.9" />
<line x1="635.86" y1="524.27" x2="639.84" y2="524.27" stroke="#000" stroke-width="0.9" />
<line x1="635.86" y1="534.44" x2="639.84" y2="534.44" stroke="#000" stroke-width="0.9" />
<circle cx="635.60" cy="535.53" r="1.30" fill="#000"/>
<circle cx="639.15" cy="533.32" r="1.30" fill="#000"/>
<circle cx="638.46" cy="530.61" r="1.30" fill="#000"/>
<circle cx="637.87" cy="527.61" r="1.30" fill="#000"/>
<circle cx="635.42" cy="525.74" r="1.30" fill="#000"/>
<circle cx="639.82" cy="523.34" r="1.30" fill="#000"/>
<line x1="645.40" y1="586.60" x2="645.40" y2="593.38" stroke="#000" stroke-width="0.9" />
<line x1="643.44" y1="586.60" x2="647.36" y2="586.60" stroke="#000" stroke-width="0.9" />
<line x1="643.44" y1="593.38" x2="647.36" y2="593.38" stroke="#000" stroke-width="0.9" />
<circle cx="647.15" cy="594.04" r="1.30" fill="#000"/>
<circle cx="648.05" cy="592.51" r="1.30" fill="#000"/>
<circle cx="645.19" cy="591.02" r="1.30" fill="#000"/>
<circle cx="645.61" cy="588.81" r="1.30" fill="#000"/>
<circle cx="647.71" cy="587.40" r="1.30" fill="#000"/>
<circle cx="642.80" cy="586.11" r="1.30" fill="#000"/>
<line x1="659.40" y1="520.88" x2="659.40" y2="532.75" stroke="#000" stroke-width="0.9" />
<line x1="657.50" y1="520.88" x2="661.30" y2="520.88" stroke="#000" stroke-width="0.9" />
<line x1="657.50" y1="532.75" x2="661.30" y2="532.75" stroke="#000" stroke-width="0.9" />
<circle cx="660.81" cy="534.29" r="1.30" fill="#000"/>
<circle cx="657.18" cy="531.56" r="1.30" fill="#000"/>
<circle cx="659.74" cy="527.73" r="1.30" fill="#000"/>
<circle cx="661.59" cy="525.30" r="1.30" fill="#000"/>
<circle cx="659.79" cy="521.94" r="1.30" fill="#000"/>
<circle cx="661.58" cy="519.57" r="1.30" fill="#000"/>
<line x1="666.70" y1="587.44" x2="666.70" y2="594.23" stroke="#000" stroke-width="0.9" />
<line x1="664.74" y1="587.44" x2="668.66" y2="587.44" stroke="#000" stroke-width="0.9" />
<line x1="664.74" y1="594.23" x2="668.66" y2="594.23" stroke="#000" stroke-width="0.9" />
<circle cx="665.02" cy="595.20" r="1.30" fill="#000"/>
<circle cx="663.91" cy="593.23" r="1.30" fill="#000"/>
<circle cx="664.31" cy="591.45" r="1.30" fill="#000"/>
<circle cx="667.01" cy="590.09" r="1.30" fill="#000"/>
<circle cx="664.80" cy="588.02" r="1.30" fill="#000"/>
<circle cx="669.04" cy="586.98" r="1.30" fill="#000"/>
<line x1="588.60" y1="510.20" x2="588.60" y2="596.00" stroke="#000" stroke-width="1.1" />
<line x1="588.10" y1="595.50" x2="673.00" y2="595.50" stroke="#000" stroke-width="1.1" />
<line x1="585.60" y1="595.50" x2="588.60" y2="595.50" stroke="#000" stroke-width="1.0" />
<text x="584.40" y="599.63" font-size="9.8" text-anchor="end" fill="#000" stroke="#000" stroke-width="0.2" style="" >0</text>
<line x1="585.60" y1="578.54" x2="588.60" y2="578.54" stroke="#000" stroke-width="1.0" />
<text x="584.40" y="582.67" font-size="9.8" text-anchor="end" fill="#000" stroke="#000" stroke-width="0.2" style="" >20</text>
<line x1="585.60" y1="561.58" x2="588.60" y2="561.58" stroke="#000" stroke-width="1.0" />
<text x="584.40" y="565.71" font-size="9.8" text-anchor="end" fill="#000" stroke="#000" stroke-width="0.2" style="" >40</text>
<line x1="585.60" y1="544.62" x2="588.60" y2="544.62" stroke="#000" stroke-width="1.0" />
<text x="584.40" y="548.75" font-size="9.8" text-anchor="end" fill="#000" stroke="#000" stroke-width="0.2" style="" >60</text>
<line x1="585.60" y1="527.66" x2="588.60" y2="527.66" stroke="#000" stroke-width="1.0" />
<text x="584.40" y="531.79" font-size="9.8" text-anchor="end" fill="#000" stroke="#000" stroke-width="0.2" style="" >80</text>
<line x1="585.60" y1="510.70" x2="588.60" y2="510.70" stroke="#000" stroke-width="1.0" />
<text x="584.40" y="514.83" font-size="9.8" text-anchor="end" fill="#000" stroke="#000" stroke-width="0.2" style="" >100</text>
<line x1="480.90" y1="493.70" x2="558.50" y2="493.70" stroke="#222" stroke-width="0.8" />
<path d="M478.90,493.70 L481.90,492.10 L481.90,495.30Z M560.50,493.70 L557.50,492.10 L557.50,495.30Z" fill="#222"/>
<line x1="589.30" y1="494.30" x2="668.40" y2="494.30" stroke="#222" stroke-width="0.8" />
<path d="M587.30,494.30 L590.30,492.70 L590.30,495.90Z M670.40,494.30 L667.40,492.70 L667.40,495.90Z" fill="#222"/>
<text x="521.70" y="491.55" font-size="9.85" text-anchor="middle" fill="#222" stroke="#222" stroke-width="0.2" style="" >1-first</text>
<text x="629.50" y="491.55" font-size="9.85" text-anchor="middle" fill="#222" stroke="#222" stroke-width="0.2" style="" >2-second</text>
<text x="494.40" y="513.48" font-size="6.9" text-anchor="middle" fill="#111" stroke="#111" stroke-width="0.2" style="" ><tspan style="font-style:italic">P</tspan>=0.0005</text>
<line x1="483.70" y1="515.10" x2="495.00" y2="515.10" stroke="#000" stroke-width="0.9" />
<text x="508.80" y="502.78" font-size="6.9" text-anchor="middle" fill="#111" stroke="#111" stroke-width="0.2" style="" ><tspan style="font-style:italic">P</tspan>&lt;0.0001</text>
<line x1="504.50" y1="504.30" x2="515.50" y2="504.30" stroke="#000" stroke-width="0.9" />
<text x="532.50" y="511.88" font-size="6.9" text-anchor="middle" fill="#111" stroke="#111" stroke-width="0.2" style="" ><tspan style="font-style:italic">P</tspan>&lt;0.0001</text>
<line x1="527.70" y1="514.20" x2="538.70" y2="514.20" stroke="#000" stroke-width="0.9" />
<text x="557.30" y="502.78" font-size="6.9" text-anchor="middle" fill="#111" stroke="#111" stroke-width="0.2" style="" ><tspan style="font-style:italic">P</tspan>&lt;0.0001</text>
<line x1="548.50" y1="504.30" x2="559.50" y2="504.30" stroke="#000" stroke-width="0.9" />
<text x="604.80" y="514.28" font-size="6.9" text-anchor="middle" fill="#111" stroke="#111" stroke-width="0.2" style="" ><tspan style="font-style:italic">P</tspan>&lt;0.0001</text>
<line x1="594.50" y1="516.10" x2="605.30" y2="516.10" stroke="#000" stroke-width="0.9" />
<text x="620.00" y="503.78" font-size="6.9" text-anchor="middle" fill="#111" stroke="#111" stroke-width="0.2" style="" ><tspan style="font-style:italic">P</tspan>&lt;0.0001</text>
<line x1="616.10" y1="505.70" x2="627.10" y2="505.70" stroke="#000" stroke-width="0.9" />
<text x="643.50" y="514.28" font-size="6.9" text-anchor="middle" fill="#111" stroke="#111" stroke-width="0.2" style="" ><tspan style="font-style:italic">P</tspan>&lt;0.0001</text>
<line x1="637.60" y1="516.10" x2="649.00" y2="516.10" stroke="#000" stroke-width="0.9" />
<text x="663.70" y="503.78" font-size="6.9" text-anchor="middle" fill="#111" stroke="#111" stroke-width="0.2" style="" ><tspan style="font-style:italic">P</tspan>&lt;0.0001</text>
<line x1="658.40" y1="505.70" x2="670.80" y2="505.70" stroke="#000" stroke-width="0.9" />
<text x="488.40" y="607.53" font-size="9.8" text-anchor="middle" fill="#000" stroke="#000" stroke-width="0.2" style="" >1</text>
<text x="509.30" y="607.53" font-size="9.8" text-anchor="middle" fill="#000" stroke="#000" stroke-width="0.2" style="" >2</text>
<text x="530.70" y="607.53" font-size="9.8" text-anchor="middle" fill="#000" stroke="#000" stroke-width="0.2" style="" >3</text>
<text x="598.30" y="607.53" font-size="9.8" text-anchor="middle" fill="#000" stroke="#000" stroke-width="0.2" style="" >1</text>
<text x="619.10" y="607.53" font-size="9.8" text-anchor="middle" fill="#000" stroke="#000" stroke-width="0.2" style="" >2</text>
<text x="640.80" y="607.53" font-size="9.8" text-anchor="middle" fill="#000" stroke="#000" stroke-width="0.2" style="" >3</text>
<text x="547.20" y="607.53" font-size="9.8" text-anchor="start" fill="#000" stroke="#000" stroke-width="0.2" style="" >4 mon</text>
<text x="657.50" y="607.53" font-size="9.8" text-anchor="start" fill="#000" stroke="#000" stroke-width="0.2" style="" >4 mon</text>
<line x1="484.60" y1="621.70" x2="484.60" y2="612.00" stroke="#ff2020" stroke-width="0.9" />
<path d="M482.70,612.70 L486.50,612.70 L484.60,608.80Z" fill="#ff2020"/>
<line x1="488.40" y1="621.70" x2="488.40" y2="612.00" stroke="#ff2020" stroke-width="0.9" />
<path d="M486.50,612.70 L490.30,612.70 L488.40,608.80Z" fill="#ff2020"/>
<line x1="492.20" y1="621.70" x2="492.20" y2="612.00" stroke="#ff2020" stroke-width="0.9" />
<path d="M490.30,612.70 L494.10,612.70 L492.20,608.80Z" fill="#ff2020"/>
<text x="490.30" y="631.29" font-size="9.7" text-anchor="middle" fill="#222" stroke="#222" stroke-width="0.2" style="" >pIpC</text>
<text transform="translate(459.63,551.00) rotate(-90)" font-size="9.8" text-anchor="middle" fill="#000" stroke="#000" stroke-width="0.2" style="">Donor chimerism in PB (%)</text>
<text x="0.70" y="652.54" font-size="14.3" style="font-weight:bold">K</text>
<rect x="45.00" y="656.10" width="7.40" height="7.40" fill="#2a00ff"/>
<rect x="45.00" y="666.60" width="7.40" height="7.40" fill="#ff2212"/>
<text x="55.40" y="663.35" font-size="9.85" text-anchor="start" fill="#000" stroke="#000" stroke-width="0.2" style="font-style:italic;" >Emp1<tspan font-size="5.61" dy="-3.35">fl/fl</tspan><tspan dy="3.35"></tspan></text>
<text x="55.40" y="673.85" font-size="9.85" text-anchor="start" fill="#000" stroke="#000" stroke-width="0.2" style="font-style:italic;" >Emp1<tspan font-size="5.61" dy="-3.35">fl/fl</tspan><tspan dy="3.35">,Mx1-Cre</tspan></text>
<rect x="49.30" y="704.38" width="9.80" height="74.73" fill="#2a00ff"/>
<rect x="59.80" y="766.61" width="9.90" height="12.49" fill="#ff2212"/>
<rect x="78.10" y="712.92" width="9.90" height="66.18" fill="#2a00ff"/>
<rect x="88.40" y="763.09" width="9.70" height="16.01" fill="#ff2212"/>
<rect x="106.70" y="719.75" width="9.90" height="59.35" fill="#2a00ff"/>
<rect x="117.30" y="769.81" width="9.40" height="9.29" fill="#ff2212"/>
<line x1="54.20" y1="701.17" x2="54.20" y2="707.58" stroke="#000" stroke-width="0.9" />
<line x1="51.46" y1="701.17" x2="56.94" y2="701.17" stroke="#000" stroke-width="0.9" />
<line x1="51.46" y1="707.58" x2="56.94" y2="707.58" stroke="#000" stroke-width="0.9" />
<circle cx="50.71" cy="708.34" r="1.55" fill="#000"/>
<circle cx="52.66" cy="706.58" r="1.55" fill="#000"/>
<circle cx="57.08" cy="705.06" r="1.55" fill="#000"/>
<circle cx="54.86" cy="703.93" r="1.55" fill="#000"/>
<circle cx="56.42" cy="702.04" r="1.55" fill="#000"/>
<circle cx="51.68" cy="700.10" r="1.55" fill="#000"/>
<line x1="64.75" y1="761.27" x2="64.75" y2="771.95" stroke="#000" stroke-width="0.9" />
<line x1="61.98" y1="761.27" x2="67.52" y2="761.27" stroke="#000" stroke-width="0.9" />
<line x1="61.98" y1="771.95" x2="67.52" y2="771.95" stroke="#000" stroke-width="0.9" />
<circle cx="61.59" cy="773.70" r="1.55" fill="#000"/>
<circle cx="65.11" cy="770.83" r="1.55" fill="#000"/>
<circle cx="68.13" cy="767.59" r="1.55" fill="#000"/>
<circle cx="66.60" cy="765.44" r="1.55" fill="#000"/>
<circle cx="68.27" cy="762.19" r="1.55" fill="#000"/>
<circle cx="61.51" cy="760.05" r="1.55" fill="#000"/>
<line x1="83.05" y1="706.51" x2="83.05" y2="719.32" stroke="#000" stroke-width="0.9" />
<line x1="80.28" y1="706.51" x2="85.82" y2="706.51" stroke="#000" stroke-width="0.9" />
<line x1="80.28" y1="719.32" x2="85.82" y2="719.32" stroke="#000" stroke-width="0.9" />
<circle cx="86.70" cy="721.32" r="1.55" fill="#000"/>
<circle cx="84.94" cy="716.97" r="1.55" fill="#000"/>
<circle cx="79.52" cy="714.60" r="1.55" fill="#000"/>
<circle cx="86.22" cy="711.46" r="1.55" fill="#000"/>
<circle cx="79.92" cy="707.55" r="1.55" fill="#000"/>
<circle cx="83.45" cy="704.41" r="1.55" fill="#000"/>
<line x1="93.25" y1="758.82" x2="93.25" y2="767.36" stroke="#000" stroke-width="0.9" />
<line x1="90.53" y1="758.82" x2="95.97" y2="758.82" stroke="#000" stroke-width="0.9" />
<line x1="90.53" y1="767.36" x2="95.97" y2="767.36" stroke="#000" stroke-width="0.9" />
<circle cx="95.94" cy="768.26" r="1.55" fill="#000"/>
<circle cx="91.03" cy="766.57" r="1.55" fill="#000"/>
<circle cx="95.03" cy="764.28" r="1.55" fill="#000"/>
<circle cx="90.25" cy="762.49" r="1.55" fill="#000"/>
<circle cx="96.18" cy="759.91" r="1.55" fill="#000"/>
<circle cx="89.82" cy="757.85" r="1.55" fill="#000"/>
<line x1="111.65" y1="712.27" x2="111.65" y2="727.22" stroke="#000" stroke-width="0.9" />
<line x1="108.88" y1="712.27" x2="114.42" y2="712.27" stroke="#000" stroke-width="0.9" />
<line x1="108.88" y1="727.22" x2="114.42" y2="727.22" stroke="#000" stroke-width="0.9" />
<circle cx="115.58" cy="728.58" r="1.55" fill="#000"/>
<circle cx="108.37" cy="724.90" r="1.55" fill="#000"/>
<circle cx="109.95" cy="721.24" r="1.55" fill="#000"/>
<circle cx="111.71" cy="717.59" r="1.55" fill="#000"/>
<circle cx="108.75" cy="714.94" r="1.55" fill="#000"/>
<circle cx="114.50" cy="709.80" r="1.55" fill="#000"/>
<line x1="122.00" y1="767.68" x2="122.00" y2="771.95" stroke="#000" stroke-width="0.9" />
<line x1="119.37" y1="767.68" x2="124.63" y2="767.68" stroke="#000" stroke-width="0.9" />
<line x1="119.37" y1="771.95" x2="124.63" y2="771.95" stroke="#000" stroke-width="0.9" />
<circle cx="118.85" cy="772.36" r="1.55" fill="#000"/>
<circle cx="123.44" cy="771.45" r="1.55" fill="#000"/>
<circle cx="122.91" cy="770.32" r="1.55" fill="#000"/>
<circle cx="124.37" cy="769.49" r="1.55" fill="#000"/>
<circle cx="125.09" cy="767.98" r="1.55" fill="#000"/>
<circle cx="119.35" cy="767.39" r="1.55" fill="#000"/>
<line x1="45.40" y1="693.20" x2="45.40" y2="779.60" stroke="#000" stroke-width="1.1" />
<line x1="44.90" y1="779.10" x2="130.20" y2="779.10" stroke="#000" stroke-width="1.1" />
<line x1="42.40" y1="779.10" x2="45.40" y2="779.10" stroke="#000" stroke-width="1.0" />
<text x="41.20" y="783.23" font-size="9.8" text-anchor="end" fill="#000" stroke="#000" stroke-width="0.2" style="" >0</text>
<line x1="42.40" y1="757.75" x2="45.40" y2="757.75" stroke="#000" stroke-width="1.0" />
<text x="41.20" y="761.88" font-size="9.8" text-anchor="end" fill="#000" stroke="#000" stroke-width="0.2" style="" >20</text>
<line x1="42.40" y1="736.40" x2="45.40" y2="736.40" stroke="#000" stroke-width="1.0" />
<text x="41.20" y="740.53" font-size="9.8" text-anchor="end" fill="#000" stroke="#000" stroke-width="0.2" style="" >40</text>
<line x1="42.40" y1="715.05" x2="45.40" y2="715.05" stroke="#000" stroke-width="1.0" />
<text x="41.20" y="719.18" font-size="9.8" text-anchor="end" fill="#000" stroke="#000" stroke-width="0.2" style="" >60</text>
<line x1="42.40" y1="693.70" x2="45.40" y2="693.70" stroke="#000" stroke-width="1.0" />
<text x="41.20" y="697.83" font-size="9.8" text-anchor="end" fill="#000" stroke="#000" stroke-width="0.2" style="" >80</text>
<text x="62.80" y="694.68" font-size="6.9" text-anchor="middle" fill="#111" stroke="#111" stroke-width="0.2" style="" ><tspan style="font-style:italic">P</tspan>&lt;0.0001</text>
<line x1="54.40" y1="697.60" x2="68.00" y2="697.60" stroke="#000" stroke-width="0.9" />
<text x="88.00" y="685.28" font-size="6.9" text-anchor="middle" fill="#111" stroke="#111" stroke-width="0.2" style="" ><tspan style="font-style:italic">P</tspan>&lt;0.0001</text>
<line x1="82.10" y1="688.00" x2="96.20" y2="688.00" stroke="#000" stroke-width="0.9" />
<text x="116.20" y="704.78" font-size="6.9" text-anchor="middle" fill="#111" stroke="#111" stroke-width="0.2" style="" ><tspan style="font-style:italic">P</tspan>&lt;0.0001</text>
<line x1="110.30" y1="707.00" x2="125.50" y2="707.00" stroke="#000" stroke-width="0.9" />
<text transform="translate(69.80,786.30) rotate(-45)" font-size="9.3" text-anchor="end" stroke="#000" stroke-width="0.2" style="">Myeloid</text>
<text transform="translate(97.80,786.30) rotate(-45)" font-size="9.3" text-anchor="end" stroke="#000" stroke-width="0.2" style="">B cells</text>
<text transform="translate(124.80,786.30) rotate(-45)" font-size="9.3" text-anchor="end" stroke="#000" stroke-width="0.2" style="">T cells</text>
<line x1="42.20" y1="810.60" x2="123.90" y2="810.60" stroke="#000" stroke-width="0.8" />
<text x="80.40" y="820.53" font-size="9.8" text-anchor="middle" fill="#000" stroke="#000" stroke-width="0.2" style="" >4 mon (1<tspan font-size="5.59" dy="-3.33">st</tspan><tspan dy="3.33">)</tspan></text>
<text transform="translate(21.13,736.20) rotate(-90)" font-size="9.8" text-anchor="middle" fill="#000" stroke="#000" stroke-width="0.2" style="">Donor chimerism in PB (%)</text>
<rect x="212.20" y="656.10" width="7.40" height="7.40" fill="#2a00ff"/>
<rect x="212.20" y="666.60" width="7.40" height="7.40" fill="#ff2212"/>
<text x="222.60" y="663.35" font-size="9.85" text-anchor="start" fill="#000" stroke="#000" stroke-width="0.2" style="font-style:italic;" >Emp1<tspan font-size="5.61" dy="-3.35">fl/fl</tspan><tspan dy="3.35"></tspan></text>
<text x="222.60" y="673.85" font-size="9.85" text-anchor="start" fill="#000" stroke="#000" stroke-width="0.2" style="font-style:italic;" >Emp1<tspan font-size="5.61" dy="-3.35">fl/fl</tspan><tspan dy="3.35">,Mx1-Cre</tspan></text>
<rect x="216.20" y="723.59" width="9.60" height="55.51" fill="#2a00ff"/>
<rect x="226.20" y="775.34" width="9.40" height="3.76" fill="#ff2212"/>
<rect x="245.00" y="726.15" width="9.90" height="52.95" fill="#2a00ff"/>
<rect x="255.10" y="773.12" width="9.90" height="5.98" fill="#ff2212"/>
<rect x="274.30" y="706.08" width="9.40" height="73.02" fill="#2a00ff"/>
<rect x="284.20" y="773.12" width="9.40" height="5.98" fill="#ff2212"/>
<line x1="221.00" y1="715.90" x2="221.00" y2="731.28" stroke="#000" stroke-width="0.9" />
<line x1="218.31" y1="715.90" x2="223.69" y2="715.90" stroke="#000" stroke-width="0.9" />
<line x1="218.31" y1="731.28" x2="223.69" y2="731.28" stroke="#000" stroke-width="0.9" />
<circle cx="221.17" cy="732.72" r="1.55" fill="#000"/>
<circle cx="218.23" cy="728.67" r="1.55" fill="#000"/>
<circle cx="219.53" cy="725.17" r="1.55" fill="#000"/>
<circle cx="222.93" cy="721.49" r="1.55" fill="#000"/>
<circle cx="217.73" cy="718.61" r="1.55" fill="#000"/>
<circle cx="224.12" cy="714.24" r="1.55" fill="#000"/>
<line x1="230.90" y1="774.06" x2="230.90" y2="776.62" stroke="#000" stroke-width="0.9" />
<line x1="228.27" y1="774.06" x2="233.53" y2="774.06" stroke="#000" stroke-width="0.9" />
<line x1="228.27" y1="776.62" x2="233.53" y2="776.62" stroke="#000" stroke-width="0.9" />
<circle cx="233.17" cy="777.08" r="1.55" fill="#000"/>
<circle cx="228.47" cy="776.16" r="1.55" fill="#000"/>
<circle cx="233.50" cy="775.69" r="1.55" fill="#000"/>
<circle cx="231.01" cy="775.10" r="1.55" fill="#000"/>
<circle cx="233.98" cy="774.46" r="1.55" fill="#000"/>
<circle cx="233.85" cy="773.71" r="1.55" fill="#000"/>
<line x1="249.95" y1="721.88" x2="249.95" y2="730.42" stroke="#000" stroke-width="0.9" />
<line x1="247.18" y1="721.88" x2="252.72" y2="721.88" stroke="#000" stroke-width="0.9" />
<line x1="247.18" y1="730.42" x2="252.72" y2="730.42" stroke="#000" stroke-width="0.9" />
<circle cx="250.72" cy="731.51" r="1.55" fill="#000"/>
<circle cx="246.81" cy="729.62" r="1.55" fill="#000"/>
<circle cx="253.33" cy="727.03" r="1.55" fill="#000"/>
<circle cx="253.25" cy="725.37" r="1.55" fill="#000"/>
<circle cx="246.97" cy="723.21" r="1.55" fill="#000"/>
<circle cx="251.75" cy="720.63" r="1.55" fill="#000"/>
<line x1="260.05" y1="771.84" x2="260.05" y2="774.40" stroke="#000" stroke-width="0.9" />
<line x1="257.28" y1="771.84" x2="262.82" y2="771.84" stroke="#000" stroke-width="0.9" />
<line x1="257.28" y1="774.40" x2="262.82" y2="774.40" stroke="#000" stroke-width="0.9" />
<circle cx="256.93" cy="774.75" r="1.55" fill="#000"/>
<circle cx="258.10" cy="774.19" r="1.55" fill="#000"/>
<circle cx="256.44" cy="773.33" r="1.55" fill="#000"/>
<circle cx="262.93" cy="772.81" r="1.55" fill="#000"/>
<circle cx="263.46" cy="772.02" r="1.55" fill="#000"/>
<circle cx="260.80" cy="771.65" r="1.55" fill="#000"/>
<line x1="279.00" y1="703.52" x2="279.00" y2="708.64" stroke="#000" stroke-width="0.9" />
<line x1="276.37" y1="703.52" x2="281.63" y2="703.52" stroke="#000" stroke-width="0.9" />
<line x1="276.37" y1="708.64" x2="281.63" y2="708.64" stroke="#000" stroke-width="0.9" />
<circle cx="276.04" cy="709.20" r="1.55" fill="#000"/>
<circle cx="277.06" cy="708.08" r="1.55" fill="#000"/>
<circle cx="276.04" cy="706.48" r="1.55" fill="#000"/>
<circle cx="281.70" cy="705.42" r="1.55" fill="#000"/>
<circle cx="282.35" cy="704.45" r="1.55" fill="#000"/>
<circle cx="278.88" cy="702.64" r="1.55" fill="#000"/>
<line x1="288.90" y1="770.56" x2="288.90" y2="775.68" stroke="#000" stroke-width="0.9" />
<line x1="286.27" y1="770.56" x2="291.53" y2="770.56" stroke="#000" stroke-width="0.9" />
<line x1="286.27" y1="775.68" x2="291.53" y2="775.68" stroke="#000" stroke-width="0.9" />
<circle cx="285.76" cy="776.29" r="1.55" fill="#000"/>
<circle cx="292.23" cy="774.86" r="1.55" fill="#000"/>
<circle cx="291.16" cy="773.56" r="1.55" fill="#000"/>
<circle cx="286.77" cy="772.57" r="1.55" fill="#000"/>
<circle cx="289.34" cy="771.32" r="1.55" fill="#000"/>
<circle cx="286.00" cy="769.73" r="1.55" fill="#000"/>
<line x1="211.90" y1="693.20" x2="211.90" y2="779.60" stroke="#000" stroke-width="1.1" />
<line x1="211.40" y1="779.10" x2="295.00" y2="779.10" stroke="#000" stroke-width="1.1" />
<line x1="208.90" y1="779.10" x2="211.90" y2="779.10" stroke="#000" stroke-width="1.0" />
<text x="207.70" y="783.23" font-size="9.8" text-anchor="end" fill="#000" stroke="#000" stroke-width="0.2" style="" >0</text>
<line x1="208.90" y1="762.02" x2="211.90" y2="762.02" stroke="#000" stroke-width="1.0" />
<text x="207.70" y="766.15" font-size="9.8" text-anchor="end" fill="#000" stroke="#000" stroke-width="0.2" style="" >20</text>
<line x1="208.90" y1="744.94" x2="211.90" y2="744.94" stroke="#000" stroke-width="1.0" />
<text x="207.70" y="749.07" font-size="9.8" text-anchor="end" fill="#000" stroke="#000" stroke-width="0.2" style="" >40</text>
<line x1="208.90" y1="727.86" x2="211.90" y2="727.86" stroke="#000" stroke-width="1.0" />
<text x="207.70" y="731.99" font-size="9.8" text-anchor="end" fill="#000" stroke="#000" stroke-width="0.2" style="" >60</text>
<line x1="208.90" y1="710.78" x2="211.90" y2="710.78" stroke="#000" stroke-width="1.0" />
<text x="207.70" y="714.91" font-size="9.8" text-anchor="end" fill="#000" stroke="#000" stroke-width="0.2" style="" >80</text>
<line x1="208.90" y1="693.70" x2="211.90" y2="693.70" stroke="#000" stroke-width="1.0" />
<text x="207.70" y="697.83" font-size="9.8" text-anchor="end" fill="#000" stroke="#000" stroke-width="0.2" style="" >100</text>
<text x="228.60" y="698.68" font-size="6.9" text-anchor="middle" fill="#111" stroke="#111" stroke-width="0.2" style="" ><tspan style="font-style:italic">P</tspan>&lt;0.0001</text>
<line x1="218.00" y1="700.40" x2="232.60" y2="700.40" stroke="#000" stroke-width="0.9" />
<text x="254.20" y="713.38" font-size="6.9" text-anchor="middle" fill="#111" stroke="#111" stroke-width="0.2" style="" ><tspan style="font-style:italic">P</tspan>&lt;0.0001</text>
<line x1="245.70" y1="715.60" x2="260.30" y2="715.60" stroke="#000" stroke-width="0.9" />
<text x="281.70" y="695.38" font-size="6.9" text-anchor="middle" fill="#111" stroke="#111" stroke-width="0.2" style="" ><tspan style="font-style:italic">P</tspan>&lt;0.0001</text>
<line x1="275.50" y1="698.00" x2="290.30" y2="698.00" stroke="#000" stroke-width="0.9" />
<text transform="translate(235.80,786.30) rotate(-45)" font-size="9.3" text-anchor="end" stroke="#000" stroke-width="0.2" style="">Myeloid</text>
<text transform="translate(264.80,786.30) rotate(-45)" font-size="9.3" text-anchor="end" stroke="#000" stroke-width="0.2" style="">B cells</text>
<text transform="translate(292.30,786.30) rotate(-45)" font-size="9.3" text-anchor="end" stroke="#000" stroke-width="0.2" style="">T cells</text>
<line x1="210.50" y1="810.60" x2="290.80" y2="810.60" stroke="#000" stroke-width="0.8" />
<text x="248.50" y="820.53" font-size="9.8" text-anchor="middle" fill="#000" stroke="#000" stroke-width="0.2" style="" >4 mon (2<tspan font-size="5.59" dy="-3.33">nd</tspan><tspan dy="3.33">)</tspan></text>
<text transform="translate(186.33,736.20) rotate(-90)" font-size="9.8" text-anchor="middle" fill="#000" stroke="#000" stroke-width="0.2" style="">Donor chimerism in PB (%)</text>
<text x="329.50" y="652.74" font-size="14.3" style="font-weight:bold">L</text>
<rect x="368.60" y="655.90" width="7.00" height="7.00" fill="#2a00ff"/>
<rect x="368.60" y="666.30" width="7.00" height="7.00" fill="#ff2212"/>
<text x="378.60" y="662.95" font-size="9.85" text-anchor="start" fill="#000" stroke="#000" stroke-width="0.2" style="font-style:italic;" >Emp1<tspan font-size="5.61" dy="-3.35">fl/fl</tspan><tspan dy="3.35"></tspan></text>
<text x="378.60" y="673.35" font-size="9.85" text-anchor="start" fill="#000" stroke="#000" stroke-width="0.2" style="font-style:italic;" >Emp1<tspan font-size="5.61" dy="-3.35">fl/fl</tspan><tspan dy="3.35">,Mx1-Cre</tspan></text>
<rect x="373.30" y="711.85" width="10.30" height="67.25" fill="#2a00ff"/>
<rect x="383.80" y="765.76" width="10.30" height="13.34" fill="#ff2212"/>
<rect x="404.10" y="713.45" width="10.50" height="65.65" fill="#2a00ff"/>
<rect x="415.10" y="765.76" width="10.00" height="13.34" fill="#ff2212"/>
<rect x="435.60" y="718.79" width="10.50" height="60.31" fill="#2a00ff"/>
<rect x="446.60" y="758.28" width="10.00" height="20.82" fill="#ff2212"/>
<rect x="467.10" y="721.99" width="10.50" height="57.11" fill="#2a00ff"/>
<rect x="477.60" y="767.89" width="10.60" height="11.21" fill="#ff2212"/>
<line x1="378.45" y1="708.64" x2="378.45" y2="715.05" stroke="#000" stroke-width="0.9" />
<line x1="375.57" y1="708.64" x2="381.33" y2="708.64" stroke="#000" stroke-width="0.9" />
<line x1="375.57" y1="715.05" x2="381.33" y2="715.05" stroke="#000" stroke-width="0.9" />
<circle cx="380.39" cy="715.79" r="1.55" fill="#000"/>
<circle cx="374.57" cy="713.92" r="1.55" fill="#000"/>
<circle cx="381.98" cy="712.97" r="1.55" fill="#000"/>
<circle cx="376.49" cy="711.14" r="1.55" fill="#000"/>
<circle cx="378.59" cy="709.37" r="1.55" fill="#000"/>
<circle cx="378.68" cy="707.79" r="1.55" fill="#000"/>
<line x1="388.95" y1="764.69" x2="388.95" y2="766.82" stroke="#000" stroke-width="0.9" />
<line x1="386.07" y1="764.69" x2="391.83" y2="764.69" stroke="#000" stroke-width="0.9" />
<line x1="386.07" y1="766.82" x2="391.83" y2="766.82" stroke="#000" stroke-width="0.9" />
<circle cx="392.96" cy="767.07" r="1.55" fill="#000"/>
<circle cx="386.01" cy="766.66" r="1.55" fill="#000"/>
<circle cx="386.51" cy="766.15" r="1.55" fill="#000"/>
<circle cx="391.29" cy="765.59" r="1.55" fill="#000"/>
<circle cx="391.80" cy="764.99" r="1.55" fill="#000"/>
<circle cx="389.42" cy="764.39" r="1.55" fill="#000"/>
<line x1="409.35" y1="707.04" x2="409.35" y2="719.85" stroke="#000" stroke-width="0.9" />
<line x1="406.41" y1="707.04" x2="412.29" y2="707.04" stroke="#000" stroke-width="0.9" />
<line x1="406.41" y1="719.85" x2="412.29" y2="719.85" stroke="#000" stroke-width="0.9" />
<circle cx="408.90" cy="721.35" r="1.55" fill="#000"/>
<circle cx="406.04" cy="718.01" r="1.55" fill="#000"/>
<circle cx="411.88" cy="715.27" r="1.55" fill="#000"/>
<circle cx="410.23" cy="712.26" r="1.55" fill="#000"/>
<circle cx="413.00" cy="709.04" r="1.55" fill="#000"/>
<circle cx="406.49" cy="704.84" r="1.55" fill="#000"/>
<line x1="420.10" y1="760.42" x2="420.10" y2="771.09" stroke="#000" stroke-width="0.9" />
<line x1="417.30" y1="760.42" x2="422.90" y2="760.42" stroke="#000" stroke-width="0.9" />
<line x1="417.30" y1="771.09" x2="422.90" y2="771.09" stroke="#000" stroke-width="0.9" />
<circle cx="422.93" cy="772.47" r="1.55" fill="#000"/>
<circle cx="417.26" cy="769.74" r="1.55" fill="#000"/>
<circle cx="420.87" cy="767.24" r="1.55" fill="#000"/>
<circle cx="419.74" cy="764.24" r="1.55" fill="#000"/>
<circle cx="423.30" cy="761.48" r="1.55" fill="#000"/>
<circle cx="416.39" cy="758.80" r="1.55" fill="#000"/>
<line x1="440.85" y1="711.31" x2="440.85" y2="726.26" stroke="#000" stroke-width="0.9" />
<line x1="437.91" y1="711.31" x2="443.79" y2="711.31" stroke="#000" stroke-width="0.9" />
<line x1="437.91" y1="726.26" x2="443.79" y2="726.26" stroke="#000" stroke-width="0.9" />
<circle cx="444.67" cy="728.26" r="1.55" fill="#000"/>
<circle cx="438.00" cy="723.52" r="1.55" fill="#000"/>
<circle cx="444.71" cy="721.10" r="1.55" fill="#000"/>
<circle cx="443.44" cy="716.09" r="1.55" fill="#000"/>
<circle cx="441.31" cy="714.06" r="1.55" fill="#000"/>
<circle cx="437.56" cy="709.17" r="1.55" fill="#000"/>
<line x1="451.60" y1="750.81" x2="451.60" y2="765.76" stroke="#000" stroke-width="0.9" />
<line x1="448.80" y1="750.81" x2="454.40" y2="750.81" stroke="#000" stroke-width="0.9" />
<line x1="448.80" y1="765.76" x2="454.40" y2="765.76" stroke="#000" stroke-width="0.9" />
<circle cx="449.54" cy="768.31" r="1.55" fill="#000"/>
<circle cx="455.43" cy="764.49" r="1.55" fill="#000"/>
<circle cx="455.20" cy="759.80" r="1.55" fill="#000"/>
<circle cx="447.92" cy="756.68" r="1.55" fill="#000"/>
<circle cx="451.79" cy="752.56" r="1.55" fill="#000"/>
<circle cx="453.79" cy="748.79" r="1.55" fill="#000"/>
<line x1="472.35" y1="708.11" x2="472.35" y2="735.87" stroke="#000" stroke-width="0.9" />
<line x1="469.41" y1="708.11" x2="475.29" y2="708.11" stroke="#000" stroke-width="0.9" />
<line x1="469.41" y1="735.87" x2="475.29" y2="735.87" stroke="#000" stroke-width="0.9" />
<circle cx="471.87" cy="738.74" r="1.55" fill="#000"/>
<circle cx="475.55" cy="732.83" r="1.55" fill="#000"/>
<circle cx="474.07" cy="726.10" r="1.55" fill="#000"/>
<circle cx="476.20" cy="719.89" r="1.55" fill="#000"/>
<circle cx="468.65" cy="710.26" r="1.55" fill="#000"/>
<circle cx="469.38" cy="703.10" r="1.55" fill="#000"/>
<line x1="482.90" y1="762.55" x2="482.90" y2="773.23" stroke="#000" stroke-width="0.9" />
<line x1="479.93" y1="762.55" x2="485.87" y2="762.55" stroke="#000" stroke-width="0.9" />
<line x1="479.93" y1="773.23" x2="485.87" y2="773.23" stroke="#000" stroke-width="0.9" />
<circle cx="479.36" cy="774.49" r="1.55" fill="#000"/>
<circle cx="484.94" cy="771.38" r="1.55" fill="#000"/>
<circle cx="479.92" cy="769.37" r="1.55" fill="#000"/>
<circle cx="483.08" cy="767.12" r="1.55" fill="#000"/>
<circle cx="479.56" cy="763.88" r="1.55" fill="#000"/>
<circle cx="483.46" cy="760.86" r="1.55" fill="#000"/>
<line x1="368.80" y1="693.20" x2="368.80" y2="779.60" stroke="#000" stroke-width="1.1" />
<line x1="368.30" y1="779.10" x2="488.20" y2="779.10" stroke="#000" stroke-width="1.1" />
<line x1="365.80" y1="779.10" x2="368.80" y2="779.10" stroke="#000" stroke-width="1.0" />
<text x="364.60" y="783.23" font-size="9.8" text-anchor="end" fill="#000" stroke="#000" stroke-width="0.2" style="" >0</text>
<line x1="365.80" y1="757.75" x2="368.80" y2="757.75" stroke="#000" stroke-width="1.0" />
<text x="364.60" y="761.88" font-size="9.8" text-anchor="end" fill="#000" stroke="#000" stroke-width="0.2" style="" >20</text>
<line x1="365.80" y1="736.40" x2="368.80" y2="736.40" stroke="#000" stroke-width="1.0" />
<text x="364.60" y="740.53" font-size="9.8" text-anchor="end" fill="#000" stroke="#000" stroke-width="0.2" style="" >40</text>
<line x1="365.80" y1="715.05" x2="368.80" y2="715.05" stroke="#000" stroke-width="1.0" />
<text x="364.60" y="719.18" font-size="9.8" text-anchor="end" fill="#000" stroke="#000" stroke-width="0.2" style="" >60</text>
<line x1="365.80" y1="693.70" x2="368.80" y2="693.70" stroke="#000" stroke-width="1.0" />
<text x="364.60" y="697.83" font-size="9.8" text-anchor="end" fill="#000" stroke="#000" stroke-width="0.2" style="" >80</text>
<text x="386.60" y="701.28" font-size="6.9" text-anchor="middle" fill="#111" stroke="#111" stroke-width="0.2" style="" ><tspan style="font-style:italic">P</tspan>&lt;0.0001</text>
<line x1="378.30" y1="703.60" x2="393.00" y2="703.60" stroke="#000" stroke-width="0.9" />
<text x="416.30" y="693.48" font-size="6.9" text-anchor="middle" fill="#111" stroke="#111" stroke-width="0.2" style="" ><tspan style="font-style:italic">P</tspan>&lt;0.0001</text>
<line x1="410.60" y1="695.70" x2="425.10" y2="695.70" stroke="#000" stroke-width="0.9" />
<text x="447.50" y="700.78" font-size="6.9" text-anchor="middle" fill="#111" stroke="#111" stroke-width="0.2" style="" ><tspan style="font-style:italic">P</tspan>&lt;0.0001</text>
<line x1="439.50" y1="702.30" x2="454.00" y2="702.30" stroke="#000" stroke-width="0.9" />
<text x="476.10" y="693.48" font-size="6.9" text-anchor="middle" fill="#111" stroke="#111" stroke-width="0.2" style="" ><tspan style="font-style:italic">P</tspan>&lt;0.0001</text>
<line x1="471.10" y1="695.70" x2="485.50" y2="695.70" stroke="#000" stroke-width="0.9" />
<text x="383.70" y="791.13" font-size="9.8" text-anchor="middle" fill="#000" stroke="#000" stroke-width="0.2" style="" >BM</text>
<text x="416.20" y="791.13" font-size="9.8" text-anchor="middle" fill="#000" stroke="#000" stroke-width="0.2" style="" >LK</text>
<text x="446.10" y="791.13" font-size="9.8" text-anchor="middle" fill="#000" stroke="#000" stroke-width="0.2" style="" >LSK</text>
<text x="477.80" y="791.13" font-size="9.8" text-anchor="middle" fill="#000" stroke="#000" stroke-width="0.2" style="" >HSCs</text>
<line x1="370.70" y1="794.20" x2="486.80" y2="794.20" stroke="#000" stroke-width="0.8" />
<text x="429.50" y="806.43" font-size="9.8" text-anchor="middle" fill="#000" stroke="#000" stroke-width="0.2" style="" >4 mon (1<tspan font-size="5.59" dy="-3.33">st</tspan><tspan dy="3.33">)</tspan></text>
<text transform="translate(344.53,735.80) rotate(-90)" font-size="9.8" text-anchor="middle" fill="#000" stroke="#000" stroke-width="0.2" style="">Donor chimerism in BM (%)</text>
<rect x="549.10" y="659.30" width="7.00" height="7.00" fill="#2a00ff"/>
<rect x="549.10" y="669.00" width="7.00" height="7.00" fill="#ff2212"/>
<text x="559.10" y="666.35" font-size="9.85" text-anchor="start" fill="#000" stroke="#000" stroke-width="0.2" style="font-style:italic;" >Emp1<tspan font-size="5.61" dy="-3.35">fl/fl</tspan><tspan dy="3.35"></tspan></text>
<text x="559.10" y="676.05" font-size="9.85" text-anchor="start" fill="#000" stroke="#000" stroke-width="0.2" style="font-style:italic;" >Emp1<tspan font-size="5.61" dy="-3.35">fl/fl</tspan><tspan dy="3.35">,Mx1-Cre</tspan></text>
<rect x="556.20" y="710.80" width="10.80" height="68.40" fill="#2a00ff"/>
<rect x="567.50" y="769.80" width="10.30" height="9.40" fill="#ff2212"/>
<rect x="587.80" y="720.21" width="10.80" height="59.00" fill="#2a00ff"/>
<rect x="598.60" y="770.82" width="10.00" height="8.38" fill="#ff2212"/>
<rect x="618.80" y="724.48" width="10.30" height="54.72" fill="#2a00ff"/>
<rect x="629.60" y="770.65" width="10.30" height="8.55" fill="#ff2212"/>
<rect x="649.90" y="724.48" width="10.80" height="54.72" fill="#2a00ff"/>
<rect x="661.20" y="773.22" width="10.30" height="5.99" fill="#ff2212"/>
<line x1="561.60" y1="708.24" x2="561.60" y2="713.37" stroke="#000" stroke-width="0.9" />
<line x1="558.58" y1="708.24" x2="564.62" y2="708.24" stroke="#000" stroke-width="0.9" />
<line x1="558.58" y1="713.37" x2="564.62" y2="713.37" stroke="#000" stroke-width="0.9" />
<circle cx="557.33" cy="713.87" r="1.55" fill="#000"/>
<circle cx="559.01" cy="712.43" r="1.55" fill="#000"/>
<circle cx="561.73" cy="711.38" r="1.55" fill="#000"/>
<circle cx="565.61" cy="709.96" r="1.55" fill="#000"/>
<circle cx="561.60" cy="709.05" r="1.55" fill="#000"/>
<circle cx="558.02" cy="707.48" r="1.55" fill="#000"/>
<line x1="572.65" y1="768.09" x2="572.65" y2="771.50" stroke="#000" stroke-width="0.9" />
<line x1="569.77" y1="768.09" x2="575.53" y2="768.09" stroke="#000" stroke-width="0.9" />
<line x1="569.77" y1="771.50" x2="575.53" y2="771.50" stroke="#000" stroke-width="0.9" />
<circle cx="568.89" cy="771.91" r="1.55" fill="#000"/>
<circle cx="575.76" cy="771.15" r="1.55" fill="#000"/>
<circle cx="570.95" cy="770.13" r="1.55" fill="#000"/>
<circle cx="572.82" cy="769.21" r="1.55" fill="#000"/>
<circle cx="576.75" cy="768.60" r="1.55" fill="#000"/>
<circle cx="569.69" cy="767.45" r="1.55" fill="#000"/>
<line x1="593.20" y1="716.79" x2="593.20" y2="723.62" stroke="#000" stroke-width="0.9" />
<line x1="590.18" y1="716.79" x2="596.22" y2="716.79" stroke="#000" stroke-width="0.9" />
<line x1="590.18" y1="723.62" x2="596.22" y2="723.62" stroke="#000" stroke-width="0.9" />
<circle cx="589.76" cy="724.63" r="1.55" fill="#000"/>
<circle cx="590.44" cy="723.17" r="1.55" fill="#000"/>
<circle cx="596.36" cy="721.36" r="1.55" fill="#000"/>
<circle cx="589.77" cy="719.17" r="1.55" fill="#000"/>
<circle cx="595.25" cy="717.48" r="1.55" fill="#000"/>
<circle cx="592.95" cy="715.72" r="1.55" fill="#000"/>
<line x1="603.60" y1="769.11" x2="603.60" y2="772.53" stroke="#000" stroke-width="0.9" />
<line x1="600.80" y1="769.11" x2="606.40" y2="769.11" stroke="#000" stroke-width="0.9" />
<line x1="600.80" y1="772.53" x2="606.40" y2="772.53" stroke="#000" stroke-width="0.9" />
<circle cx="600.06" cy="772.88" r="1.55" fill="#000"/>
<circle cx="605.26" cy="772.31" r="1.55" fill="#000"/>
<circle cx="600.85" cy="771.23" r="1.55" fill="#000"/>
<circle cx="601.61" cy="770.35" r="1.55" fill="#000"/>
<circle cx="603.81" cy="769.43" r="1.55" fill="#000"/>
<circle cx="600.63" cy="768.62" r="1.55" fill="#000"/>
<line x1="623.95" y1="722.34" x2="623.95" y2="726.62" stroke="#000" stroke-width="0.9" />
<line x1="621.07" y1="722.34" x2="626.83" y2="722.34" stroke="#000" stroke-width="0.9" />
<line x1="621.07" y1="726.62" x2="626.83" y2="726.62" stroke="#000" stroke-width="0.9" />
<circle cx="621.00" cy="727.12" r="1.55" fill="#000"/>
<circle cx="622.33" cy="726.34" r="1.55" fill="#000"/>
<circle cx="620.16" cy="724.87" r="1.55" fill="#000"/>
<circle cx="626.92" cy="724.06" r="1.55" fill="#000"/>
<circle cx="626.75" cy="722.63" r="1.55" fill="#000"/>
<circle cx="624.63" cy="721.57" r="1.55" fill="#000"/>
<line x1="634.75" y1="767.23" x2="634.75" y2="774.07" stroke="#000" stroke-width="0.9" />
<line x1="631.87" y1="767.23" x2="637.63" y2="767.23" stroke="#000" stroke-width="0.9" />
<line x1="631.87" y1="774.07" x2="637.63" y2="774.07" stroke="#000" stroke-width="0.9" />
<circle cx="630.86" cy="775.12" r="1.55" fill="#000"/>
<circle cx="632.94" cy="772.89" r="1.55" fill="#000"/>
<circle cx="635.64" cy="771.91" r="1.55" fill="#000"/>
<circle cx="637.84" cy="769.63" r="1.55" fill="#000"/>
<circle cx="638.28" cy="768.32" r="1.55" fill="#000"/>
<circle cx="636.35" cy="766.56" r="1.55" fill="#000"/>
<line x1="655.30" y1="717.64" x2="655.30" y2="731.32" stroke="#000" stroke-width="0.9" />
<line x1="652.28" y1="717.64" x2="658.32" y2="717.64" stroke="#000" stroke-width="0.9" />
<line x1="652.28" y1="731.32" x2="658.32" y2="731.32" stroke="#000" stroke-width="0.9" />
<circle cx="657.56" cy="732.66" r="1.55" fill="#000"/>
<circle cx="652.77" cy="729.35" r="1.55" fill="#000"/>
<circle cx="658.85" cy="726.83" r="1.55" fill="#000"/>
<circle cx="658.34" cy="722.00" r="1.55" fill="#000"/>
<circle cx="658.10" cy="719.71" r="1.55" fill="#000"/>
<circle cx="655.78" cy="715.26" r="1.55" fill="#000"/>
<line x1="666.35" y1="771.50" x2="666.35" y2="774.93" stroke="#000" stroke-width="0.9" />
<line x1="663.47" y1="771.50" x2="669.23" y2="771.50" stroke="#000" stroke-width="0.9" />
<line x1="663.47" y1="774.93" x2="669.23" y2="774.93" stroke="#000" stroke-width="0.9" />
<circle cx="667.98" cy="775.46" r="1.55" fill="#000"/>
<circle cx="663.55" cy="774.32" r="1.55" fill="#000"/>
<circle cx="664.75" cy="773.61" r="1.55" fill="#000"/>
<circle cx="666.65" cy="772.65" r="1.55" fill="#000"/>
<circle cx="669.64" cy="771.91" r="1.55" fill="#000"/>
<circle cx="667.22" cy="771.16" r="1.55" fill="#000"/>
<line x1="551.80" y1="693.20" x2="551.80" y2="779.70" stroke="#000" stroke-width="1.1" />
<line x1="551.30" y1="779.20" x2="675.50" y2="779.20" stroke="#000" stroke-width="1.1" />
<line x1="548.80" y1="779.20" x2="551.80" y2="779.20" stroke="#000" stroke-width="1.0" />
<text x="547.60" y="783.33" font-size="9.8" text-anchor="end" fill="#000" stroke="#000" stroke-width="0.2" style="" >0</text>
<line x1="548.80" y1="762.10" x2="551.80" y2="762.10" stroke="#000" stroke-width="1.0" />
<text x="547.60" y="766.23" font-size="9.8" text-anchor="end" fill="#000" stroke="#000" stroke-width="0.2" style="" >20</text>
<line x1="548.80" y1="745.00" x2="551.80" y2="745.00" stroke="#000" stroke-width="1.0" />
<text x="547.60" y="749.13" font-size="9.8" text-anchor="end" fill="#000" stroke="#000" stroke-width="0.2" style="" >40</text>
<line x1="548.80" y1="727.90" x2="551.80" y2="727.90" stroke="#000" stroke-width="1.0" />
<text x="547.60" y="732.03" font-size="9.8" text-anchor="end" fill="#000" stroke="#000" stroke-width="0.2" style="" >60</text>
<line x1="548.80" y1="710.80" x2="551.80" y2="710.80" stroke="#000" stroke-width="1.0" />
<text x="547.60" y="714.93" font-size="9.8" text-anchor="end" fill="#000" stroke="#000" stroke-width="0.2" style="" >80</text>
<line x1="548.80" y1="693.70" x2="551.80" y2="693.70" stroke="#000" stroke-width="1.0" />
<text x="547.60" y="697.83" font-size="9.8" text-anchor="end" fill="#000" stroke="#000" stroke-width="0.2" style="" >100</text>
<text x="569.50" y="699.98" font-size="6.9" text-anchor="middle" fill="#111" stroke="#111" stroke-width="0.2" style="" ><tspan style="font-style:italic">P</tspan>&lt;0.0001</text>
<line x1="558.00" y1="702.90" x2="573.50" y2="702.90" stroke="#000" stroke-width="0.9" />
<text x="598.50" y="692.48" font-size="6.9" text-anchor="middle" fill="#111" stroke="#111" stroke-width="0.2" style="" ><tspan style="font-style:italic">P</tspan>&lt;0.0001</text>
<line x1="591.30" y1="695.40" x2="607.50" y2="695.40" stroke="#000" stroke-width="0.9" />
<text x="630.30" y="699.98" font-size="6.9" text-anchor="middle" fill="#111" stroke="#111" stroke-width="0.2" style="" ><tspan style="font-style:italic">P</tspan>&lt;0.0001</text>
<line x1="622.90" y1="703.50" x2="637.70" y2="703.50" stroke="#000" stroke-width="0.9" />
<text x="658.20" y="692.48" font-size="6.9" text-anchor="middle" fill="#111" stroke="#111" stroke-width="0.2" style="" ><tspan style="font-style:italic">P</tspan>&lt;0.0001</text>
<line x1="652.60" y1="695.40" x2="668.00" y2="695.40" stroke="#000" stroke-width="0.9" />
<text x="567.10" y="790.13" font-size="9.8" text-anchor="middle" fill="#000" stroke="#000" stroke-width="0.2" style="" >BM</text>
<text x="599.50" y="790.13" font-size="9.8" text-anchor="middle" fill="#000" stroke="#000" stroke-width="0.2" style="" >LK</text>
<text x="630.00" y="790.13" font-size="9.8" text-anchor="middle" fill="#000" stroke="#000" stroke-width="0.2" style="" >LSK</text>
<text x="660.60" y="790.13" font-size="9.8" text-anchor="middle" fill="#000" stroke="#000" stroke-width="0.2" style="" >HSCs</text>
<line x1="554.00" y1="795.00" x2="670.10" y2="795.00" stroke="#000" stroke-width="0.9" />
<text x="614.10" y="806.33" font-size="9.8" text-anchor="middle" fill="#000" stroke="#000" stroke-width="0.2" style="" >4 mon (2<tspan font-size="5.59" dy="-3.33">nd</tspan><tspan dy="3.33">)</tspan></text>
<text transform="translate(526.53,735.30) rotate(-90)" font-size="9.8" text-anchor="middle" fill="#000" stroke="#000" stroke-width="0.2" style="">Donor chimerism in BM (%)</text>
</svg>
</body></html>
